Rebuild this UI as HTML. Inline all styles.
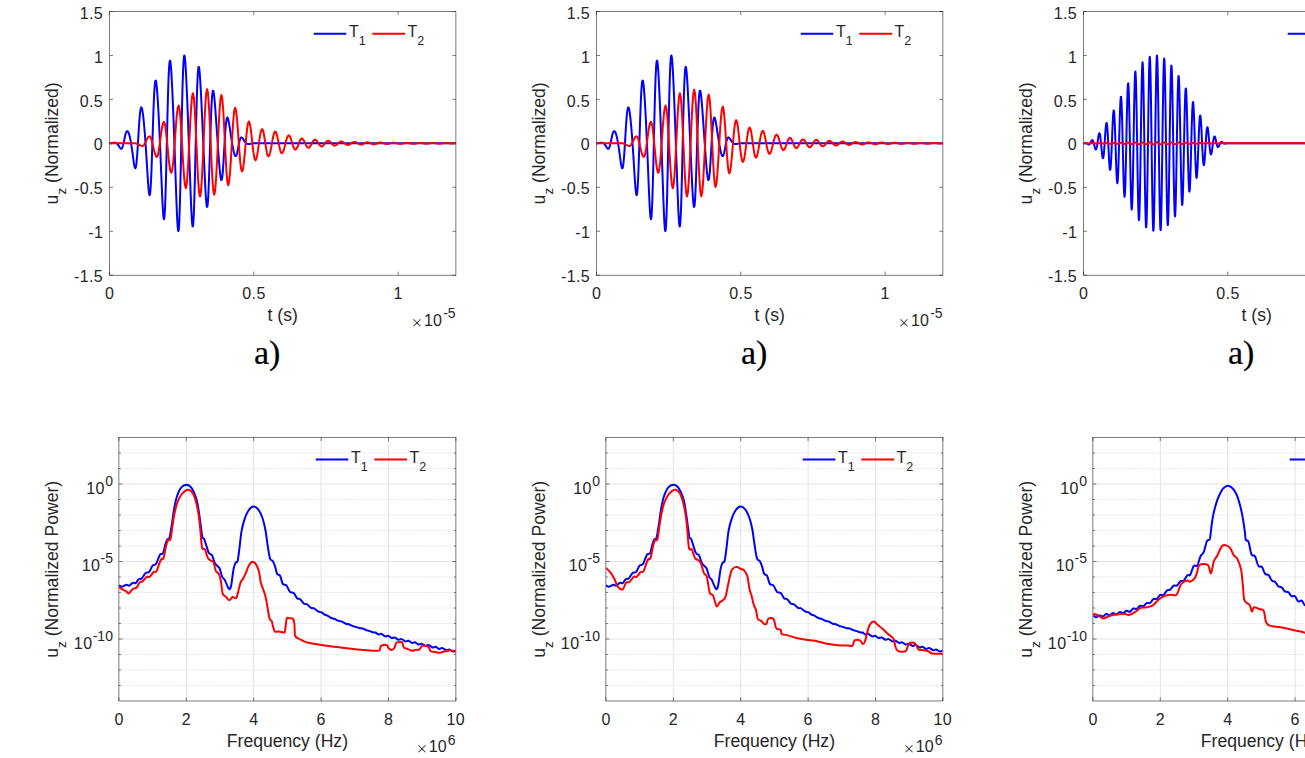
<!DOCTYPE html>
<html><head><meta charset="utf-8"><title>Figure</title>
<style>html,body{margin:0;padding:0;background:#fff;overflow:hidden}svg{display:block}</style>
</head><body>
<svg width="1305" height="758" viewBox="0 0 1305 758">
<rect width="1305" height="758" fill="#ffffff"/>
<defs><clipPath id="ct0"><rect x="109.4" y="11.5" width="346.5" height="263.7"/></clipPath></defs>
<rect x="109.4" y="11.5" width="346.5" height="263.7" fill="none" stroke="#262626" stroke-width="0.6"/>
<path d="M109.4 275.2H113M455.9 275.2H452.3" stroke="#262626" stroke-width="0.6"/>
<text x="74" y="282.3" font-size="16" text-anchor="start" font-family="'Liberation Sans', Arial, Helvetica, sans-serif" fill="#262626" letter-spacing="0.4">-1.5</text>
<path d="M109.4 231.25H113M455.9 231.25H452.3" stroke="#262626" stroke-width="0.6"/>
<text x="88.25" y="238.35" font-size="16" text-anchor="start" font-family="'Liberation Sans', Arial, Helvetica, sans-serif" fill="#262626" letter-spacing="0.4">-1</text>
<path d="M109.4 187.3H113M455.9 187.3H452.3" stroke="#262626" stroke-width="0.6"/>
<text x="74" y="194.4" font-size="16" text-anchor="start" font-family="'Liberation Sans', Arial, Helvetica, sans-serif" fill="#262626" letter-spacing="0.4">-0.5</text>
<path d="M109.4 143.35H113M455.9 143.35H452.3" stroke="#262626" stroke-width="0.6"/>
<text x="93.83" y="150.45" font-size="16" text-anchor="start" font-family="'Liberation Sans', Arial, Helvetica, sans-serif" fill="#262626" letter-spacing="0.4">0</text>
<path d="M109.4 99.4H113M455.9 99.4H452.3" stroke="#262626" stroke-width="0.6"/>
<text x="79.73" y="106.5" font-size="16" text-anchor="start" font-family="'Liberation Sans', Arial, Helvetica, sans-serif" fill="#262626" letter-spacing="0.4">0.5</text>
<path d="M109.4 55.45H113M455.9 55.45H452.3" stroke="#262626" stroke-width="0.6"/>
<text x="93.98" y="62.55" font-size="16" text-anchor="start" font-family="'Liberation Sans', Arial, Helvetica, sans-serif" fill="#262626" letter-spacing="0.4">1</text>
<path d="M109.4 11.5H113M455.9 11.5H452.3" stroke="#262626" stroke-width="0.6"/>
<text x="79.73" y="18.6" font-size="16" text-anchor="start" font-family="'Liberation Sans', Arial, Helvetica, sans-serif" fill="#262626" letter-spacing="0.4">1.5</text>
<path d="M109.4 275.2V271.6M109.4 11.5V15.1" stroke="#262626" stroke-width="0.6"/>
<text x="104.95" y="298.8" font-size="16" text-anchor="start" font-family="'Liberation Sans', Arial, Helvetica, sans-serif" fill="#262626" letter-spacing="0.4">0</text>
<path d="M253.78 275.2V271.6M253.78 11.5V15.1" stroke="#262626" stroke-width="0.6"/>
<text x="242.28" y="298.8" font-size="16" text-anchor="start" font-family="'Liberation Sans', Arial, Helvetica, sans-serif" fill="#262626" letter-spacing="0.4">0.5</text>
<path d="M398.15 275.2V271.6M398.15 11.5V15.1" stroke="#262626" stroke-width="0.6"/>
<text x="393.48" y="298.8" font-size="16" text-anchor="start" font-family="'Liberation Sans', Arial, Helvetica, sans-serif" fill="#262626" letter-spacing="0.4">1</text>
<text x="282.65" y="320.5" font-size="17.6" text-anchor="middle" font-family="'Liberation Sans', Arial, Helvetica, sans-serif" fill="#262626">t (s)</text>
<text x="443.14" y="318.2" font-size="14" text-anchor="start" font-family="'Liberation Sans', Arial, Helvetica, sans-serif" fill="#262626">-5</text>
<text x="423.99" y="325.6" font-size="16" text-anchor="start" font-family="'Liberation Sans', Arial, Helvetica, sans-serif" fill="#262626">10</text>
<text x="411.11" y="326.6" font-size="11.8" font-family="'Noto Sans CJK SC', 'Liberation Sans', sans-serif" fill="#262626">×</text>
<text transform="translate(58 143.35) rotate(-90)" font-size="17.6" text-anchor="middle" font-family="'Liberation Sans', Arial, Helvetica, sans-serif" fill="#262626">u<tspan font-size="13.5" dy="8">z</tspan><tspan dy="-8"> (Normalized)</tspan></text>
<text x="254" y="363.9" font-size="34" font-family="'Liberation Serif', 'Times New Roman', serif" fill="#000" stroke="#000" stroke-width="0.2">a)</text>
<defs><clipPath id="cb0"><rect x="118.9" y="437.5" width="337" height="263.5"/></clipPath></defs>
<path d="M186.3 437.5V701" stroke="#e3e3e3" stroke-width="1"/>
<path d="M253.7 437.5V701" stroke="#e3e3e3" stroke-width="1"/>
<path d="M321.1 437.5V701" stroke="#e3e3e3" stroke-width="1"/>
<path d="M388.5 437.5V701" stroke="#e3e3e3" stroke-width="1"/>
<path d="M118.9 685.5H455.9" stroke="#dcdcdc" stroke-width="1" stroke-dasharray="1 1.5"/>
<path d="M118.9 670H455.9" stroke="#dcdcdc" stroke-width="1" stroke-dasharray="1 1.5"/>
<path d="M118.9 654.5H455.9" stroke="#dcdcdc" stroke-width="1" stroke-dasharray="1 1.5"/>
<path d="M118.9 639H455.9" stroke="#e3e3e3" stroke-width="1"/>
<path d="M118.9 623.5H455.9" stroke="#dcdcdc" stroke-width="1" stroke-dasharray="1 1.5"/>
<path d="M118.9 608H455.9" stroke="#dcdcdc" stroke-width="1" stroke-dasharray="1 1.5"/>
<path d="M118.9 592.5H455.9" stroke="#dcdcdc" stroke-width="1" stroke-dasharray="1 1.5"/>
<path d="M118.9 577H455.9" stroke="#dcdcdc" stroke-width="1" stroke-dasharray="1 1.5"/>
<path d="M118.9 561.5H455.9" stroke="#e3e3e3" stroke-width="1"/>
<path d="M118.9 546H455.9" stroke="#dcdcdc" stroke-width="1" stroke-dasharray="1 1.5"/>
<path d="M118.9 530.5H455.9" stroke="#dcdcdc" stroke-width="1" stroke-dasharray="1 1.5"/>
<path d="M118.9 515H455.9" stroke="#dcdcdc" stroke-width="1" stroke-dasharray="1 1.5"/>
<path d="M118.9 499.5H455.9" stroke="#dcdcdc" stroke-width="1" stroke-dasharray="1 1.5"/>
<path d="M118.9 484H455.9" stroke="#e3e3e3" stroke-width="1"/>
<path d="M118.9 468.5H455.9" stroke="#dcdcdc" stroke-width="1" stroke-dasharray="1 1.5"/>
<path d="M118.9 453H455.9" stroke="#dcdcdc" stroke-width="1" stroke-dasharray="1 1.5"/>
<rect x="118.9" y="437.5" width="337" height="263.5" fill="none" stroke="#262626" stroke-width="0.6"/>
<path d="M118.9 685.5H120.9M455.9 685.5H453.9" stroke="#262626" stroke-width="0.6"/>
<path d="M118.9 670H120.9M455.9 670H453.9" stroke="#262626" stroke-width="0.6"/>
<path d="M118.9 654.5H120.9M455.9 654.5H453.9" stroke="#262626" stroke-width="0.6"/>
<path d="M118.9 639H122.5M455.9 639H452.3" stroke="#262626" stroke-width="0.6"/>
<path d="M118.9 623.5H120.9M455.9 623.5H453.9" stroke="#262626" stroke-width="0.6"/>
<path d="M118.9 608H120.9M455.9 608H453.9" stroke="#262626" stroke-width="0.6"/>
<path d="M118.9 592.5H120.9M455.9 592.5H453.9" stroke="#262626" stroke-width="0.6"/>
<path d="M118.9 577H120.9M455.9 577H453.9" stroke="#262626" stroke-width="0.6"/>
<path d="M118.9 561.5H122.5M455.9 561.5H452.3" stroke="#262626" stroke-width="0.6"/>
<path d="M118.9 546H120.9M455.9 546H453.9" stroke="#262626" stroke-width="0.6"/>
<path d="M118.9 530.5H120.9M455.9 530.5H453.9" stroke="#262626" stroke-width="0.6"/>
<path d="M118.9 515H120.9M455.9 515H453.9" stroke="#262626" stroke-width="0.6"/>
<path d="M118.9 499.5H120.9M455.9 499.5H453.9" stroke="#262626" stroke-width="0.6"/>
<path d="M118.9 484H122.5M455.9 484H452.3" stroke="#262626" stroke-width="0.6"/>
<path d="M118.9 468.5H120.9M455.9 468.5H453.9" stroke="#262626" stroke-width="0.6"/>
<path d="M118.9 453H120.9M455.9 453H453.9" stroke="#262626" stroke-width="0.6"/>
<path d="M118.9 701V697.4M118.9 437.5V441.1" stroke="#262626" stroke-width="0.6"/>
<text x="114.45" y="724.8" font-size="16" text-anchor="start" font-family="'Liberation Sans', Arial, Helvetica, sans-serif" fill="#262626" letter-spacing="0.4">0</text>
<path d="M186.3 701V697.4M186.3 437.5V441.1" stroke="#262626" stroke-width="0.6"/>
<text x="181.85" y="724.8" font-size="16" text-anchor="start" font-family="'Liberation Sans', Arial, Helvetica, sans-serif" fill="#262626" letter-spacing="0.4">2</text>
<path d="M253.7 701V697.4M253.7 437.5V441.1" stroke="#262626" stroke-width="0.6"/>
<text x="249.3" y="724.8" font-size="16" text-anchor="start" font-family="'Liberation Sans', Arial, Helvetica, sans-serif" fill="#262626" letter-spacing="0.4">4</text>
<path d="M321.1 701V697.4M321.1 437.5V441.1" stroke="#262626" stroke-width="0.6"/>
<text x="316.6" y="724.8" font-size="16" text-anchor="start" font-family="'Liberation Sans', Arial, Helvetica, sans-serif" fill="#262626" letter-spacing="0.4">6</text>
<path d="M388.5 701V697.4M388.5 437.5V441.1" stroke="#262626" stroke-width="0.6"/>
<text x="384.05" y="724.8" font-size="16" text-anchor="start" font-family="'Liberation Sans', Arial, Helvetica, sans-serif" fill="#262626" letter-spacing="0.4">8</text>
<path d="M455.9 701V697.4M455.9 437.5V441.1" stroke="#262626" stroke-width="0.6"/>
<text x="446.5" y="724.8" font-size="16" text-anchor="start" font-family="'Liberation Sans', Arial, Helvetica, sans-serif" fill="#262626" letter-spacing="0.4">10</text>
<text x="105.16" y="485.5" font-size="14" text-anchor="start" font-family="'Liberation Sans', Arial, Helvetica, sans-serif" fill="#262626">0</text>
<text x="86.24" y="493.6" font-size="16" text-anchor="start" font-family="'Liberation Sans', Arial, Helvetica, sans-serif" fill="#262626" letter-spacing="0.4">10</text>
<text x="100.54" y="563" font-size="14" text-anchor="start" font-family="'Liberation Sans', Arial, Helvetica, sans-serif" fill="#262626">-5</text>
<text x="81.69" y="571.1" font-size="16" text-anchor="start" font-family="'Liberation Sans', Arial, Helvetica, sans-serif" fill="#262626" letter-spacing="0.4">10</text>
<text x="92.71" y="640.5" font-size="14" text-anchor="start" font-family="'Liberation Sans', Arial, Helvetica, sans-serif" fill="#262626">-10</text>
<text x="73.86" y="648.6" font-size="16" text-anchor="start" font-family="'Liberation Sans', Arial, Helvetica, sans-serif" fill="#262626" letter-spacing="0.4">10</text>
<text x="287.4" y="746.7" font-size="17.6" text-anchor="middle" font-family="'Liberation Sans', Arial, Helvetica, sans-serif" fill="#262626">Frequency (Hz)</text>
<text x="447.83" y="744.8" font-size="14" text-anchor="start" font-family="'Liberation Sans', Arial, Helvetica, sans-serif" fill="#262626">6</text>
<text x="428.77" y="752.2" font-size="16" text-anchor="start" font-family="'Liberation Sans', Arial, Helvetica, sans-serif" fill="#262626">10</text>
<text x="415.89" y="753.2" font-size="11.8" font-family="'Noto Sans CJK SC', 'Liberation Sans', sans-serif" fill="#262626">×</text>
<text transform="translate(58 569.25) rotate(-90)" font-size="17.6" text-anchor="middle" font-family="'Liberation Sans', Arial, Helvetica, sans-serif" fill="#262626">u<tspan font-size="13.5" dy="8">z</tspan><tspan dy="-8"> (Normalized Power)</tspan></text>
<defs><clipPath id="ct1"><rect x="596.4" y="11.5" width="346.5" height="263.7"/></clipPath></defs>
<rect x="596.4" y="11.5" width="346.5" height="263.7" fill="none" stroke="#262626" stroke-width="0.6"/>
<path d="M596.4 275.2H600M942.9 275.2H939.3" stroke="#262626" stroke-width="0.6"/>
<text x="561" y="282.3" font-size="16" text-anchor="start" font-family="'Liberation Sans', Arial, Helvetica, sans-serif" fill="#262626" letter-spacing="0.4">-1.5</text>
<path d="M596.4 231.25H600M942.9 231.25H939.3" stroke="#262626" stroke-width="0.6"/>
<text x="575.25" y="238.35" font-size="16" text-anchor="start" font-family="'Liberation Sans', Arial, Helvetica, sans-serif" fill="#262626" letter-spacing="0.4">-1</text>
<path d="M596.4 187.3H600M942.9 187.3H939.3" stroke="#262626" stroke-width="0.6"/>
<text x="561" y="194.4" font-size="16" text-anchor="start" font-family="'Liberation Sans', Arial, Helvetica, sans-serif" fill="#262626" letter-spacing="0.4">-0.5</text>
<path d="M596.4 143.35H600M942.9 143.35H939.3" stroke="#262626" stroke-width="0.6"/>
<text x="580.83" y="150.45" font-size="16" text-anchor="start" font-family="'Liberation Sans', Arial, Helvetica, sans-serif" fill="#262626" letter-spacing="0.4">0</text>
<path d="M596.4 99.4H600M942.9 99.4H939.3" stroke="#262626" stroke-width="0.6"/>
<text x="566.73" y="106.5" font-size="16" text-anchor="start" font-family="'Liberation Sans', Arial, Helvetica, sans-serif" fill="#262626" letter-spacing="0.4">0.5</text>
<path d="M596.4 55.45H600M942.9 55.45H939.3" stroke="#262626" stroke-width="0.6"/>
<text x="580.98" y="62.55" font-size="16" text-anchor="start" font-family="'Liberation Sans', Arial, Helvetica, sans-serif" fill="#262626" letter-spacing="0.4">1</text>
<path d="M596.4 11.5H600M942.9 11.5H939.3" stroke="#262626" stroke-width="0.6"/>
<text x="566.73" y="18.6" font-size="16" text-anchor="start" font-family="'Liberation Sans', Arial, Helvetica, sans-serif" fill="#262626" letter-spacing="0.4">1.5</text>
<path d="M596.4 275.2V271.6M596.4 11.5V15.1" stroke="#262626" stroke-width="0.6"/>
<text x="591.95" y="298.8" font-size="16" text-anchor="start" font-family="'Liberation Sans', Arial, Helvetica, sans-serif" fill="#262626" letter-spacing="0.4">0</text>
<path d="M740.77 275.2V271.6M740.77 11.5V15.1" stroke="#262626" stroke-width="0.6"/>
<text x="729.28" y="298.8" font-size="16" text-anchor="start" font-family="'Liberation Sans', Arial, Helvetica, sans-serif" fill="#262626" letter-spacing="0.4">0.5</text>
<path d="M885.15 275.2V271.6M885.15 11.5V15.1" stroke="#262626" stroke-width="0.6"/>
<text x="880.48" y="298.8" font-size="16" text-anchor="start" font-family="'Liberation Sans', Arial, Helvetica, sans-serif" fill="#262626" letter-spacing="0.4">1</text>
<text x="769.65" y="320.5" font-size="17.6" text-anchor="middle" font-family="'Liberation Sans', Arial, Helvetica, sans-serif" fill="#262626">t (s)</text>
<text x="930.14" y="318.2" font-size="14" text-anchor="start" font-family="'Liberation Sans', Arial, Helvetica, sans-serif" fill="#262626">-5</text>
<text x="910.99" y="325.6" font-size="16" text-anchor="start" font-family="'Liberation Sans', Arial, Helvetica, sans-serif" fill="#262626">10</text>
<text x="898.11" y="326.6" font-size="11.8" font-family="'Noto Sans CJK SC', 'Liberation Sans', sans-serif" fill="#262626">×</text>
<text transform="translate(545 143.35) rotate(-90)" font-size="17.6" text-anchor="middle" font-family="'Liberation Sans', Arial, Helvetica, sans-serif" fill="#262626">u<tspan font-size="13.5" dy="8">z</tspan><tspan dy="-8"> (Normalized)</tspan></text>
<text x="741" y="363.9" font-size="34" font-family="'Liberation Serif', 'Times New Roman', serif" fill="#000" stroke="#000" stroke-width="0.2">a)</text>
<defs><clipPath id="cb1"><rect x="605.9" y="437.5" width="337" height="263.5"/></clipPath></defs>
<path d="M673.3 437.5V701" stroke="#e3e3e3" stroke-width="1"/>
<path d="M740.7 437.5V701" stroke="#e3e3e3" stroke-width="1"/>
<path d="M808.1 437.5V701" stroke="#e3e3e3" stroke-width="1"/>
<path d="M875.5 437.5V701" stroke="#e3e3e3" stroke-width="1"/>
<path d="M605.9 685.5H942.9" stroke="#dcdcdc" stroke-width="1" stroke-dasharray="1 1.5"/>
<path d="M605.9 670H942.9" stroke="#dcdcdc" stroke-width="1" stroke-dasharray="1 1.5"/>
<path d="M605.9 654.5H942.9" stroke="#dcdcdc" stroke-width="1" stroke-dasharray="1 1.5"/>
<path d="M605.9 639H942.9" stroke="#e3e3e3" stroke-width="1"/>
<path d="M605.9 623.5H942.9" stroke="#dcdcdc" stroke-width="1" stroke-dasharray="1 1.5"/>
<path d="M605.9 608H942.9" stroke="#dcdcdc" stroke-width="1" stroke-dasharray="1 1.5"/>
<path d="M605.9 592.5H942.9" stroke="#dcdcdc" stroke-width="1" stroke-dasharray="1 1.5"/>
<path d="M605.9 577H942.9" stroke="#dcdcdc" stroke-width="1" stroke-dasharray="1 1.5"/>
<path d="M605.9 561.5H942.9" stroke="#e3e3e3" stroke-width="1"/>
<path d="M605.9 546H942.9" stroke="#dcdcdc" stroke-width="1" stroke-dasharray="1 1.5"/>
<path d="M605.9 530.5H942.9" stroke="#dcdcdc" stroke-width="1" stroke-dasharray="1 1.5"/>
<path d="M605.9 515H942.9" stroke="#dcdcdc" stroke-width="1" stroke-dasharray="1 1.5"/>
<path d="M605.9 499.5H942.9" stroke="#dcdcdc" stroke-width="1" stroke-dasharray="1 1.5"/>
<path d="M605.9 484H942.9" stroke="#e3e3e3" stroke-width="1"/>
<path d="M605.9 468.5H942.9" stroke="#dcdcdc" stroke-width="1" stroke-dasharray="1 1.5"/>
<path d="M605.9 453H942.9" stroke="#dcdcdc" stroke-width="1" stroke-dasharray="1 1.5"/>
<rect x="605.9" y="437.5" width="337" height="263.5" fill="none" stroke="#262626" stroke-width="0.6"/>
<path d="M605.9 685.5H607.9M942.9 685.5H940.9" stroke="#262626" stroke-width="0.6"/>
<path d="M605.9 670H607.9M942.9 670H940.9" stroke="#262626" stroke-width="0.6"/>
<path d="M605.9 654.5H607.9M942.9 654.5H940.9" stroke="#262626" stroke-width="0.6"/>
<path d="M605.9 639H609.5M942.9 639H939.3" stroke="#262626" stroke-width="0.6"/>
<path d="M605.9 623.5H607.9M942.9 623.5H940.9" stroke="#262626" stroke-width="0.6"/>
<path d="M605.9 608H607.9M942.9 608H940.9" stroke="#262626" stroke-width="0.6"/>
<path d="M605.9 592.5H607.9M942.9 592.5H940.9" stroke="#262626" stroke-width="0.6"/>
<path d="M605.9 577H607.9M942.9 577H940.9" stroke="#262626" stroke-width="0.6"/>
<path d="M605.9 561.5H609.5M942.9 561.5H939.3" stroke="#262626" stroke-width="0.6"/>
<path d="M605.9 546H607.9M942.9 546H940.9" stroke="#262626" stroke-width="0.6"/>
<path d="M605.9 530.5H607.9M942.9 530.5H940.9" stroke="#262626" stroke-width="0.6"/>
<path d="M605.9 515H607.9M942.9 515H940.9" stroke="#262626" stroke-width="0.6"/>
<path d="M605.9 499.5H607.9M942.9 499.5H940.9" stroke="#262626" stroke-width="0.6"/>
<path d="M605.9 484H609.5M942.9 484H939.3" stroke="#262626" stroke-width="0.6"/>
<path d="M605.9 468.5H607.9M942.9 468.5H940.9" stroke="#262626" stroke-width="0.6"/>
<path d="M605.9 453H607.9M942.9 453H940.9" stroke="#262626" stroke-width="0.6"/>
<path d="M605.9 701V697.4M605.9 437.5V441.1" stroke="#262626" stroke-width="0.6"/>
<text x="601.45" y="724.8" font-size="16" text-anchor="start" font-family="'Liberation Sans', Arial, Helvetica, sans-serif" fill="#262626" letter-spacing="0.4">0</text>
<path d="M673.3 701V697.4M673.3 437.5V441.1" stroke="#262626" stroke-width="0.6"/>
<text x="668.85" y="724.8" font-size="16" text-anchor="start" font-family="'Liberation Sans', Arial, Helvetica, sans-serif" fill="#262626" letter-spacing="0.4">2</text>
<path d="M740.7 701V697.4M740.7 437.5V441.1" stroke="#262626" stroke-width="0.6"/>
<text x="736.3" y="724.8" font-size="16" text-anchor="start" font-family="'Liberation Sans', Arial, Helvetica, sans-serif" fill="#262626" letter-spacing="0.4">4</text>
<path d="M808.1 701V697.4M808.1 437.5V441.1" stroke="#262626" stroke-width="0.6"/>
<text x="803.6" y="724.8" font-size="16" text-anchor="start" font-family="'Liberation Sans', Arial, Helvetica, sans-serif" fill="#262626" letter-spacing="0.4">6</text>
<path d="M875.5 701V697.4M875.5 437.5V441.1" stroke="#262626" stroke-width="0.6"/>
<text x="871.05" y="724.8" font-size="16" text-anchor="start" font-family="'Liberation Sans', Arial, Helvetica, sans-serif" fill="#262626" letter-spacing="0.4">8</text>
<path d="M942.9 701V697.4M942.9 437.5V441.1" stroke="#262626" stroke-width="0.6"/>
<text x="933.5" y="724.8" font-size="16" text-anchor="start" font-family="'Liberation Sans', Arial, Helvetica, sans-serif" fill="#262626" letter-spacing="0.4">10</text>
<text x="592.16" y="485.5" font-size="14" text-anchor="start" font-family="'Liberation Sans', Arial, Helvetica, sans-serif" fill="#262626">0</text>
<text x="573.24" y="493.6" font-size="16" text-anchor="start" font-family="'Liberation Sans', Arial, Helvetica, sans-serif" fill="#262626" letter-spacing="0.4">10</text>
<text x="587.54" y="563" font-size="14" text-anchor="start" font-family="'Liberation Sans', Arial, Helvetica, sans-serif" fill="#262626">-5</text>
<text x="568.69" y="571.1" font-size="16" text-anchor="start" font-family="'Liberation Sans', Arial, Helvetica, sans-serif" fill="#262626" letter-spacing="0.4">10</text>
<text x="579.71" y="640.5" font-size="14" text-anchor="start" font-family="'Liberation Sans', Arial, Helvetica, sans-serif" fill="#262626">-10</text>
<text x="560.86" y="648.6" font-size="16" text-anchor="start" font-family="'Liberation Sans', Arial, Helvetica, sans-serif" fill="#262626" letter-spacing="0.4">10</text>
<text x="774.4" y="746.7" font-size="17.6" text-anchor="middle" font-family="'Liberation Sans', Arial, Helvetica, sans-serif" fill="#262626">Frequency (Hz)</text>
<text x="934.83" y="744.8" font-size="14" text-anchor="start" font-family="'Liberation Sans', Arial, Helvetica, sans-serif" fill="#262626">6</text>
<text x="915.77" y="752.2" font-size="16" text-anchor="start" font-family="'Liberation Sans', Arial, Helvetica, sans-serif" fill="#262626">10</text>
<text x="902.89" y="753.2" font-size="11.8" font-family="'Noto Sans CJK SC', 'Liberation Sans', sans-serif" fill="#262626">×</text>
<text transform="translate(545 569.25) rotate(-90)" font-size="17.6" text-anchor="middle" font-family="'Liberation Sans', Arial, Helvetica, sans-serif" fill="#262626">u<tspan font-size="13.5" dy="8">z</tspan><tspan dy="-8"> (Normalized Power)</tspan></text>
<defs><clipPath id="ct2"><rect x="1083.4" y="11.5" width="346.5" height="263.7"/></clipPath></defs>
<rect x="1083.4" y="11.5" width="346.5" height="263.7" fill="none" stroke="#262626" stroke-width="0.6"/>
<path d="M1083.4 275.2H1087M1429.9 275.2H1426.3" stroke="#262626" stroke-width="0.6"/>
<text x="1048" y="282.3" font-size="16" text-anchor="start" font-family="'Liberation Sans', Arial, Helvetica, sans-serif" fill="#262626" letter-spacing="0.4">-1.5</text>
<path d="M1083.4 231.25H1087M1429.9 231.25H1426.3" stroke="#262626" stroke-width="0.6"/>
<text x="1062.25" y="238.35" font-size="16" text-anchor="start" font-family="'Liberation Sans', Arial, Helvetica, sans-serif" fill="#262626" letter-spacing="0.4">-1</text>
<path d="M1083.4 187.3H1087M1429.9 187.3H1426.3" stroke="#262626" stroke-width="0.6"/>
<text x="1048" y="194.4" font-size="16" text-anchor="start" font-family="'Liberation Sans', Arial, Helvetica, sans-serif" fill="#262626" letter-spacing="0.4">-0.5</text>
<path d="M1083.4 143.35H1087M1429.9 143.35H1426.3" stroke="#262626" stroke-width="0.6"/>
<text x="1067.83" y="150.45" font-size="16" text-anchor="start" font-family="'Liberation Sans', Arial, Helvetica, sans-serif" fill="#262626" letter-spacing="0.4">0</text>
<path d="M1083.4 99.4H1087M1429.9 99.4H1426.3" stroke="#262626" stroke-width="0.6"/>
<text x="1053.73" y="106.5" font-size="16" text-anchor="start" font-family="'Liberation Sans', Arial, Helvetica, sans-serif" fill="#262626" letter-spacing="0.4">0.5</text>
<path d="M1083.4 55.45H1087M1429.9 55.45H1426.3" stroke="#262626" stroke-width="0.6"/>
<text x="1067.98" y="62.55" font-size="16" text-anchor="start" font-family="'Liberation Sans', Arial, Helvetica, sans-serif" fill="#262626" letter-spacing="0.4">1</text>
<path d="M1083.4 11.5H1087M1429.9 11.5H1426.3" stroke="#262626" stroke-width="0.6"/>
<text x="1053.73" y="18.6" font-size="16" text-anchor="start" font-family="'Liberation Sans', Arial, Helvetica, sans-serif" fill="#262626" letter-spacing="0.4">1.5</text>
<path d="M1083.4 275.2V271.6M1083.4 11.5V15.1" stroke="#262626" stroke-width="0.6"/>
<text x="1078.95" y="298.8" font-size="16" text-anchor="start" font-family="'Liberation Sans', Arial, Helvetica, sans-serif" fill="#262626" letter-spacing="0.4">0</text>
<path d="M1227.78 275.2V271.6M1227.78 11.5V15.1" stroke="#262626" stroke-width="0.6"/>
<text x="1216.28" y="298.8" font-size="16" text-anchor="start" font-family="'Liberation Sans', Arial, Helvetica, sans-serif" fill="#262626" letter-spacing="0.4">0.5</text>
<path d="M1372.15 275.2V271.6M1372.15 11.5V15.1" stroke="#262626" stroke-width="0.6"/>
<text x="1367.48" y="298.8" font-size="16" text-anchor="start" font-family="'Liberation Sans', Arial, Helvetica, sans-serif" fill="#262626" letter-spacing="0.4">1</text>
<text x="1256.65" y="320.5" font-size="17.6" text-anchor="middle" font-family="'Liberation Sans', Arial, Helvetica, sans-serif" fill="#262626">t (s)</text>
<text x="1417.14" y="318.2" font-size="14" text-anchor="start" font-family="'Liberation Sans', Arial, Helvetica, sans-serif" fill="#262626">-5</text>
<text x="1397.99" y="325.6" font-size="16" text-anchor="start" font-family="'Liberation Sans', Arial, Helvetica, sans-serif" fill="#262626">10</text>
<text x="1385.11" y="326.6" font-size="11.8" font-family="'Noto Sans CJK SC', 'Liberation Sans', sans-serif" fill="#262626">×</text>
<text transform="translate(1032 143.35) rotate(-90)" font-size="17.6" text-anchor="middle" font-family="'Liberation Sans', Arial, Helvetica, sans-serif" fill="#262626">u<tspan font-size="13.5" dy="8">z</tspan><tspan dy="-8"> (Normalized)</tspan></text>
<text x="1228" y="363.9" font-size="34" font-family="'Liberation Serif', 'Times New Roman', serif" fill="#000" stroke="#000" stroke-width="0.2">a)</text>
<defs><clipPath id="cb2"><rect x="1092.9" y="437.5" width="337" height="263.5"/></clipPath></defs>
<path d="M1160.3 437.5V701" stroke="#e3e3e3" stroke-width="1"/>
<path d="M1227.7 437.5V701" stroke="#e3e3e3" stroke-width="1"/>
<path d="M1295.1 437.5V701" stroke="#e3e3e3" stroke-width="1"/>
<path d="M1362.5 437.5V701" stroke="#e3e3e3" stroke-width="1"/>
<path d="M1092.9 685.5H1429.9" stroke="#dcdcdc" stroke-width="1" stroke-dasharray="1 1.5"/>
<path d="M1092.9 670H1429.9" stroke="#dcdcdc" stroke-width="1" stroke-dasharray="1 1.5"/>
<path d="M1092.9 654.5H1429.9" stroke="#dcdcdc" stroke-width="1" stroke-dasharray="1 1.5"/>
<path d="M1092.9 639H1429.9" stroke="#e3e3e3" stroke-width="1"/>
<path d="M1092.9 623.5H1429.9" stroke="#dcdcdc" stroke-width="1" stroke-dasharray="1 1.5"/>
<path d="M1092.9 608H1429.9" stroke="#dcdcdc" stroke-width="1" stroke-dasharray="1 1.5"/>
<path d="M1092.9 592.5H1429.9" stroke="#dcdcdc" stroke-width="1" stroke-dasharray="1 1.5"/>
<path d="M1092.9 577H1429.9" stroke="#dcdcdc" stroke-width="1" stroke-dasharray="1 1.5"/>
<path d="M1092.9 561.5H1429.9" stroke="#e3e3e3" stroke-width="1"/>
<path d="M1092.9 546H1429.9" stroke="#dcdcdc" stroke-width="1" stroke-dasharray="1 1.5"/>
<path d="M1092.9 530.5H1429.9" stroke="#dcdcdc" stroke-width="1" stroke-dasharray="1 1.5"/>
<path d="M1092.9 515H1429.9" stroke="#dcdcdc" stroke-width="1" stroke-dasharray="1 1.5"/>
<path d="M1092.9 499.5H1429.9" stroke="#dcdcdc" stroke-width="1" stroke-dasharray="1 1.5"/>
<path d="M1092.9 484H1429.9" stroke="#e3e3e3" stroke-width="1"/>
<path d="M1092.9 468.5H1429.9" stroke="#dcdcdc" stroke-width="1" stroke-dasharray="1 1.5"/>
<path d="M1092.9 453H1429.9" stroke="#dcdcdc" stroke-width="1" stroke-dasharray="1 1.5"/>
<rect x="1092.9" y="437.5" width="337" height="263.5" fill="none" stroke="#262626" stroke-width="0.6"/>
<path d="M1092.9 685.5H1094.9M1429.9 685.5H1427.9" stroke="#262626" stroke-width="0.6"/>
<path d="M1092.9 670H1094.9M1429.9 670H1427.9" stroke="#262626" stroke-width="0.6"/>
<path d="M1092.9 654.5H1094.9M1429.9 654.5H1427.9" stroke="#262626" stroke-width="0.6"/>
<path d="M1092.9 639H1096.5M1429.9 639H1426.3" stroke="#262626" stroke-width="0.6"/>
<path d="M1092.9 623.5H1094.9M1429.9 623.5H1427.9" stroke="#262626" stroke-width="0.6"/>
<path d="M1092.9 608H1094.9M1429.9 608H1427.9" stroke="#262626" stroke-width="0.6"/>
<path d="M1092.9 592.5H1094.9M1429.9 592.5H1427.9" stroke="#262626" stroke-width="0.6"/>
<path d="M1092.9 577H1094.9M1429.9 577H1427.9" stroke="#262626" stroke-width="0.6"/>
<path d="M1092.9 561.5H1096.5M1429.9 561.5H1426.3" stroke="#262626" stroke-width="0.6"/>
<path d="M1092.9 546H1094.9M1429.9 546H1427.9" stroke="#262626" stroke-width="0.6"/>
<path d="M1092.9 530.5H1094.9M1429.9 530.5H1427.9" stroke="#262626" stroke-width="0.6"/>
<path d="M1092.9 515H1094.9M1429.9 515H1427.9" stroke="#262626" stroke-width="0.6"/>
<path d="M1092.9 499.5H1094.9M1429.9 499.5H1427.9" stroke="#262626" stroke-width="0.6"/>
<path d="M1092.9 484H1096.5M1429.9 484H1426.3" stroke="#262626" stroke-width="0.6"/>
<path d="M1092.9 468.5H1094.9M1429.9 468.5H1427.9" stroke="#262626" stroke-width="0.6"/>
<path d="M1092.9 453H1094.9M1429.9 453H1427.9" stroke="#262626" stroke-width="0.6"/>
<path d="M1092.9 701V697.4M1092.9 437.5V441.1" stroke="#262626" stroke-width="0.6"/>
<text x="1088.45" y="724.8" font-size="16" text-anchor="start" font-family="'Liberation Sans', Arial, Helvetica, sans-serif" fill="#262626" letter-spacing="0.4">0</text>
<path d="M1160.3 701V697.4M1160.3 437.5V441.1" stroke="#262626" stroke-width="0.6"/>
<text x="1155.85" y="724.8" font-size="16" text-anchor="start" font-family="'Liberation Sans', Arial, Helvetica, sans-serif" fill="#262626" letter-spacing="0.4">2</text>
<path d="M1227.7 701V697.4M1227.7 437.5V441.1" stroke="#262626" stroke-width="0.6"/>
<text x="1223.3" y="724.8" font-size="16" text-anchor="start" font-family="'Liberation Sans', Arial, Helvetica, sans-serif" fill="#262626" letter-spacing="0.4">4</text>
<path d="M1295.1 701V697.4M1295.1 437.5V441.1" stroke="#262626" stroke-width="0.6"/>
<text x="1290.6" y="724.8" font-size="16" text-anchor="start" font-family="'Liberation Sans', Arial, Helvetica, sans-serif" fill="#262626" letter-spacing="0.4">6</text>
<path d="M1362.5 701V697.4M1362.5 437.5V441.1" stroke="#262626" stroke-width="0.6"/>
<text x="1358.05" y="724.8" font-size="16" text-anchor="start" font-family="'Liberation Sans', Arial, Helvetica, sans-serif" fill="#262626" letter-spacing="0.4">8</text>
<path d="M1429.9 701V697.4M1429.9 437.5V441.1" stroke="#262626" stroke-width="0.6"/>
<text x="1420.5" y="724.8" font-size="16" text-anchor="start" font-family="'Liberation Sans', Arial, Helvetica, sans-serif" fill="#262626" letter-spacing="0.4">10</text>
<text x="1079.16" y="485.5" font-size="14" text-anchor="start" font-family="'Liberation Sans', Arial, Helvetica, sans-serif" fill="#262626">0</text>
<text x="1060.24" y="493.6" font-size="16" text-anchor="start" font-family="'Liberation Sans', Arial, Helvetica, sans-serif" fill="#262626" letter-spacing="0.4">10</text>
<text x="1074.54" y="563" font-size="14" text-anchor="start" font-family="'Liberation Sans', Arial, Helvetica, sans-serif" fill="#262626">-5</text>
<text x="1055.69" y="571.1" font-size="16" text-anchor="start" font-family="'Liberation Sans', Arial, Helvetica, sans-serif" fill="#262626" letter-spacing="0.4">10</text>
<text x="1066.71" y="640.5" font-size="14" text-anchor="start" font-family="'Liberation Sans', Arial, Helvetica, sans-serif" fill="#262626">-10</text>
<text x="1047.86" y="648.6" font-size="16" text-anchor="start" font-family="'Liberation Sans', Arial, Helvetica, sans-serif" fill="#262626" letter-spacing="0.4">10</text>
<text x="1261.4" y="746.7" font-size="17.6" text-anchor="middle" font-family="'Liberation Sans', Arial, Helvetica, sans-serif" fill="#262626">Frequency (Hz)</text>
<text x="1421.83" y="744.8" font-size="14" text-anchor="start" font-family="'Liberation Sans', Arial, Helvetica, sans-serif" fill="#262626">6</text>
<text x="1402.77" y="752.2" font-size="16" text-anchor="start" font-family="'Liberation Sans', Arial, Helvetica, sans-serif" fill="#262626">10</text>
<text x="1389.89" y="753.2" font-size="11.8" font-family="'Noto Sans CJK SC', 'Liberation Sans', sans-serif" fill="#262626">×</text>
<text transform="translate(1032 569.25) rotate(-90)" font-size="17.6" text-anchor="middle" font-family="'Liberation Sans', Arial, Helvetica, sans-serif" fill="#262626">u<tspan font-size="13.5" dy="8">z</tspan><tspan dy="-8"> (Normalized Power)</tspan></text>
<path d="M109.4 143.35 L109.65 143.35 L109.9 143.35 L110.14 143.34 L110.39 143.32 L110.64 143.3 L110.89 143.27 L111.13 143.24 L111.38 143.2 L111.63 143.15 L111.88 143.1 L112.12 143.04 L112.37 142.98 L112.62 142.92 L112.87 142.87 L113.12 142.82 L113.36 142.77 L113.61 142.73 L113.86 142.7 L114.11 142.67 L114.35 142.66 L114.6 142.66 L114.85 142.68 L115.1 142.71 L115.34 142.76 L115.59 142.82 L115.84 142.91 L116.09 143.01 L116.33 143.14 L116.58 143.3 L116.83 143.48 L117.08 143.69 L117.33 143.92 L117.57 144.19 L117.82 144.48 L118.07 144.8 L118.32 145.15 L118.56 145.51 L118.81 145.9 L119.06 146.3 L119.31 146.71 L119.55 147.11 L119.8 147.49 L120.05 147.85 L120.3 148.18 L120.55 148.44 L120.79 148.64 L121.04 148.75 L121.29 148.76 L121.54 148.66 L121.78 148.44 L122.03 148.08 L122.28 147.59 L122.53 146.97 L122.77 146.22 L123.02 145.35 L123.27 144.37 L123.52 143.3 L123.77 142.17 L124.01 140.99 L124.26 139.78 L124.51 138.59 L124.76 137.42 L125 136.31 L125.25 135.27 L125.5 134.32 L125.75 133.49 L125.99 132.77 L126.24 132.17 L126.49 131.71 L126.74 131.38 L126.99 131.19 L127.23 131.13 L127.48 131.19 L127.73 131.37 L127.98 131.66 L128.22 132.07 L128.47 132.57 L128.72 133.17 L128.97 133.87 L129.21 134.65 L129.46 135.52 L129.71 136.48 L129.96 137.52 L130.2 138.64 L130.45 139.84 L130.7 141.13 L130.95 142.51 L131.2 143.96 L131.44 145.5 L131.69 147.12 L131.94 148.81 L132.19 150.57 L132.43 152.39 L132.68 154.24 L132.93 156.11 L133.18 157.98 L133.42 159.81 L133.67 161.58 L133.92 163.23 L134.17 164.73 L134.42 166.04 L134.66 167.09 L134.91 167.84 L135.16 168.24 L135.41 168.26 L135.65 167.84 L135.9 166.97 L136.15 165.62 L136.4 163.79 L136.64 161.5 L136.89 158.76 L137.14 155.62 L137.39 152.12 L137.64 148.34 L137.88 144.36 L138.13 140.25 L138.38 136.11 L138.63 132.01 L138.87 128.05 L139.12 124.3 L139.37 120.83 L139.62 117.69 L139.86 114.94 L140.11 112.6 L140.36 110.69 L140.61 109.22 L140.85 108.2 L141.1 107.6 L141.35 107.41 L141.6 107.6 L141.85 108.16 L142.09 109.04 L142.34 110.22 L142.59 111.68 L142.84 113.38 L143.08 115.3 L143.33 117.43 L143.58 119.74 L143.83 122.23 L144.07 124.87 L144.32 127.67 L144.57 130.61 L144.82 133.7 L145.07 136.92 L145.31 140.29 L145.56 143.79 L145.81 147.41 L146.06 151.15 L146.3 155 L146.55 158.93 L146.8 162.92 L147.05 166.94 L147.29 170.95 L147.54 174.88 L147.79 178.69 L148.04 182.31 L148.29 185.65 L148.53 188.63 L148.78 191.17 L149.03 193.16 L149.28 194.52 L149.52 195.17 L149.77 195.02 L150.02 194.02 L150.27 192.12 L150.51 189.29 L150.76 185.55 L151.01 180.93 L151.26 175.48 L151.51 169.29 L151.75 162.48 L152 155.19 L152.25 147.55 L152.5 139.74 L152.74 131.93 L152.99 124.26 L153.24 116.91 L153.49 110.01 L153.73 103.68 L153.98 98.02 L154.23 93.1 L154.48 88.97 L154.72 85.67 L154.97 83.2 L155.22 81.53 L155.47 80.64 L155.72 80.49 L155.96 81.03 L156.21 82.18 L156.46 83.91 L156.71 86.14 L156.95 88.81 L157.2 91.89 L157.45 95.31 L157.7 99.04 L157.94 103.04 L158.19 107.28 L158.44 111.74 L158.69 116.41 L158.94 121.26 L159.18 126.3 L159.43 131.5 L159.68 136.87 L159.93 142.4 L160.17 148.07 L160.42 153.88 L160.67 159.79 L160.92 165.79 L161.16 171.83 L161.41 177.87 L161.66 183.84 L161.91 189.68 L162.16 195.29 L162.4 200.59 L162.65 205.47 L162.9 209.79 L163.15 213.45 L163.39 216.32 L163.64 218.27 L163.89 219.18 L164.14 218.96 L164.38 217.52 L164.63 214.81 L164.88 210.8 L165.13 205.52 L165.37 199 L165.62 191.34 L165.87 182.67 L166.12 173.15 L166.37 162.97 L166.61 152.35 L166.86 141.51 L167.11 130.69 L167.36 120.11 L167.6 109.98 L167.85 100.51 L168.1 91.84 L168.35 84.11 L168.59 77.43 L168.84 71.86 L169.09 67.42 L169.34 64.12 L169.59 61.92 L169.83 60.79 L170.08 60.65 L170.33 61.43 L170.58 63.04 L170.82 65.4 L171.07 68.41 L171.32 72 L171.57 76.09 L171.81 80.6 L172.06 85.49 L172.31 90.69 L172.56 96.17 L172.81 101.89 L173.05 107.83 L173.3 113.96 L173.55 120.28 L173.8 126.76 L174.04 133.4 L174.29 140.18 L174.54 147.09 L174.79 154.12 L175.03 161.24 L175.28 168.42 L175.53 175.61 L175.78 182.76 L176.03 189.8 L176.27 196.66 L176.52 203.23 L176.77 209.41 L177.02 215.09 L177.26 220.12 L177.51 224.37 L177.76 227.71 L178.01 230 L178.25 231.11 L178.5 230.93 L178.75 229.38 L179 226.39 L179.24 221.95 L179.49 216.07 L179.74 208.81 L179.99 200.28 L180.24 190.63 L180.48 180.02 L180.73 168.7 L180.98 156.88 L181.23 144.83 L181.47 132.81 L181.72 121.07 L181.97 109.84 L182.22 99.35 L182.46 89.76 L182.71 81.23 L182.96 73.86 L183.21 67.72 L183.46 62.84 L183.7 59.22 L183.95 56.83 L184.2 55.59 L184.45 55.45 L184.69 56.3 L184.94 58.05 L185.19 60.61 L185.44 63.85 L185.68 67.71 L185.93 72.07 L186.18 76.88 L186.43 82.05 L186.68 87.53 L186.92 93.26 L187.17 99.22 L187.42 105.36 L187.67 111.66 L187.91 118.11 L188.16 124.69 L188.41 131.38 L188.66 138.18 L188.9 145.06 L189.15 152.02 L189.4 159.03 L189.65 166.06 L189.89 173.06 L190.14 180 L190.39 186.8 L190.64 193.4 L190.89 199.71 L191.13 205.62 L191.38 211.04 L191.63 215.84 L191.88 219.91 L192.12 223.1 L192.37 225.31 L192.62 226.42 L192.87 226.33 L193.11 224.97 L193.36 222.28 L193.61 218.25 L193.86 212.89 L194.11 206.28 L194.35 198.49 L194.6 189.67 L194.85 180 L195.1 169.66 L195.34 158.89 L195.59 147.91 L195.84 136.96 L196.09 126.27 L196.33 116.06 L196.58 106.53 L196.83 97.84 L197.08 90.11 L197.33 83.44 L197.57 77.9 L197.82 73.51 L198.07 70.26 L198.32 68.11 L198.56 67.01 L198.81 66.89 L199.06 67.66 L199.31 69.23 L199.55 71.5 L199.8 74.37 L200.05 77.77 L200.3 81.6 L200.55 85.8 L200.79 90.29 L201.04 95.02 L201.29 99.95 L201.54 105.03 L201.78 110.24 L202.03 115.55 L202.28 120.94 L202.53 126.41 L202.77 131.93 L203.02 137.5 L203.27 143.1 L203.52 148.73 L203.76 154.36 L204.01 159.96 L204.26 165.52 L204.51 170.99 L204.76 176.33 L205 181.48 L205.25 186.38 L205.5 190.96 L205.75 195.14 L205.99 198.83 L206.24 201.94 L206.49 204.39 L206.74 206.08 L206.98 206.93 L207.23 206.88 L207.48 205.87 L207.73 203.87 L207.98 200.88 L208.22 196.91 L208.47 192 L208.72 186.24 L208.97 179.72 L209.21 172.59 L209.46 164.98 L209.71 157.07 L209.96 149.02 L210.2 141.01 L210.45 133.22 L210.7 125.79 L210.95 118.87 L211.2 112.58 L211.44 107.01 L211.69 102.23 L211.94 98.27 L212.19 95.16 L212.43 92.87 L212.68 91.39 L212.93 90.66 L213.18 90.63 L213.42 91.23 L213.67 92.39 L213.92 94.04 L214.17 96.1 L214.42 98.52 L214.66 101.22 L214.91 104.15 L215.16 107.27 L215.41 110.53 L215.65 113.89 L215.9 117.33 L216.15 120.82 L216.4 124.35 L216.64 127.91 L216.89 131.47 L217.14 135.04 L217.39 138.61 L217.63 142.16 L217.88 145.69 L218.13 149.19 L218.38 152.64 L218.63 156.03 L218.87 159.34 L219.12 162.54 L219.37 165.59 L219.62 168.48 L219.86 171.14 L220.11 173.55 L220.36 175.66 L220.61 177.41 L220.85 178.76 L221.1 179.67 L221.35 180.09 L221.6 180 L221.85 179.36 L222.09 178.17 L222.34 176.42 L222.59 174.14 L222.84 171.35 L223.08 168.11 L223.33 164.48 L223.58 160.52 L223.83 156.34 L224.07 152.02 L224.32 147.65 L224.57 143.34 L224.82 139.17 L225.07 135.24 L225.31 131.6 L225.56 128.33 L225.81 125.46 L226.06 123.03 L226.3 121.05 L226.55 119.53 L226.8 118.45 L227.05 117.79 L227.29 117.53 L227.54 117.62 L227.79 118.03 L228.04 118.72 L228.28 119.64 L228.53 120.76 L228.78 122.03 L229.03 123.43 L229.28 124.92 L229.52 126.48 L229.77 128.09 L230.02 129.72 L230.27 131.36 L230.51 133 L230.76 134.63 L231.01 136.24 L231.26 137.84 L231.5 139.4 L231.75 140.93 L232 142.43 L232.25 143.89 L232.5 145.31 L232.74 146.68 L232.99 148 L233.24 149.25 L233.49 150.44 L233.73 151.55 L233.98 152.57 L234.23 153.49 L234.48 154.29 L234.72 154.96 L234.97 155.48 L235.22 155.86 L235.47 156.06 L235.72 156.09 L235.96 155.94 L236.21 155.61 L236.46 155.09 L236.71 154.4 L236.95 153.55 L237.2 152.56 L237.45 151.44 L237.7 150.22 L237.94 148.94 L238.19 147.61 L238.44 146.28 L238.69 144.96 L238.94 143.7 L239.18 142.52 L239.43 141.43 L239.68 140.46 L239.93 139.62 L240.17 138.92 L240.42 138.36 L240.67 137.94 L240.92 137.65 L241.16 137.48 L241.41 137.43 L241.66 137.48 L241.91 137.62 L242.15 137.83 L242.4 138.09 L242.65 138.4 L242.9 138.75 L243.15 139.11 L243.39 139.49 L243.64 139.87 L243.89 140.25 L244.14 140.62 L244.38 140.98 L244.63 141.33 L244.88 141.66 L245.13 141.96 L245.37 142.25 L245.62 142.51 L245.87 142.76 L246.12 142.98 L246.37 143.18 L246.61 143.36 L246.86 143.52 L247.11 143.66 L247.36 143.78 L247.6 143.88 L247.85 143.96 L248.1 144.02 L248.35 144.06 L248.59 144.08 L248.84 144.08 L249.09 144.07 L249.34 144.05 L249.59 144.01 L249.83 143.96 L250.08 143.91 L250.33 143.84 L250.58 143.78 L250.82 143.71 L251.07 143.64 L251.32 143.58 L251.57 143.52 L251.81 143.48 L252.06 143.43 L252.31 143.4 L252.56 143.38 L252.8 143.36 L253.05 143.35 L253.3 143.35 L253.55 143.35 L253.8 143.35 L254.04 143.35 L254.29 143.35 L254.54 143.35 L254.79 143.35 L255.03 143.35 L255.28 143.35 L255.53 143.35 L255.78 143.35 L256.02 143.35 L256.27 143.35 L256.52 143.35 L256.77 143.35 L257.02 143.35 L257.26 143.35 L257.51 143.35 L257.76 143.35 L258.01 143.35 L258.25 143.35 L258.5 143.35 L258.75 143.35 L259 143.35 L259.24 143.35 L259.49 143.35 L259.74 143.35 L259.99 143.35 L260.24 143.35 L260.48 143.35 L260.73 143.35 L260.98 143.35 L261.23 143.35 L261.47 143.35 L261.72 143.35 L261.97 143.35 L262.22 143.35 L262.46 143.35 L262.71 143.35 L262.96 143.35 L263.21 143.35 L263.46 143.35 L263.7 143.35 L263.95 143.35 L264.2 143.35 L264.45 143.35 L264.69 143.35 L264.94 143.35 L265.19 143.35 L265.44 143.35 L265.68 143.35 L265.93 143.35 L266.18 143.35 L266.43 143.35 L266.67 143.35 L266.92 143.35 L267.17 143.35 L267.42 143.35 L267.67 143.35 L267.91 143.35 L268.16 143.35 L268.41 143.35 L268.66 143.35 L268.9 143.35 L269.15 143.35 L269.4 143.35 L269.65 143.35 L269.89 143.35 L270.14 143.35 L270.39 143.35 L270.64 143.35 L270.89 143.35 L271.13 143.35 L271.38 143.35 L271.63 143.35 L271.88 143.35 L272.12 143.35 L272.37 143.35 L272.62 143.35 L272.87 143.35 L273.11 143.35 L273.36 143.35 L273.61 143.35 L273.86 143.35 L274.11 143.35 L274.35 143.35 L274.6 143.35 L274.85 143.35 L275.1 143.35 L275.34 143.35 L275.59 143.35 L275.84 143.35 L276.09 143.35 L276.33 143.35 L276.58 143.35 L276.83 143.35 L277.08 143.35 L277.32 143.35 L277.57 143.35 L277.82 143.35 L278.07 143.35 L278.32 143.35 L278.56 143.35 L278.81 143.35 L279.06 143.35 L279.31 143.35 L279.55 143.35 L279.8 143.35 L280.05 143.35 L280.3 143.35 L280.54 143.35 L280.79 143.35 L281.04 143.35 L281.29 143.35 L281.54 143.35 L281.78 143.35 L282.03 143.35 L282.28 143.35 L282.53 143.35 L282.77 143.35 L283.02 143.35 L283.27 143.35 L283.52 143.35 L283.76 143.35 L284.01 143.35 L284.26 143.35 L284.51 143.35 L284.76 143.35 L285 143.35 L285.25 143.35 L285.5 143.35 L285.75 143.35 L285.99 143.35 L286.24 143.35 L286.49 143.35 L286.74 143.35 L286.98 143.35 L287.23 143.35 L287.48 143.35 L287.73 143.35 L287.98 143.35 L288.22 143.35 L288.47 143.35 L288.72 143.35 L288.97 143.35 L289.21 143.35 L289.46 143.35 L289.71 143.35 L289.96 143.35 L290.2 143.35 L290.45 143.35 L290.7 143.35 L290.95 143.35 L291.19 143.35 L291.44 143.35 L291.69 143.35 L291.94 143.35 L292.19 143.35 L292.43 143.35 L292.68 143.35 L292.93 143.35 L293.18 143.35 L293.42 143.35 L293.67 143.35 L293.92 143.35 L294.17 143.35 L294.41 143.35 L294.66 143.35 L294.91 143.35 L295.16 143.35 L295.41 143.35 L295.65 143.35 L295.9 143.35 L296.15 143.35 L296.4 143.35 L296.64 143.35 L296.89 143.35 L297.14 143.35 L297.39 143.35 L297.63 143.35 L297.88 143.35 L298.13 143.35 L298.38 143.35 L298.63 143.35 L298.87 143.35 L299.12 143.35 L299.37 143.35 L299.62 143.35 L299.86 143.35 L300.11 143.35 L300.36 143.35 L300.61 143.35 L300.85 143.35 L301.1 143.35 L301.35 143.35 L301.6 143.35 L301.84 143.35 L302.09 143.35 L302.34 143.35 L302.59 143.35 L302.84 143.35 L303.08 143.35 L303.33 143.35 L303.58 143.35 L303.83 143.35 L304.07 143.35 L304.32 143.35 L304.57 143.35 L304.82 143.35 L305.06 143.35 L305.31 143.35 L305.56 143.35 L305.81 143.35 L306.06 143.35 L306.3 143.35 L306.55 143.35 L306.8 143.35 L307.05 143.35 L307.29 143.35 L307.54 143.35 L307.79 143.35 L308.04 143.35 L308.28 143.35 L308.53 143.35 L308.78 143.35 L309.03 143.35 L309.28 143.35 L309.52 143.35 L309.77 143.35 L310.02 143.35 L310.27 143.35 L310.51 143.35 L310.76 143.35 L311.01 143.35 L311.26 143.35 L311.5 143.35 L311.75 143.35 L312 143.35 L312.25 143.35 L312.5 143.35 L312.74 143.35 L312.99 143.35 L313.24 143.35 L313.49 143.35 L313.73 143.35 L313.98 143.35 L314.23 143.35 L314.48 143.35 L314.72 143.35 L314.97 143.35 L315.22 143.35 L315.47 143.35 L315.71 143.35 L315.96 143.35 L316.21 143.35 L316.46 143.35 L316.71 143.35 L316.95 143.35 L317.2 143.35 L317.45 143.35 L317.7 143.35 L317.94 143.35 L318.19 143.35 L318.44 143.35 L318.69 143.35 L318.93 143.35 L319.18 143.35 L319.43 143.35 L319.68 143.35 L319.93 143.35 L320.17 143.35 L320.42 143.35 L320.67 143.35 L320.92 143.35 L321.16 143.35 L321.41 143.35 L321.66 143.35 L321.91 143.35 L322.15 143.35 L322.4 143.35 L322.65 143.35 L322.9 143.35 L323.15 143.35 L323.39 143.35 L323.64 143.35 L323.89 143.35 L324.14 143.35 L324.38 143.35 L324.63 143.35 L324.88 143.35 L325.13 143.35 L325.37 143.35 L325.62 143.35 L325.87 143.35 L326.12 143.35 L326.36 143.35 L326.61 143.35 L326.86 143.35 L327.11 143.35 L327.36 143.35 L327.6 143.35 L327.85 143.35 L328.1 143.35 L328.35 143.35 L328.59 143.35 L328.84 143.35 L329.09 143.35 L329.34 143.35 L329.58 143.35 L329.83 143.35 L330.08 143.35 L330.33 143.35 L330.58 143.35 L330.82 143.35 L331.07 143.35 L331.32 143.35 L331.57 143.35 L331.81 143.35 L332.06 143.35 L332.31 143.35 L332.56 143.35 L332.8 143.35 L333.05 143.35 L333.3 143.35 L333.55 143.35 L333.8 143.35 L334.04 143.35 L334.29 143.35 L334.54 143.35 L334.79 143.35 L335.03 143.35 L335.28 143.35 L335.53 143.35 L335.78 143.35 L336.02 143.35 L336.27 143.35 L336.52 143.35 L336.77 143.35 L337.02 143.35 L337.26 143.35 L337.51 143.35 L337.76 143.35 L338.01 143.35 L338.25 143.35 L338.5 143.35 L338.75 143.35 L339 143.35 L339.24 143.35 L339.49 143.35 L339.74 143.35 L339.99 143.35 L340.23 143.35 L340.48 143.35 L340.73 143.35 L340.98 143.35 L341.23 143.35 L341.47 143.35 L341.72 143.35 L341.97 143.35 L342.22 143.35 L342.46 143.35 L342.71 143.35 L342.96 143.35 L343.21 143.35 L343.45 143.35 L343.7 143.35 L343.95 143.35 L344.2 143.35 L344.45 143.35 L344.69 143.35 L344.94 143.35 L345.19 143.35 L345.44 143.35 L345.68 143.35 L345.93 143.35 L346.18 143.35 L346.43 143.35 L346.67 143.35 L346.92 143.35 L347.17 143.35 L347.42 143.35 L347.67 143.35 L347.91 143.35 L348.16 143.35 L348.41 143.35 L348.66 143.35 L348.9 143.35 L349.15 143.35 L349.4 143.35 L349.65 143.35 L349.89 143.35 L350.14 143.35 L350.39 143.35 L350.64 143.35 L350.88 143.35 L351.13 143.35 L351.38 143.35 L351.63 143.35 L351.88 143.35 L352.12 143.35 L352.37 143.35 L352.62 143.35 L352.87 143.35 L353.11 143.35 L353.36 143.35 L353.61 143.35 L353.86 143.35 L354.1 143.35 L354.35 143.35 L354.6 143.35 L354.85 143.35 L355.1 143.35 L355.34 143.35 L355.59 143.35 L355.84 143.35 L356.09 143.35 L356.33 143.35 L356.58 143.35 L356.83 143.35 L357.08 143.35 L357.32 143.35 L357.57 143.35 L357.82 143.35 L358.07 143.35 L358.32 143.35 L358.56 143.35 L358.81 143.35 L359.06 143.35 L359.31 143.35 L359.55 143.35 L359.8 143.35 L360.05 143.35 L360.3 143.35 L360.54 143.35 L360.79 143.35 L361.04 143.35 L361.29 143.35 L361.54 143.35 L361.78 143.35 L362.03 143.35 L362.28 143.35 L362.53 143.35 L362.77 143.35 L363.02 143.35 L363.27 143.35 L363.52 143.35 L363.76 143.35 L364.01 143.35 L364.26 143.35 L364.51 143.35 L364.75 143.35 L365 143.35 L365.25 143.35 L365.5 143.35 L365.75 143.35 L365.99 143.35 L366.24 143.35 L366.49 143.35 L366.74 143.35 L366.98 143.35 L367.23 143.35 L367.48 143.35 L367.73 143.35 L367.97 143.35 L368.22 143.35 L368.47 143.35 L368.72 143.35 L368.97 143.35 L369.21 143.35 L369.46 143.35 L369.71 143.35 L369.96 143.35 L370.2 143.35 L370.45 143.35 L370.7 143.35 L370.95 143.35 L371.19 143.35 L371.44 143.35 L371.69 143.35 L371.94 143.35 L372.19 143.35 L372.43 143.35 L372.68 143.35 L372.93 143.35 L373.18 143.35 L373.42 143.35 L373.67 143.35 L373.92 143.35 L374.17 143.35 L374.41 143.35 L374.66 143.35 L374.91 143.35 L375.16 143.35 L375.41 143.35 L375.65 143.35 L375.9 143.35 L376.15 143.35 L376.4 143.35 L376.64 143.35 L376.89 143.35 L377.14 143.35 L377.39 143.35 L377.63 143.35 L377.88 143.35 L378.13 143.35 L378.38 143.35 L378.62 143.35 L378.87 143.35 L379.12 143.35 L379.37 143.35 L379.62 143.35 L379.86 143.35 L380.11 143.35 L380.36 143.35 L380.61 143.35 L380.85 143.35 L381.1 143.35 L381.35 143.35 L381.6 143.35 L381.84 143.35 L382.09 143.35 L382.34 143.35 L382.59 143.35 L382.84 143.35 L383.08 143.35 L383.33 143.35 L383.58 143.35 L383.83 143.35 L384.07 143.35 L384.32 143.35 L384.57 143.35 L384.82 143.35 L385.06 143.35 L385.31 143.35 L385.56 143.35 L385.81 143.35 L386.06 143.35 L386.3 143.35 L386.55 143.35 L386.8 143.35 L387.05 143.35 L387.29 143.35 L387.54 143.35 L387.79 143.35 L388.04 143.35 L388.28 143.35 L388.53 143.35 L388.78 143.35 L389.03 143.35 L389.27 143.35 L389.52 143.35 L389.77 143.35 L390.02 143.35 L390.27 143.35 L390.51 143.35 L390.76 143.35 L391.01 143.35 L391.26 143.35 L391.5 143.35 L391.75 143.35 L392 143.35 L392.25 143.35 L392.49 143.35 L392.74 143.35 L392.99 143.35 L393.24 143.35 L393.49 143.35 L393.73 143.35 L393.98 143.35 L394.23 143.35 L394.48 143.35 L394.72 143.35 L394.97 143.35 L395.22 143.35 L395.47 143.35 L395.71 143.35 L395.96 143.35 L396.21 143.35 L396.46 143.35 L396.71 143.35 L396.95 143.35 L397.2 143.35 L397.45 143.35 L397.7 143.35 L397.94 143.35 L398.19 143.35 L398.44 143.35 L398.69 143.35 L398.93 143.35 L399.18 143.35 L399.43 143.35 L399.68 143.35 L399.93 143.35 L400.17 143.35 L400.42 143.35 L400.67 143.35 L400.92 143.35 L401.16 143.35 L401.41 143.35 L401.66 143.35 L401.91 143.35 L402.15 143.35 L402.4 143.35 L402.65 143.35 L402.9 143.35 L403.14 143.35 L403.39 143.35 L403.64 143.35 L403.89 143.35 L404.14 143.35 L404.38 143.35 L404.63 143.35 L404.88 143.35 L405.13 143.35 L405.37 143.35 L405.62 143.35 L405.87 143.35 L406.12 143.35 L406.36 143.35 L406.61 143.35 L406.86 143.35 L407.11 143.35 L407.36 143.35 L407.6 143.35 L407.85 143.35 L408.1 143.35 L408.35 143.35 L408.59 143.35 L408.84 143.35 L409.09 143.35 L409.34 143.35 L409.58 143.35 L409.83 143.35 L410.08 143.35 L410.33 143.35 L410.58 143.35 L410.82 143.35 L411.07 143.35 L411.32 143.35 L411.57 143.35 L411.81 143.35 L412.06 143.35 L412.31 143.35 L412.56 143.35 L412.8 143.35 L413.05 143.35 L413.3 143.35 L413.55 143.35 L413.79 143.35 L414.04 143.35 L414.29 143.35 L414.54 143.35 L414.79 143.35 L415.03 143.35 L415.28 143.35 L415.53 143.35 L415.78 143.35 L416.02 143.35 L416.27 143.35 L416.52 143.35 L416.77 143.35 L417.01 143.35 L417.26 143.35 L417.51 143.35 L417.76 143.35 L418.01 143.35 L418.25 143.35 L418.5 143.35 L418.75 143.35 L419 143.35 L419.24 143.35 L419.49 143.35 L419.74 143.35 L419.99 143.35 L420.23 143.35 L420.48 143.35 L420.73 143.35 L420.98 143.35 L421.23 143.35 L421.47 143.35 L421.72 143.35 L421.97 143.35 L422.22 143.35 L422.46 143.35 L422.71 143.35 L422.96 143.35 L423.21 143.35 L423.45 143.35 L423.7 143.35 L423.95 143.35 L424.2 143.35 L424.45 143.35 L424.69 143.35 L424.94 143.35 L425.19 143.35 L425.44 143.35 L425.68 143.35 L425.93 143.35 L426.18 143.35 L426.43 143.35 L426.67 143.35 L426.92 143.35 L427.17 143.35 L427.42 143.35 L427.66 143.35 L427.91 143.35 L428.16 143.35 L428.41 143.35 L428.66 143.35 L428.9 143.35 L429.15 143.35 L429.4 143.35 L429.65 143.35 L429.89 143.35 L430.14 143.35 L430.39 143.35 L430.64 143.35 L430.88 143.35 L431.13 143.35 L431.38 143.35 L431.63 143.35 L431.88 143.35 L432.12 143.35 L432.37 143.35 L432.62 143.35 L432.87 143.35 L433.11 143.35 L433.36 143.35 L433.61 143.35 L433.86 143.35 L434.1 143.35 L434.35 143.35 L434.6 143.35 L434.85 143.35 L435.1 143.35 L435.34 143.35 L435.59 143.35 L435.84 143.35 L436.09 143.35 L436.33 143.35 L436.58 143.35 L436.83 143.35 L437.08 143.35 L437.32 143.35 L437.57 143.35 L437.82 143.35 L438.07 143.35 L438.31 143.35 L438.56 143.35 L438.81 143.35 L439.06 143.35 L439.31 143.35 L439.55 143.35 L439.8 143.35 L440.05 143.35 L440.3 143.35 L440.54 143.35 L440.79 143.35 L441.04 143.35 L441.29 143.35 L441.53 143.35 L441.78 143.35 L442.03 143.35 L442.28 143.35 L442.53 143.35 L442.77 143.35 L443.02 143.35 L443.27 143.35 L443.52 143.35 L443.76 143.35 L444.01 143.35 L444.26 143.35 L444.51 143.35 L444.75 143.35 L445 143.35 L445.25 143.35 L445.5 143.35 L445.75 143.35 L445.99 143.35 L446.24 143.35 L446.49 143.35 L446.74 143.35 L446.98 143.35 L447.23 143.35 L447.48 143.35 L447.73 143.35 L447.97 143.35 L448.22 143.35 L448.47 143.35 L448.72 143.35 L448.97 143.35 L449.21 143.35 L449.46 143.35 L449.71 143.35 L449.96 143.35 L450.2 143.35 L450.45 143.35 L450.7 143.35 L450.95 143.35 L451.19 143.35 L451.44 143.35 L451.69 143.35 L451.94 143.35 L452.18 143.35 L452.43 143.35 L452.68 143.35 L452.93 143.35 L453.18 143.35 L453.42 143.35 L453.67 143.35 L453.92 143.35 L454.17 143.35 L454.41 143.35 L454.66 143.35 L454.91 143.35 L455.16 143.35 L455.4 143.35 L455.65 143.35 L455.9 143.35" fill="none" stroke="#0000ff" stroke-width="2.0" stroke-linejoin="round" clip-path="url(#ct0)"/>
<path d="M109.4 143.35 L135.4 143.35 L136.29 143.45 L137.18 143.74 L138.06 144.16 L138.95 144.67 L139.84 145.17 L140.72 145.6 L141.61 145.89 L142.5 145.99 L143.39 145.62 L144.28 144.57 L145.16 143 L146.05 141.15 L146.94 139.3 L147.82 137.73 L148.71 136.69 L149.6 136.32 L150.5 137.1 L151.4 139.34 L152.3 142.69 L153.2 146.65 L154.1 150.6 L155 153.95 L155.9 156.19 L156.8 156.97 L157.69 155.64 L158.58 151.83 L159.46 146.12 L160.35 139.39 L161.24 132.67 L162.12 126.96 L163.01 123.15 L163.9 121.81 L164.83 123.75 L165.75 129.28 L166.68 137.55 L167.6 147.31 L168.53 157.06 L169.45 165.33 L170.38 170.86 L171.3 172.8 L172.21 170.24 L173.12 162.95 L174.04 152.04 L174.95 139.17 L175.86 126.31 L176.78 115.4 L177.69 108.11 L178.6 105.55 L179.5 108.7 L180.4 117.65 L181.3 131.06 L182.2 146.87 L183.1 162.68 L184 176.08 L184.9 185.03 L185.8 188.18 L186.69 184.57 L187.58 174.28 L188.46 158.88 L189.35 140.71 L190.24 122.55 L191.12 107.15 L192.01 96.86 L192.9 93.25 L193.79 97.18 L194.68 108.37 L195.56 125.13 L196.45 144.89 L197.34 164.65 L198.22 181.4 L199.11 192.6 L200 196.53 L200.89 192.44 L201.78 180.8 L202.66 163.38 L203.55 142.82 L204.44 122.27 L205.33 104.85 L206.21 93.2 L207.1 89.12 L207.99 93.14 L208.88 104.59 L209.76 121.73 L210.65 141.94 L211.54 162.16 L212.43 179.3 L213.31 190.75 L214.2 194.77 L215.1 190.97 L216 180.16 L216.9 163.98 L217.8 144.89 L218.7 125.8 L219.6 109.62 L220.5 98.8 L221.4 95 L222.25 98.44 L223.1 108.23 L223.95 122.87 L224.8 140.14 L225.65 157.41 L226.5 172.06 L227.35 181.84 L228.2 185.28 L229.06 182.32 L229.92 173.91 L230.79 161.32 L231.65 146.47 L232.51 131.62 L233.38 119.03 L234.24 110.62 L235.1 107.66 L235.96 110.09 L236.83 117.01 L237.69 127.36 L238.55 139.57 L239.41 151.78 L240.28 162.13 L241.14 169.05 L242 171.48 L242.85 169.57 L243.7 164.15 L244.55 156.04 L245.4 146.47 L246.25 136.9 L247.1 128.79 L247.95 123.37 L248.8 121.46 L249.62 122.94 L250.45 127.15 L251.28 133.45 L252.1 140.89 L252.93 148.32 L253.75 154.62 L254.58 158.84 L255.4 160.31 L256.24 159.12 L257.07 155.73 L257.91 150.66 L258.75 144.67 L259.59 138.68 L260.43 133.6 L261.26 130.21 L262.1 129.02 L262.89 130.07 L263.68 133.04 L264.46 137.49 L265.25 142.73 L266.04 147.98 L266.83 152.43 L267.61 155.4 L268.4 156.45 L269.25 155.5 L270.1 152.79 L270.95 148.74 L271.8 143.97 L272.65 139.19 L273.5 135.14 L274.35 132.43 L275.2 131.48 L276.03 132.31 L276.85 134.68 L277.68 138.21 L278.5 142.38 L279.33 146.55 L280.15 150.09 L280.98 152.45 L281.8 153.28 L282.66 152.6 L283.53 150.66 L284.39 147.75 L285.25 144.32 L286.11 140.89 L286.98 137.98 L287.84 136.03 L288.7 135.35 L289.53 135.9 L290.35 137.45 L291.18 139.77 L292 142.51 L292.83 145.26 L293.65 147.58 L294.48 149.13 L295.3 149.68 L296.11 149.25 L296.93 148.04 L297.74 146.23 L298.55 144.1 L299.36 141.96 L300.18 140.15 L300.99 138.94 L301.8 138.52 L302.62 138.87 L303.45 139.87 L304.28 141.36 L305.1 143.13 L305.93 144.9 L306.75 146.39 L307.57 147.39 L308.4 147.75 L309.22 147.44 L310.05 146.56 L310.88 145.25 L311.7 143.7 L312.52 142.15 L313.35 140.84 L314.17 139.97 L315 139.66 L315.82 139.92 L316.64 140.65 L317.46 141.75 L318.27 143.04 L319.09 144.34 L319.91 145.44 L320.73 146.17 L321.55 146.43 L322.37 146.21 L323.19 145.59 L324.01 144.66 L324.83 143.57 L325.64 142.48 L326.46 141.55 L327.28 140.93 L328.1 140.71 L328.92 140.9 L329.74 141.43 L330.56 142.23 L331.38 143.17 L332.19 144.12 L333.01 144.91 L333.83 145.45 L334.65 145.64 L335.47 145.47 L336.29 145.02 L337.11 144.33 L337.93 143.53 L338.74 142.72 L339.56 142.03 L340.38 141.58 L341.2 141.42 L342.02 141.55 L342.84 141.94 L343.66 142.53 L344.48 143.22 L345.29 143.91 L346.11 144.49 L346.93 144.88 L347.75 145.02 L348.57 144.9 L349.39 144.57 L350.21 144.07 L351.03 143.48 L351.84 142.89 L352.66 142.39 L353.48 142.06 L354.3 141.94 L355.12 142.04 L355.94 142.33 L356.76 142.76 L357.58 143.26 L358.39 143.77 L359.21 144.19 L360.03 144.48 L360.85 144.58 L361.67 144.49 L362.49 144.25 L363.31 143.88 L364.13 143.44 L364.94 143 L365.76 142.63 L366.58 142.38 L367.4 142.3 L368.22 142.37 L369.04 142.58 L369.86 142.89 L370.68 143.26 L371.49 143.63 L372.31 143.95 L373.13 144.16 L373.95 144.23 L374.77 144.17 L375.59 143.98 L376.41 143.71 L377.23 143.39 L378.04 143.07 L378.86 142.8 L379.68 142.62 L380.5 142.56 L381.32 142.62 L382.14 142.78 L382.96 143.02 L383.78 143.31 L384.59 143.59 L385.41 143.83 L386.23 144 L387.05 144.05 L387.87 144 L388.69 143.86 L389.51 143.65 L390.33 143.39 L391.14 143.14 L391.96 142.93 L392.78 142.78 L393.6 142.73 L394.42 142.78 L395.24 142.9 L396.06 143.09 L396.88 143.31 L397.69 143.52 L398.51 143.71 L399.33 143.83 L400.15 143.88 L400.97 143.84 L401.79 143.73 L402.61 143.57 L403.43 143.37 L404.24 143.18 L405.06 143.01 L405.88 142.91 L406.7 142.87 L407.52 142.9 L408.34 143 L409.16 143.15 L409.98 143.33 L410.79 143.5 L411.61 143.65 L412.43 143.75 L413.25 143.79 L414.07 143.76 L414.89 143.67 L415.71 143.53 L416.53 143.37 L417.34 143.21 L418.16 143.08 L418.98 142.99 L419.8 142.95 L420.62 142.98 L421.44 143.06 L422.26 143.19 L423.08 143.33 L423.89 143.47 L424.71 143.59 L425.53 143.67 L426.35 143.7 L427.17 143.67 L427.99 143.6 L428.81 143.48 L429.63 143.35 L430.44 143.22 L431.26 143.1 L432.08 143.03 L432.9 143 L433.72 143.02 L434.54 143.09 L435.36 143.2 L436.18 143.33 L436.99 143.45 L437.81 143.56 L438.63 143.63 L439.45 143.66 L440.27 143.64 L441.09 143.57 L441.91 143.48 L442.73 143.37 L443.54 143.26 L444.36 143.17 L445.18 143.11 L446 143.09 L446.82 143.11 L447.64 143.16 L448.46 143.25 L449.28 143.35 L450.09 143.45 L450.91 143.54 L451.73 143.59 L452.55 143.61 L453.37 143.59 L454.19 143.54 L455.01 143.45 L455.83 143.35 L456.64 143.25 L457.46 143.16 L458.28 143.11 L459.1 143.09 L455.9 143.35" fill="none" stroke="#ff0000" stroke-width="2.0" stroke-linejoin="round" clip-path="url(#ct0)"/>
<path d="M596.4 143.35 L596.65 143.35 L596.9 143.35 L597.14 143.34 L597.39 143.32 L597.64 143.3 L597.89 143.27 L598.13 143.24 L598.38 143.2 L598.63 143.15 L598.88 143.1 L599.12 143.04 L599.37 142.98 L599.62 142.92 L599.87 142.87 L600.12 142.82 L600.36 142.77 L600.61 142.73 L600.86 142.7 L601.11 142.67 L601.35 142.66 L601.6 142.66 L601.85 142.68 L602.1 142.71 L602.34 142.76 L602.59 142.82 L602.84 142.91 L603.09 143.01 L603.33 143.14 L603.58 143.3 L603.83 143.48 L604.08 143.69 L604.33 143.92 L604.57 144.19 L604.82 144.48 L605.07 144.8 L605.32 145.15 L605.56 145.51 L605.81 145.9 L606.06 146.3 L606.31 146.71 L606.55 147.11 L606.8 147.49 L607.05 147.85 L607.3 148.18 L607.55 148.44 L607.79 148.64 L608.04 148.75 L608.29 148.76 L608.54 148.66 L608.78 148.44 L609.03 148.08 L609.28 147.59 L609.53 146.97 L609.77 146.22 L610.02 145.35 L610.27 144.37 L610.52 143.3 L610.77 142.17 L611.01 140.99 L611.26 139.78 L611.51 138.59 L611.76 137.42 L612 136.31 L612.25 135.27 L612.5 134.32 L612.75 133.49 L612.99 132.77 L613.24 132.17 L613.49 131.71 L613.74 131.38 L613.99 131.19 L614.23 131.13 L614.48 131.19 L614.73 131.37 L614.98 131.66 L615.22 132.07 L615.47 132.57 L615.72 133.17 L615.97 133.87 L616.21 134.65 L616.46 135.52 L616.71 136.48 L616.96 137.52 L617.2 138.64 L617.45 139.84 L617.7 141.13 L617.95 142.51 L618.2 143.96 L618.44 145.5 L618.69 147.12 L618.94 148.81 L619.19 150.57 L619.43 152.39 L619.68 154.24 L619.93 156.11 L620.18 157.98 L620.42 159.81 L620.67 161.58 L620.92 163.23 L621.17 164.73 L621.42 166.04 L621.66 167.09 L621.91 167.84 L622.16 168.24 L622.41 168.26 L622.65 167.84 L622.9 166.97 L623.15 165.62 L623.4 163.79 L623.64 161.5 L623.89 158.76 L624.14 155.62 L624.39 152.12 L624.64 148.34 L624.88 144.36 L625.13 140.25 L625.38 136.11 L625.63 132.01 L625.87 128.05 L626.12 124.3 L626.37 120.83 L626.62 117.69 L626.86 114.94 L627.11 112.6 L627.36 110.69 L627.61 109.22 L627.85 108.2 L628.1 107.6 L628.35 107.41 L628.6 107.6 L628.85 108.16 L629.09 109.04 L629.34 110.22 L629.59 111.68 L629.84 113.38 L630.08 115.3 L630.33 117.43 L630.58 119.74 L630.83 122.23 L631.07 124.87 L631.32 127.67 L631.57 130.61 L631.82 133.7 L632.07 136.92 L632.31 140.29 L632.56 143.79 L632.81 147.41 L633.06 151.15 L633.3 155 L633.55 158.93 L633.8 162.92 L634.05 166.94 L634.29 170.95 L634.54 174.88 L634.79 178.69 L635.04 182.31 L635.29 185.65 L635.53 188.63 L635.78 191.17 L636.03 193.16 L636.28 194.52 L636.52 195.17 L636.77 195.02 L637.02 194.02 L637.27 192.12 L637.51 189.29 L637.76 185.55 L638.01 180.93 L638.26 175.48 L638.51 169.29 L638.75 162.48 L639 155.19 L639.25 147.55 L639.5 139.74 L639.74 131.93 L639.99 124.26 L640.24 116.91 L640.49 110.01 L640.73 103.68 L640.98 98.02 L641.23 93.1 L641.48 88.97 L641.72 85.67 L641.97 83.2 L642.22 81.53 L642.47 80.64 L642.72 80.49 L642.96 81.03 L643.21 82.18 L643.46 83.91 L643.71 86.14 L643.95 88.81 L644.2 91.89 L644.45 95.31 L644.7 99.04 L644.94 103.04 L645.19 107.28 L645.44 111.74 L645.69 116.41 L645.94 121.26 L646.18 126.3 L646.43 131.5 L646.68 136.87 L646.93 142.4 L647.17 148.07 L647.42 153.88 L647.67 159.79 L647.92 165.79 L648.16 171.83 L648.41 177.87 L648.66 183.84 L648.91 189.68 L649.16 195.29 L649.4 200.59 L649.65 205.47 L649.9 209.79 L650.15 213.45 L650.39 216.32 L650.64 218.27 L650.89 219.18 L651.14 218.96 L651.38 217.52 L651.63 214.81 L651.88 210.8 L652.13 205.52 L652.37 199 L652.62 191.34 L652.87 182.67 L653.12 173.15 L653.37 162.97 L653.61 152.35 L653.86 141.51 L654.11 130.69 L654.36 120.11 L654.6 109.98 L654.85 100.51 L655.1 91.84 L655.35 84.11 L655.59 77.43 L655.84 71.86 L656.09 67.42 L656.34 64.12 L656.59 61.92 L656.83 60.79 L657.08 60.65 L657.33 61.43 L657.58 63.04 L657.82 65.4 L658.07 68.41 L658.32 72 L658.57 76.09 L658.81 80.6 L659.06 85.49 L659.31 90.69 L659.56 96.17 L659.81 101.89 L660.05 107.83 L660.3 113.96 L660.55 120.28 L660.8 126.76 L661.04 133.4 L661.29 140.18 L661.54 147.09 L661.79 154.12 L662.03 161.24 L662.28 168.42 L662.53 175.61 L662.78 182.76 L663.03 189.8 L663.27 196.66 L663.52 203.23 L663.77 209.41 L664.02 215.09 L664.26 220.12 L664.51 224.37 L664.76 227.71 L665.01 230 L665.25 231.11 L665.5 230.93 L665.75 229.38 L666 226.39 L666.24 221.95 L666.49 216.07 L666.74 208.81 L666.99 200.28 L667.24 190.63 L667.48 180.02 L667.73 168.7 L667.98 156.88 L668.23 144.83 L668.47 132.81 L668.72 121.07 L668.97 109.84 L669.22 99.35 L669.46 89.76 L669.71 81.23 L669.96 73.86 L670.21 67.72 L670.46 62.84 L670.7 59.22 L670.95 56.83 L671.2 55.59 L671.45 55.45 L671.69 56.3 L671.94 58.05 L672.19 60.61 L672.44 63.85 L672.68 67.71 L672.93 72.07 L673.18 76.88 L673.43 82.05 L673.68 87.53 L673.92 93.26 L674.17 99.22 L674.42 105.36 L674.67 111.66 L674.91 118.11 L675.16 124.69 L675.41 131.38 L675.66 138.18 L675.9 145.06 L676.15 152.02 L676.4 159.03 L676.65 166.06 L676.89 173.06 L677.14 180 L677.39 186.8 L677.64 193.4 L677.89 199.71 L678.13 205.62 L678.38 211.04 L678.63 215.84 L678.88 219.91 L679.12 223.1 L679.37 225.31 L679.62 226.42 L679.87 226.33 L680.11 224.97 L680.36 222.28 L680.61 218.25 L680.86 212.89 L681.11 206.28 L681.35 198.49 L681.6 189.67 L681.85 180 L682.1 169.66 L682.34 158.89 L682.59 147.91 L682.84 136.96 L683.09 126.27 L683.33 116.06 L683.58 106.53 L683.83 97.84 L684.08 90.11 L684.33 83.44 L684.57 77.9 L684.82 73.51 L685.07 70.26 L685.32 68.11 L685.56 67.01 L685.81 66.89 L686.06 67.66 L686.31 69.23 L686.55 71.5 L686.8 74.37 L687.05 77.77 L687.3 81.6 L687.55 85.8 L687.79 90.29 L688.04 95.02 L688.29 99.95 L688.54 105.03 L688.78 110.24 L689.03 115.55 L689.28 120.94 L689.53 126.41 L689.77 131.93 L690.02 137.5 L690.27 143.1 L690.52 148.73 L690.76 154.36 L691.01 159.96 L691.26 165.52 L691.51 170.99 L691.76 176.33 L692 181.48 L692.25 186.38 L692.5 190.96 L692.75 195.14 L692.99 198.83 L693.24 201.94 L693.49 204.39 L693.74 206.08 L693.98 206.93 L694.23 206.88 L694.48 205.87 L694.73 203.87 L694.98 200.88 L695.22 196.91 L695.47 192 L695.72 186.24 L695.97 179.72 L696.21 172.59 L696.46 164.98 L696.71 157.07 L696.96 149.02 L697.2 141.01 L697.45 133.22 L697.7 125.79 L697.95 118.87 L698.2 112.58 L698.44 107.01 L698.69 102.23 L698.94 98.27 L699.19 95.16 L699.43 92.87 L699.68 91.39 L699.93 90.66 L700.18 90.63 L700.42 91.23 L700.67 92.39 L700.92 94.04 L701.17 96.1 L701.42 98.52 L701.66 101.22 L701.91 104.15 L702.16 107.27 L702.41 110.53 L702.65 113.89 L702.9 117.33 L703.15 120.82 L703.4 124.35 L703.64 127.91 L703.89 131.47 L704.14 135.04 L704.39 138.61 L704.63 142.16 L704.88 145.69 L705.13 149.19 L705.38 152.64 L705.63 156.03 L705.87 159.34 L706.12 162.54 L706.37 165.59 L706.62 168.48 L706.86 171.14 L707.11 173.55 L707.36 175.66 L707.61 177.41 L707.85 178.76 L708.1 179.67 L708.35 180.09 L708.6 180 L708.85 179.36 L709.09 178.17 L709.34 176.42 L709.59 174.14 L709.84 171.35 L710.08 168.11 L710.33 164.48 L710.58 160.52 L710.83 156.34 L711.07 152.02 L711.32 147.65 L711.57 143.34 L711.82 139.17 L712.07 135.24 L712.31 131.6 L712.56 128.33 L712.81 125.46 L713.06 123.03 L713.3 121.05 L713.55 119.53 L713.8 118.45 L714.05 117.79 L714.29 117.53 L714.54 117.62 L714.79 118.03 L715.04 118.72 L715.28 119.64 L715.53 120.76 L715.78 122.03 L716.03 123.43 L716.28 124.92 L716.52 126.48 L716.77 128.09 L717.02 129.72 L717.27 131.36 L717.51 133 L717.76 134.63 L718.01 136.24 L718.26 137.84 L718.5 139.4 L718.75 140.93 L719 142.43 L719.25 143.89 L719.5 145.31 L719.74 146.68 L719.99 148 L720.24 149.25 L720.49 150.44 L720.73 151.55 L720.98 152.57 L721.23 153.49 L721.48 154.29 L721.72 154.96 L721.97 155.48 L722.22 155.86 L722.47 156.06 L722.72 156.09 L722.96 155.94 L723.21 155.61 L723.46 155.09 L723.71 154.4 L723.95 153.55 L724.2 152.56 L724.45 151.44 L724.7 150.22 L724.94 148.94 L725.19 147.61 L725.44 146.28 L725.69 144.96 L725.94 143.7 L726.18 142.52 L726.43 141.43 L726.68 140.46 L726.93 139.62 L727.17 138.92 L727.42 138.36 L727.67 137.94 L727.92 137.65 L728.16 137.48 L728.41 137.43 L728.66 137.48 L728.91 137.62 L729.15 137.83 L729.4 138.09 L729.65 138.4 L729.9 138.75 L730.15 139.11 L730.39 139.49 L730.64 139.87 L730.89 140.25 L731.14 140.62 L731.38 140.98 L731.63 141.33 L731.88 141.66 L732.13 141.96 L732.37 142.25 L732.62 142.51 L732.87 142.76 L733.12 142.98 L733.37 143.18 L733.61 143.36 L733.86 143.52 L734.11 143.66 L734.36 143.78 L734.6 143.88 L734.85 143.96 L735.1 144.02 L735.35 144.06 L735.59 144.08 L735.84 144.08 L736.09 144.07 L736.34 144.05 L736.59 144.01 L736.83 143.96 L737.08 143.91 L737.33 143.84 L737.58 143.78 L737.82 143.71 L738.07 143.64 L738.32 143.58 L738.57 143.52 L738.81 143.48 L739.06 143.43 L739.31 143.4 L739.56 143.38 L739.8 143.36 L740.05 143.35 L740.3 143.35 L740.55 143.35 L740.8 143.35 L741.04 143.35 L741.29 143.35 L741.54 143.35 L741.79 143.35 L742.03 143.35 L742.28 143.35 L742.53 143.35 L742.78 143.35 L743.02 143.35 L743.27 143.35 L743.52 143.35 L743.77 143.35 L744.02 143.35 L744.26 143.35 L744.51 143.35 L744.76 143.35 L745.01 143.35 L745.25 143.35 L745.5 143.35 L745.75 143.35 L746 143.35 L746.24 143.35 L746.49 143.35 L746.74 143.35 L746.99 143.35 L747.24 143.35 L747.48 143.35 L747.73 143.35 L747.98 143.35 L748.23 143.35 L748.47 143.35 L748.72 143.35 L748.97 143.35 L749.22 143.35 L749.46 143.35 L749.71 143.35 L749.96 143.35 L750.21 143.35 L750.46 143.35 L750.7 143.35 L750.95 143.35 L751.2 143.35 L751.45 143.35 L751.69 143.35 L751.94 143.35 L752.19 143.35 L752.44 143.35 L752.68 143.35 L752.93 143.35 L753.18 143.35 L753.43 143.35 L753.67 143.35 L753.92 143.35 L754.17 143.35 L754.42 143.35 L754.67 143.35 L754.91 143.35 L755.16 143.35 L755.41 143.35 L755.66 143.35 L755.9 143.35 L756.15 143.35 L756.4 143.35 L756.65 143.35 L756.89 143.35 L757.14 143.35 L757.39 143.35 L757.64 143.35 L757.89 143.35 L758.13 143.35 L758.38 143.35 L758.63 143.35 L758.88 143.35 L759.12 143.35 L759.37 143.35 L759.62 143.35 L759.87 143.35 L760.11 143.35 L760.36 143.35 L760.61 143.35 L760.86 143.35 L761.11 143.35 L761.35 143.35 L761.6 143.35 L761.85 143.35 L762.1 143.35 L762.34 143.35 L762.59 143.35 L762.84 143.35 L763.09 143.35 L763.33 143.35 L763.58 143.35 L763.83 143.35 L764.08 143.35 L764.32 143.35 L764.57 143.35 L764.82 143.35 L765.07 143.35 L765.32 143.35 L765.56 143.35 L765.81 143.35 L766.06 143.35 L766.31 143.35 L766.55 143.35 L766.8 143.35 L767.05 143.35 L767.3 143.35 L767.54 143.35 L767.79 143.35 L768.04 143.35 L768.29 143.35 L768.54 143.35 L768.78 143.35 L769.03 143.35 L769.28 143.35 L769.53 143.35 L769.77 143.35 L770.02 143.35 L770.27 143.35 L770.52 143.35 L770.76 143.35 L771.01 143.35 L771.26 143.35 L771.51 143.35 L771.76 143.35 L772 143.35 L772.25 143.35 L772.5 143.35 L772.75 143.35 L772.99 143.35 L773.24 143.35 L773.49 143.35 L773.74 143.35 L773.98 143.35 L774.23 143.35 L774.48 143.35 L774.73 143.35 L774.98 143.35 L775.22 143.35 L775.47 143.35 L775.72 143.35 L775.97 143.35 L776.21 143.35 L776.46 143.35 L776.71 143.35 L776.96 143.35 L777.2 143.35 L777.45 143.35 L777.7 143.35 L777.95 143.35 L778.19 143.35 L778.44 143.35 L778.69 143.35 L778.94 143.35 L779.19 143.35 L779.43 143.35 L779.68 143.35 L779.93 143.35 L780.18 143.35 L780.42 143.35 L780.67 143.35 L780.92 143.35 L781.17 143.35 L781.41 143.35 L781.66 143.35 L781.91 143.35 L782.16 143.35 L782.41 143.35 L782.65 143.35 L782.9 143.35 L783.15 143.35 L783.4 143.35 L783.64 143.35 L783.89 143.35 L784.14 143.35 L784.39 143.35 L784.63 143.35 L784.88 143.35 L785.13 143.35 L785.38 143.35 L785.63 143.35 L785.87 143.35 L786.12 143.35 L786.37 143.35 L786.62 143.35 L786.86 143.35 L787.11 143.35 L787.36 143.35 L787.61 143.35 L787.85 143.35 L788.1 143.35 L788.35 143.35 L788.6 143.35 L788.84 143.35 L789.09 143.35 L789.34 143.35 L789.59 143.35 L789.84 143.35 L790.08 143.35 L790.33 143.35 L790.58 143.35 L790.83 143.35 L791.07 143.35 L791.32 143.35 L791.57 143.35 L791.82 143.35 L792.06 143.35 L792.31 143.35 L792.56 143.35 L792.81 143.35 L793.06 143.35 L793.3 143.35 L793.55 143.35 L793.8 143.35 L794.05 143.35 L794.29 143.35 L794.54 143.35 L794.79 143.35 L795.04 143.35 L795.28 143.35 L795.53 143.35 L795.78 143.35 L796.03 143.35 L796.28 143.35 L796.52 143.35 L796.77 143.35 L797.02 143.35 L797.27 143.35 L797.51 143.35 L797.76 143.35 L798.01 143.35 L798.26 143.35 L798.5 143.35 L798.75 143.35 L799 143.35 L799.25 143.35 L799.5 143.35 L799.74 143.35 L799.99 143.35 L800.24 143.35 L800.49 143.35 L800.73 143.35 L800.98 143.35 L801.23 143.35 L801.48 143.35 L801.72 143.35 L801.97 143.35 L802.22 143.35 L802.47 143.35 L802.71 143.35 L802.96 143.35 L803.21 143.35 L803.46 143.35 L803.71 143.35 L803.95 143.35 L804.2 143.35 L804.45 143.35 L804.7 143.35 L804.94 143.35 L805.19 143.35 L805.44 143.35 L805.69 143.35 L805.93 143.35 L806.18 143.35 L806.43 143.35 L806.68 143.35 L806.93 143.35 L807.17 143.35 L807.42 143.35 L807.67 143.35 L807.92 143.35 L808.16 143.35 L808.41 143.35 L808.66 143.35 L808.91 143.35 L809.15 143.35 L809.4 143.35 L809.65 143.35 L809.9 143.35 L810.15 143.35 L810.39 143.35 L810.64 143.35 L810.89 143.35 L811.14 143.35 L811.38 143.35 L811.63 143.35 L811.88 143.35 L812.13 143.35 L812.37 143.35 L812.62 143.35 L812.87 143.35 L813.12 143.35 L813.36 143.35 L813.61 143.35 L813.86 143.35 L814.11 143.35 L814.36 143.35 L814.6 143.35 L814.85 143.35 L815.1 143.35 L815.35 143.35 L815.59 143.35 L815.84 143.35 L816.09 143.35 L816.34 143.35 L816.58 143.35 L816.83 143.35 L817.08 143.35 L817.33 143.35 L817.58 143.35 L817.82 143.35 L818.07 143.35 L818.32 143.35 L818.57 143.35 L818.81 143.35 L819.06 143.35 L819.31 143.35 L819.56 143.35 L819.8 143.35 L820.05 143.35 L820.3 143.35 L820.55 143.35 L820.8 143.35 L821.04 143.35 L821.29 143.35 L821.54 143.35 L821.79 143.35 L822.03 143.35 L822.28 143.35 L822.53 143.35 L822.78 143.35 L823.02 143.35 L823.27 143.35 L823.52 143.35 L823.77 143.35 L824.02 143.35 L824.26 143.35 L824.51 143.35 L824.76 143.35 L825.01 143.35 L825.25 143.35 L825.5 143.35 L825.75 143.35 L826 143.35 L826.24 143.35 L826.49 143.35 L826.74 143.35 L826.99 143.35 L827.23 143.35 L827.48 143.35 L827.73 143.35 L827.98 143.35 L828.23 143.35 L828.47 143.35 L828.72 143.35 L828.97 143.35 L829.22 143.35 L829.46 143.35 L829.71 143.35 L829.96 143.35 L830.21 143.35 L830.45 143.35 L830.7 143.35 L830.95 143.35 L831.2 143.35 L831.45 143.35 L831.69 143.35 L831.94 143.35 L832.19 143.35 L832.44 143.35 L832.68 143.35 L832.93 143.35 L833.18 143.35 L833.43 143.35 L833.67 143.35 L833.92 143.35 L834.17 143.35 L834.42 143.35 L834.67 143.35 L834.91 143.35 L835.16 143.35 L835.41 143.35 L835.66 143.35 L835.9 143.35 L836.15 143.35 L836.4 143.35 L836.65 143.35 L836.89 143.35 L837.14 143.35 L837.39 143.35 L837.64 143.35 L837.88 143.35 L838.13 143.35 L838.38 143.35 L838.63 143.35 L838.88 143.35 L839.12 143.35 L839.37 143.35 L839.62 143.35 L839.87 143.35 L840.11 143.35 L840.36 143.35 L840.61 143.35 L840.86 143.35 L841.1 143.35 L841.35 143.35 L841.6 143.35 L841.85 143.35 L842.1 143.35 L842.34 143.35 L842.59 143.35 L842.84 143.35 L843.09 143.35 L843.33 143.35 L843.58 143.35 L843.83 143.35 L844.08 143.35 L844.32 143.35 L844.57 143.35 L844.82 143.35 L845.07 143.35 L845.32 143.35 L845.56 143.35 L845.81 143.35 L846.06 143.35 L846.31 143.35 L846.55 143.35 L846.8 143.35 L847.05 143.35 L847.3 143.35 L847.54 143.35 L847.79 143.35 L848.04 143.35 L848.29 143.35 L848.54 143.35 L848.78 143.35 L849.03 143.35 L849.28 143.35 L849.53 143.35 L849.77 143.35 L850.02 143.35 L850.27 143.35 L850.52 143.35 L850.76 143.35 L851.01 143.35 L851.26 143.35 L851.51 143.35 L851.75 143.35 L852 143.35 L852.25 143.35 L852.5 143.35 L852.75 143.35 L852.99 143.35 L853.24 143.35 L853.49 143.35 L853.74 143.35 L853.98 143.35 L854.23 143.35 L854.48 143.35 L854.73 143.35 L854.97 143.35 L855.22 143.35 L855.47 143.35 L855.72 143.35 L855.97 143.35 L856.21 143.35 L856.46 143.35 L856.71 143.35 L856.96 143.35 L857.2 143.35 L857.45 143.35 L857.7 143.35 L857.95 143.35 L858.19 143.35 L858.44 143.35 L858.69 143.35 L858.94 143.35 L859.19 143.35 L859.43 143.35 L859.68 143.35 L859.93 143.35 L860.18 143.35 L860.42 143.35 L860.67 143.35 L860.92 143.35 L861.17 143.35 L861.41 143.35 L861.66 143.35 L861.91 143.35 L862.16 143.35 L862.41 143.35 L862.65 143.35 L862.9 143.35 L863.15 143.35 L863.4 143.35 L863.64 143.35 L863.89 143.35 L864.14 143.35 L864.39 143.35 L864.63 143.35 L864.88 143.35 L865.13 143.35 L865.38 143.35 L865.62 143.35 L865.87 143.35 L866.12 143.35 L866.37 143.35 L866.62 143.35 L866.86 143.35 L867.11 143.35 L867.36 143.35 L867.61 143.35 L867.85 143.35 L868.1 143.35 L868.35 143.35 L868.6 143.35 L868.84 143.35 L869.09 143.35 L869.34 143.35 L869.59 143.35 L869.84 143.35 L870.08 143.35 L870.33 143.35 L870.58 143.35 L870.83 143.35 L871.07 143.35 L871.32 143.35 L871.57 143.35 L871.82 143.35 L872.06 143.35 L872.31 143.35 L872.56 143.35 L872.81 143.35 L873.06 143.35 L873.3 143.35 L873.55 143.35 L873.8 143.35 L874.05 143.35 L874.29 143.35 L874.54 143.35 L874.79 143.35 L875.04 143.35 L875.28 143.35 L875.53 143.35 L875.78 143.35 L876.03 143.35 L876.27 143.35 L876.52 143.35 L876.77 143.35 L877.02 143.35 L877.27 143.35 L877.51 143.35 L877.76 143.35 L878.01 143.35 L878.26 143.35 L878.5 143.35 L878.75 143.35 L879 143.35 L879.25 143.35 L879.49 143.35 L879.74 143.35 L879.99 143.35 L880.24 143.35 L880.49 143.35 L880.73 143.35 L880.98 143.35 L881.23 143.35 L881.48 143.35 L881.72 143.35 L881.97 143.35 L882.22 143.35 L882.47 143.35 L882.71 143.35 L882.96 143.35 L883.21 143.35 L883.46 143.35 L883.71 143.35 L883.95 143.35 L884.2 143.35 L884.45 143.35 L884.7 143.35 L884.94 143.35 L885.19 143.35 L885.44 143.35 L885.69 143.35 L885.93 143.35 L886.18 143.35 L886.43 143.35 L886.68 143.35 L886.93 143.35 L887.17 143.35 L887.42 143.35 L887.67 143.35 L887.92 143.35 L888.16 143.35 L888.41 143.35 L888.66 143.35 L888.91 143.35 L889.15 143.35 L889.4 143.35 L889.65 143.35 L889.9 143.35 L890.14 143.35 L890.39 143.35 L890.64 143.35 L890.89 143.35 L891.14 143.35 L891.38 143.35 L891.63 143.35 L891.88 143.35 L892.13 143.35 L892.37 143.35 L892.62 143.35 L892.87 143.35 L893.12 143.35 L893.36 143.35 L893.61 143.35 L893.86 143.35 L894.11 143.35 L894.36 143.35 L894.6 143.35 L894.85 143.35 L895.1 143.35 L895.35 143.35 L895.59 143.35 L895.84 143.35 L896.09 143.35 L896.34 143.35 L896.58 143.35 L896.83 143.35 L897.08 143.35 L897.33 143.35 L897.58 143.35 L897.82 143.35 L898.07 143.35 L898.32 143.35 L898.57 143.35 L898.81 143.35 L899.06 143.35 L899.31 143.35 L899.56 143.35 L899.8 143.35 L900.05 143.35 L900.3 143.35 L900.55 143.35 L900.79 143.35 L901.04 143.35 L901.29 143.35 L901.54 143.35 L901.79 143.35 L902.03 143.35 L902.28 143.35 L902.53 143.35 L902.78 143.35 L903.02 143.35 L903.27 143.35 L903.52 143.35 L903.77 143.35 L904.01 143.35 L904.26 143.35 L904.51 143.35 L904.76 143.35 L905.01 143.35 L905.25 143.35 L905.5 143.35 L905.75 143.35 L906 143.35 L906.24 143.35 L906.49 143.35 L906.74 143.35 L906.99 143.35 L907.23 143.35 L907.48 143.35 L907.73 143.35 L907.98 143.35 L908.23 143.35 L908.47 143.35 L908.72 143.35 L908.97 143.35 L909.22 143.35 L909.46 143.35 L909.71 143.35 L909.96 143.35 L910.21 143.35 L910.45 143.35 L910.7 143.35 L910.95 143.35 L911.2 143.35 L911.45 143.35 L911.69 143.35 L911.94 143.35 L912.19 143.35 L912.44 143.35 L912.68 143.35 L912.93 143.35 L913.18 143.35 L913.43 143.35 L913.67 143.35 L913.92 143.35 L914.17 143.35 L914.42 143.35 L914.66 143.35 L914.91 143.35 L915.16 143.35 L915.41 143.35 L915.66 143.35 L915.9 143.35 L916.15 143.35 L916.4 143.35 L916.65 143.35 L916.89 143.35 L917.14 143.35 L917.39 143.35 L917.64 143.35 L917.88 143.35 L918.13 143.35 L918.38 143.35 L918.63 143.35 L918.88 143.35 L919.12 143.35 L919.37 143.35 L919.62 143.35 L919.87 143.35 L920.11 143.35 L920.36 143.35 L920.61 143.35 L920.86 143.35 L921.1 143.35 L921.35 143.35 L921.6 143.35 L921.85 143.35 L922.1 143.35 L922.34 143.35 L922.59 143.35 L922.84 143.35 L923.09 143.35 L923.33 143.35 L923.58 143.35 L923.83 143.35 L924.08 143.35 L924.32 143.35 L924.57 143.35 L924.82 143.35 L925.07 143.35 L925.31 143.35 L925.56 143.35 L925.81 143.35 L926.06 143.35 L926.31 143.35 L926.55 143.35 L926.8 143.35 L927.05 143.35 L927.3 143.35 L927.54 143.35 L927.79 143.35 L928.04 143.35 L928.29 143.35 L928.53 143.35 L928.78 143.35 L929.03 143.35 L929.28 143.35 L929.53 143.35 L929.77 143.35 L930.02 143.35 L930.27 143.35 L930.52 143.35 L930.76 143.35 L931.01 143.35 L931.26 143.35 L931.51 143.35 L931.75 143.35 L932 143.35 L932.25 143.35 L932.5 143.35 L932.75 143.35 L932.99 143.35 L933.24 143.35 L933.49 143.35 L933.74 143.35 L933.98 143.35 L934.23 143.35 L934.48 143.35 L934.73 143.35 L934.97 143.35 L935.22 143.35 L935.47 143.35 L935.72 143.35 L935.97 143.35 L936.21 143.35 L936.46 143.35 L936.71 143.35 L936.96 143.35 L937.2 143.35 L937.45 143.35 L937.7 143.35 L937.95 143.35 L938.19 143.35 L938.44 143.35 L938.69 143.35 L938.94 143.35 L939.18 143.35 L939.43 143.35 L939.68 143.35 L939.93 143.35 L940.18 143.35 L940.42 143.35 L940.67 143.35 L940.92 143.35 L941.17 143.35 L941.41 143.35 L941.66 143.35 L941.91 143.35 L942.16 143.35 L942.4 143.35 L942.65 143.35 L942.9 143.35" fill="none" stroke="#0000ff" stroke-width="2.0" stroke-linejoin="round" clip-path="url(#ct1)"/>
<path d="M596.4 143.35 L622.4 143.35 L623.29 143.45 L624.17 143.74 L625.06 144.16 L625.95 144.67 L626.84 145.17 L627.73 145.6 L628.61 145.89 L629.5 145.99 L630.39 145.62 L631.27 144.57 L632.16 143 L633.05 141.15 L633.94 139.3 L634.83 137.73 L635.71 136.69 L636.6 136.32 L637.5 137.1 L638.4 139.34 L639.3 142.69 L640.2 146.65 L641.1 150.6 L642 153.95 L642.9 156.19 L643.8 156.97 L644.69 155.64 L645.57 151.83 L646.46 146.12 L647.35 139.39 L648.24 132.67 L649.12 126.96 L650.01 123.15 L650.9 121.81 L651.82 123.75 L652.75 129.28 L653.67 137.55 L654.6 147.31 L655.52 157.06 L656.45 165.33 L657.38 170.86 L658.3 172.8 L659.21 170.24 L660.12 162.95 L661.04 152.04 L661.95 139.17 L662.86 126.31 L663.77 115.4 L664.69 108.11 L665.6 105.55 L666.5 108.7 L667.4 117.65 L668.3 131.06 L669.2 146.87 L670.1 162.68 L671 176.08 L671.9 185.03 L672.8 188.18 L673.69 184.57 L674.57 174.28 L675.46 158.88 L676.35 140.71 L677.24 122.55 L678.12 107.15 L679.01 96.86 L679.9 93.25 L680.79 97.18 L681.67 108.37 L682.56 125.13 L683.45 144.89 L684.34 164.65 L685.23 181.4 L686.11 192.6 L687 196.53 L687.9 192.46 L688.8 180.88 L689.7 163.54 L690.6 143.09 L691.5 122.63 L692.4 105.3 L693.3 93.71 L694.2 89.64 L695.09 93.7 L695.97 105.27 L696.86 122.58 L697.75 143 L698.64 163.42 L699.52 180.73 L700.41 192.29 L701.3 196.35 L702.22 192.48 L703.15 181.45 L704.07 164.94 L705 145.46 L705.92 125.98 L706.85 109.47 L707.77 98.44 L708.7 94.57 L709.55 98.08 L710.4 108.09 L711.25 123.08 L712.1 140.76 L712.95 158.43 L713.8 173.42 L714.65 183.43 L715.5 186.95 L716.4 183.89 L717.3 175.18 L718.2 162.15 L719.1 146.78 L720 131.41 L720.9 118.37 L721.8 109.67 L722.7 106.61 L723.52 109.15 L724.35 116.39 L725.17 127.23 L726 140.01 L726.82 152.79 L727.65 163.63 L728.47 170.87 L729.3 173.41 L730.15 171.38 L731 165.6 L731.85 156.94 L732.7 146.73 L733.55 136.53 L734.4 127.87 L735.25 122.09 L736.1 120.06 L736.94 121.65 L737.77 126.2 L738.61 133 L739.45 141.02 L740.29 149.04 L741.12 155.84 L741.96 160.39 L742.8 161.98 L743.65 160.67 L744.5 156.94 L745.35 151.35 L746.2 144.76 L747.05 138.16 L747.9 132.57 L748.75 128.84 L749.6 127.53 L750.39 128.68 L751.17 131.94 L751.96 136.83 L752.75 142.6 L753.54 148.37 L754.32 153.26 L755.11 156.53 L755.9 157.68 L756.75 156.65 L757.6 153.74 L758.45 149.38 L759.3 144.23 L760.15 139.08 L761 134.72 L761.85 131.8 L762.7 130.78 L763.54 131.66 L764.38 134.17 L765.21 137.92 L766.05 142.34 L766.89 146.76 L767.73 150.51 L768.56 153.02 L769.4 153.9 L770.29 153.17 L771.17 151.08 L772.06 147.96 L772.95 144.27 L773.84 140.59 L774.73 137.47 L775.61 135.38 L776.5 134.65 L777.35 135.24 L778.2 136.91 L779.05 139.42 L779.9 142.38 L780.75 145.34 L781.6 147.85 L782.45 149.53 L783.3 150.12 L784.12 149.65 L784.95 148.32 L785.77 146.32 L786.6 143.97 L787.42 141.61 L788.25 139.61 L789.07 138.28 L789.9 137.81 L790.7 138.2 L791.5 139.32 L792.3 140.99 L793.1 142.95 L793.9 144.92 L794.7 146.59 L795.5 147.71 L796.3 148.1 L797.12 147.77 L797.95 146.82 L798.77 145.41 L799.6 143.75 L800.42 142.08 L801.25 140.67 L802.07 139.73 L802.9 139.39 L803.75 139.7 L804.6 140.55 L805.45 141.84 L806.3 143.35 L807.15 144.86 L808 146.15 L808.85 147 L809.7 147.31 L810.52 147.02 L811.34 146.21 L812.16 145 L812.98 143.57 L813.79 142.14 L814.61 140.93 L815.43 140.12 L816.25 139.83 L817.07 140.08 L817.89 140.79 L818.71 141.84 L819.52 143.09 L820.34 144.33 L821.16 145.39 L821.98 146.09 L822.8 146.34 L823.62 146.13 L824.44 145.53 L825.26 144.63 L826.07 143.57 L826.89 142.51 L827.71 141.61 L828.53 141.01 L829.35 140.8 L830.17 140.98 L830.99 141.5 L831.81 142.27 L832.62 143.17 L833.44 144.08 L834.26 144.85 L835.08 145.37 L835.9 145.55 L836.72 145.39 L837.54 144.96 L838.36 144.3 L839.18 143.53 L839.99 142.75 L840.81 142.1 L841.63 141.66 L842.45 141.5 L843.27 141.63 L844.09 142.01 L844.91 142.56 L845.73 143.22 L846.54 143.87 L847.36 144.43 L848.18 144.8 L849 144.93 L849.82 144.82 L850.64 144.51 L851.46 144.04 L852.27 143.48 L853.09 142.93 L853.91 142.46 L854.73 142.14 L855.55 142.03 L856.37 142.13 L857.19 142.39 L858.01 142.79 L858.83 143.26 L859.64 143.73 L860.46 144.13 L861.28 144.4 L862.1 144.49 L862.92 144.41 L863.74 144.18 L864.56 143.84 L865.38 143.44 L866.19 143.03 L867.01 142.69 L867.83 142.46 L868.65 142.38 L869.47 142.45 L870.29 142.65 L871.11 142.95 L871.93 143.31 L872.74 143.66 L873.56 143.96 L874.38 144.16 L875.2 144.23 L876.02 144.17 L876.84 143.98 L877.66 143.71 L878.48 143.39 L879.29 143.07 L880.11 142.8 L880.93 142.62 L881.75 142.56 L882.57 142.62 L883.39 142.78 L884.21 143.02 L885.03 143.31 L885.84 143.59 L886.66 143.83 L887.48 144 L888.3 144.05 L889.12 144 L889.94 143.86 L890.76 143.65 L891.58 143.39 L892.39 143.14 L893.21 142.93 L894.03 142.78 L894.85 142.73 L895.67 142.78 L896.49 142.9 L897.31 143.09 L898.13 143.31 L898.94 143.52 L899.76 143.71 L900.58 143.83 L901.4 143.88 L902.22 143.84 L903.04 143.74 L903.86 143.58 L904.68 143.39 L905.49 143.21 L906.31 143.05 L907.13 142.95 L907.95 142.91 L908.77 142.94 L909.59 143.04 L910.41 143.18 L911.23 143.35 L912.04 143.52 L912.86 143.66 L913.68 143.76 L914.5 143.79 L915.32 143.76 L916.14 143.67 L916.96 143.55 L917.78 143.39 L918.59 143.24 L919.41 143.11 L920.23 143.03 L921.05 143 L921.87 143.03 L922.69 143.1 L923.51 143.22 L924.33 143.35 L925.14 143.48 L925.96 143.6 L926.78 143.67 L927.6 143.7 L928.42 143.67 L929.24 143.6 L930.06 143.48 L930.88 143.35 L931.69 143.22 L932.51 143.1 L933.33 143.03 L934.15 143 L934.97 143.02 L935.79 143.09 L936.61 143.19 L937.43 143.31 L938.24 143.42 L939.06 143.52 L939.88 143.59 L940.7 143.61 L941.52 143.59 L942.34 143.54 L943.16 143.45 L943.98 143.35 L944.79 143.25 L945.61 143.16 L946.43 143.11 L947.25 143.09 L942.9 143.35" fill="none" stroke="#ff0000" stroke-width="2.0" stroke-linejoin="round" clip-path="url(#ct1)"/>
<path d="M1083.4 143.35 L1083.65 143.35 L1083.9 143.34 L1084.14 143.33 L1084.39 143.31 L1084.64 143.29 L1084.89 143.26 L1085.13 143.23 L1085.38 143.21 L1085.63 143.2 L1085.88 143.2 L1086.12 143.23 L1086.37 143.28 L1086.62 143.36 L1086.87 143.47 L1087.12 143.6 L1087.36 143.75 L1087.61 143.92 L1087.86 144.09 L1088.11 144.24 L1088.35 144.37 L1088.6 144.46 L1088.85 144.49 L1089.1 144.46 L1089.34 144.35 L1089.59 144.16 L1089.84 143.89 L1090.09 143.54 L1090.33 143.13 L1090.58 142.66 L1090.83 142.17 L1091.08 141.67 L1091.33 141.2 L1091.57 140.79 L1091.82 140.47 L1092.07 140.26 L1092.32 140.19 L1092.56 140.29 L1092.81 140.56 L1093.06 141.01 L1093.31 141.63 L1093.55 142.4 L1093.8 143.3 L1094.05 144.3 L1094.3 145.33 L1094.55 146.37 L1094.79 147.34 L1095.04 148.19 L1095.29 148.87 L1095.54 149.33 L1095.78 149.52 L1096.03 149.42 L1096.28 149 L1096.53 148.27 L1096.77 147.23 L1097.02 145.92 L1097.27 144.39 L1097.52 142.69 L1097.77 140.91 L1098.01 139.13 L1098.26 137.44 L1098.51 135.92 L1098.76 134.68 L1099 133.78 L1099.25 133.29 L1099.5 133.27 L1099.75 133.75 L1099.99 134.72 L1100.24 136.17 L1100.49 138.06 L1100.74 140.31 L1100.99 142.84 L1101.23 145.53 L1101.48 148.26 L1101.73 150.89 L1101.98 153.3 L1102.22 155.36 L1102.47 156.93 L1102.72 157.93 L1102.97 158.27 L1103.21 157.9 L1103.46 156.82 L1103.71 155.03 L1103.96 152.6 L1104.2 149.61 L1104.45 146.18 L1104.7 142.47 L1104.95 138.63 L1105.2 134.86 L1105.44 131.32 L1105.69 128.22 L1105.94 125.71 L1106.19 123.95 L1106.43 123.04 L1106.68 123.06 L1106.93 124.06 L1107.18 126.02 L1107.42 128.88 L1107.67 132.55 L1107.92 136.86 L1108.17 141.65 L1108.42 146.69 L1108.66 151.76 L1108.91 156.61 L1109.16 161 L1109.41 164.7 L1109.65 167.51 L1109.9 169.27 L1110.15 169.86 L1110.4 169.2 L1110.64 167.3 L1110.89 164.2 L1111.14 160.01 L1111.39 154.89 L1111.64 149.07 L1111.88 142.8 L1112.13 136.35 L1112.38 130.05 L1112.63 124.19 L1112.87 119.06 L1113.12 114.93 L1113.37 112.02 L1113.62 110.52 L1113.86 110.52 L1114.11 112.08 L1114.36 115.16 L1114.61 119.65 L1114.85 125.39 L1115.1 132.13 L1115.35 139.57 L1115.6 147.39 L1115.85 155.22 L1116.09 162.7 L1116.34 169.44 L1116.59 175.13 L1116.84 179.46 L1117.08 182.19 L1117.33 183.16 L1117.58 182.28 L1117.83 179.54 L1118.07 175.04 L1118.32 168.93 L1118.57 161.49 L1118.82 153.02 L1119.07 143.9 L1119.31 134.56 L1119.56 125.42 L1119.81 116.93 L1120.06 109.5 L1120.3 103.5 L1120.55 99.25 L1120.8 96.99 L1121.05 96.85 L1121.29 98.9 L1121.54 103.07 L1121.79 109.22 L1122.04 117.09 L1122.29 126.35 L1122.53 136.58 L1122.78 147.33 L1123.03 158.09 L1123.28 168.37 L1123.52 177.66 L1123.77 185.5 L1124.02 191.52 L1124.27 195.38 L1124.51 196.87 L1124.76 195.88 L1125.01 192.41 L1125.26 186.59 L1125.51 178.64 L1125.75 168.9 L1126 157.81 L1126.25 145.86 L1126.5 133.6 L1126.74 121.6 L1126.99 110.43 L1127.24 100.62 L1127.49 92.67 L1127.73 86.96 L1127.98 83.81 L1128.23 83.39 L1128.48 85.77 L1128.72 90.88 L1128.97 98.52 L1129.22 108.36 L1129.47 119.98 L1129.72 132.85 L1129.96 146.38 L1130.21 159.96 L1130.46 172.94 L1130.71 184.71 L1130.95 194.71 L1131.2 202.43 L1131.45 207.49 L1131.7 209.62 L1131.94 208.68 L1132.19 204.68 L1132.44 197.77 L1132.69 188.24 L1132.94 176.5 L1133.18 163.07 L1133.43 148.57 L1133.68 133.66 L1133.93 119.04 L1134.17 105.39 L1134.42 93.36 L1134.67 83.53 L1134.92 76.39 L1135.16 72.3 L1135.41 71.48 L1135.66 74 L1135.91 79.78 L1136.16 88.58 L1136.4 100.01 L1136.65 113.58 L1136.9 128.67 L1137.15 144.57 L1137.39 160.57 L1137.64 175.91 L1137.89 189.87 L1138.14 201.79 L1138.38 211.08 L1138.63 217.31 L1138.88 220.13 L1139.13 219.41 L1139.37 215.14 L1139.62 207.49 L1139.87 196.8 L1140.12 183.54 L1140.37 168.3 L1140.61 151.79 L1140.86 134.77 L1141.11 118.02 L1141.36 102.34 L1141.6 88.45 L1141.85 77.03 L1142.1 68.61 L1142.35 63.61 L1142.59 62.3 L1142.84 64.74 L1143.09 70.86 L1143.34 80.38 L1143.59 92.89 L1143.83 107.81 L1144.08 124.47 L1144.33 142.11 L1144.58 159.89 L1144.82 177 L1145.07 192.64 L1145.32 206.06 L1145.57 216.63 L1145.81 223.85 L1146.06 227.37 L1146.31 226.99 L1146.56 222.73 L1146.81 214.76 L1147.05 203.44 L1147.3 189.28 L1147.55 172.94 L1147.8 155.15 L1148.04 136.76 L1148.29 118.6 L1148.54 101.53 L1148.79 86.35 L1149.03 73.76 L1149.28 64.37 L1149.53 58.61 L1149.78 56.77 L1150.03 58.94 L1150.27 65.04 L1150.52 74.79 L1150.77 87.74 L1151.02 103.3 L1151.26 120.76 L1151.51 139.3 L1151.76 158.06 L1152.01 176.17 L1152.25 192.79 L1152.5 207.15 L1152.75 218.56 L1153 226.5 L1153.24 230.6 L1153.49 230.65 L1153.74 226.66 L1153.99 218.79 L1154.24 207.43 L1154.48 193.09 L1154.73 176.43 L1154.98 158.23 L1155.23 139.34 L1155.47 120.63 L1155.72 102.97 L1155.97 87.19 L1156.22 74.01 L1156.46 64.05 L1156.71 57.76 L1156.96 55.45 L1157.21 57.21 L1157.46 62.96 L1157.7 72.43 L1157.95 85.18 L1158.2 100.61 L1158.45 118 L1158.69 136.53 L1158.94 155.36 L1159.19 173.6 L1159.44 190.41 L1159.68 205.01 L1159.93 216.73 L1160.18 225.03 L1160.43 229.52 L1160.68 230.02 L1160.92 226.5 L1161.17 219.14 L1161.42 208.29 L1161.67 194.47 L1161.91 178.31 L1162.16 160.59 L1162.41 142.13 L1162.66 123.78 L1162.9 106.4 L1163.15 90.79 L1163.4 77.67 L1163.65 67.63 L1163.89 61.14 L1164.14 58.47 L1164.39 59.74 L1164.64 64.88 L1164.89 73.62 L1165.13 85.55 L1165.38 100.1 L1165.63 116.58 L1165.88 134.22 L1166.12 152.2 L1166.37 169.68 L1166.62 185.85 L1166.87 199.97 L1167.11 211.39 L1167.36 219.61 L1167.61 224.26 L1167.86 225.13 L1168.11 222.23 L1168.35 215.69 L1168.6 205.85 L1168.85 193.18 L1169.1 178.29 L1169.34 161.89 L1169.59 144.73 L1169.84 127.63 L1170.09 111.37 L1170.33 96.7 L1170.58 84.3 L1170.83 74.71 L1171.08 68.36 L1171.33 65.53 L1171.57 66.31 L1171.82 70.64 L1172.07 78.3 L1172.32 88.9 L1172.56 101.93 L1172.81 116.77 L1173.06 132.7 L1173.31 149 L1173.55 164.88 L1173.8 179.64 L1174.05 192.58 L1174.3 203.14 L1174.55 210.84 L1174.79 215.34 L1175.04 216.49 L1175.29 214.24 L1175.54 208.75 L1175.78 200.29 L1176.03 189.29 L1176.28 176.28 L1176.53 161.88 L1176.77 146.79 L1177.02 131.69 L1177.27 117.3 L1177.52 104.26 L1177.76 93.17 L1178.01 84.53 L1178.26 78.69 L1178.51 75.91 L1178.76 76.26 L1179 79.71 L1179.25 86.06 L1179.5 94.96 L1179.75 106 L1179.99 118.61 L1180.24 132.21 L1180.49 146.15 L1180.74 159.78 L1180.98 172.48 L1181.23 183.66 L1181.48 192.84 L1181.73 199.61 L1181.98 203.69 L1182.22 204.94 L1182.47 203.33 L1182.72 198.97 L1182.97 192.12 L1183.21 183.12 L1183.46 172.41 L1183.71 160.53 L1183.96 148.03 L1184.2 135.51 L1184.45 123.54 L1184.7 112.67 L1184.95 103.38 L1185.2 96.09 L1185.44 91.08 L1185.69 88.57 L1185.94 88.62 L1186.19 91.19 L1186.43 96.13 L1186.68 103.15 L1186.93 111.9 L1187.18 121.95 L1187.42 132.81 L1187.67 143.97 L1187.92 154.89 L1188.17 165.09 L1188.42 174.09 L1188.66 181.52 L1188.91 187.05 L1189.16 190.46 L1189.41 191.63 L1189.65 190.57 L1189.9 187.35 L1190.15 182.16 L1190.4 175.3 L1190.64 167.1 L1190.89 157.97 L1191.14 148.36 L1191.39 138.72 L1191.63 129.5 L1191.88 121.11 L1192.13 113.92 L1192.38 108.25 L1192.63 104.31 L1192.87 102.26 L1193.12 102.15 L1193.37 103.93 L1193.62 107.49 L1193.86 112.61 L1194.11 119.03 L1194.36 126.42 L1194.61 134.4 L1194.85 142.61 L1195.1 150.65 L1195.35 158.15 L1195.6 164.79 L1195.85 170.27 L1196.09 174.38 L1196.34 176.95 L1196.59 177.91 L1196.84 177.25 L1197.08 175.05 L1197.33 171.45 L1197.58 166.66 L1197.83 160.93 L1198.07 154.55 L1198.32 147.83 L1198.57 141.1 L1198.82 134.67 L1199.07 128.82 L1199.31 123.81 L1199.56 119.86 L1199.81 117.1 L1200.06 115.63 L1200.3 115.48 L1200.55 116.62 L1200.8 118.95 L1201.05 122.33 L1201.29 126.57 L1201.54 131.44 L1201.79 136.7 L1202.04 142.09 L1202.28 147.35 L1202.53 152.25 L1202.78 156.57 L1203.03 160.13 L1203.28 162.8 L1203.52 164.47 L1203.77 165.11 L1204.02 164.73 L1204.27 163.38 L1204.51 161.15 L1204.76 158.19 L1205.01 154.67 L1205.26 150.76 L1205.5 146.66 L1205.75 142.58 L1206 138.7 L1206.25 135.19 L1206.5 132.2 L1206.74 129.86 L1206.99 128.23 L1207.24 127.37 L1207.49 127.29 L1207.73 127.95 L1207.98 129.29 L1208.23 131.21 L1208.48 133.61 L1208.72 136.34 L1208.97 139.26 L1209.22 142.23 L1209.47 145.11 L1209.72 147.76 L1209.96 150.07 L1210.21 151.96 L1210.46 153.35 L1210.71 154.2 L1210.95 154.5 L1211.2 154.28 L1211.45 153.56 L1211.7 152.41 L1211.94 150.91 L1212.19 149.14 L1212.44 147.21 L1212.69 145.22 L1212.94 143.26 L1213.18 141.43 L1213.43 139.81 L1213.68 138.45 L1213.93 137.41 L1214.17 136.72 L1214.42 136.38 L1214.67 136.39 L1214.92 136.73 L1215.16 137.35 L1215.41 138.2 L1215.66 139.23 L1215.91 140.38 L1216.15 141.57 L1216.4 142.75 L1216.65 143.86 L1216.9 144.86 L1217.15 145.7 L1217.39 146.35 L1217.64 146.81 L1217.89 147.06 L1218.14 147.11 L1218.38 146.97 L1218.63 146.68 L1218.88 146.25 L1219.13 145.73 L1219.37 145.15 L1219.62 144.55 L1219.87 143.96 L1220.12 143.4 L1220.37 142.91 L1220.61 142.51 L1220.86 142.19 L1221.11 141.98 L1221.36 141.87 L1221.6 141.84 L1221.85 141.9 L1222.1 142.03 L1222.35 142.2 L1222.59 142.41 L1222.84 142.63 L1223.09 142.85 L1223.34 143.06 L1223.59 143.24 L1223.83 143.4 L1224.08 143.51 L1224.33 143.59 L1224.58 143.63 L1224.82 143.64 L1225.07 143.63 L1225.32 143.6 L1225.57 143.55 L1225.81 143.51 L1226.06 143.46 L1226.31 143.42 L1226.56 143.39 L1226.8 143.37 L1227.05 143.36 L1227.3 143.35 L1227.55 143.35 L1227.8 143.35 L1228.04 143.35 L1228.29 143.35 L1228.54 143.35 L1228.79 143.35 L1229.03 143.35 L1229.28 143.35 L1229.53 143.35 L1229.78 143.35 L1230.02 143.35 L1230.27 143.35 L1230.52 143.35 L1230.77 143.35 L1231.02 143.35 L1231.26 143.35 L1231.51 143.35 L1231.76 143.35 L1232.01 143.35 L1232.25 143.35 L1232.5 143.35 L1232.75 143.35 L1233 143.35 L1233.24 143.35 L1233.49 143.35 L1233.74 143.35 L1233.99 143.35 L1234.24 143.35 L1234.48 143.35 L1234.73 143.35 L1234.98 143.35 L1235.23 143.35 L1235.47 143.35 L1235.72 143.35 L1235.97 143.35 L1236.22 143.35 L1236.46 143.35 L1236.71 143.35 L1236.96 143.35 L1237.21 143.35 L1237.46 143.35 L1237.7 143.35 L1237.95 143.35 L1238.2 143.35 L1238.45 143.35 L1238.69 143.35 L1238.94 143.35 L1239.19 143.35 L1239.44 143.35 L1239.68 143.35 L1239.93 143.35 L1240.18 143.35 L1240.43 143.35 L1240.67 143.35 L1240.92 143.35 L1241.17 143.35 L1241.42 143.35 L1241.67 143.35 L1241.91 143.35 L1242.16 143.35 L1242.41 143.35 L1242.66 143.35 L1242.9 143.35 L1243.15 143.35 L1243.4 143.35 L1243.65 143.35 L1243.89 143.35 L1244.14 143.35 L1244.39 143.35 L1244.64 143.35 L1244.89 143.35 L1245.13 143.35 L1245.38 143.35 L1245.63 143.35 L1245.88 143.35 L1246.12 143.35 L1246.37 143.35 L1246.62 143.35 L1246.87 143.35 L1247.11 143.35 L1247.36 143.35 L1247.61 143.35 L1247.86 143.35 L1248.11 143.35 L1248.35 143.35 L1248.6 143.35 L1248.85 143.35 L1249.1 143.35 L1249.34 143.35 L1249.59 143.35 L1249.84 143.35 L1250.09 143.35 L1250.33 143.35 L1250.58 143.35 L1250.83 143.35 L1251.08 143.35 L1251.32 143.35 L1251.57 143.35 L1251.82 143.35 L1252.07 143.35 L1252.32 143.35 L1252.56 143.35 L1252.81 143.35 L1253.06 143.35 L1253.31 143.35 L1253.55 143.35 L1253.8 143.35 L1254.05 143.35 L1254.3 143.35 L1254.54 143.35 L1254.79 143.35 L1255.04 143.35 L1255.29 143.35 L1255.54 143.35 L1255.78 143.35 L1256.03 143.35 L1256.28 143.35 L1256.53 143.35 L1256.77 143.35 L1257.02 143.35 L1257.27 143.35 L1257.52 143.35 L1257.76 143.35 L1258.01 143.35 L1258.26 143.35 L1258.51 143.35 L1258.76 143.35 L1259 143.35 L1259.25 143.35 L1259.5 143.35 L1259.75 143.35 L1259.99 143.35 L1260.24 143.35 L1260.49 143.35 L1260.74 143.35 L1260.98 143.35 L1261.23 143.35 L1261.48 143.35 L1261.73 143.35 L1261.98 143.35 L1262.22 143.35 L1262.47 143.35 L1262.72 143.35 L1262.97 143.35 L1263.21 143.35 L1263.46 143.35 L1263.71 143.35 L1263.96 143.35 L1264.2 143.35 L1264.45 143.35 L1264.7 143.35 L1264.95 143.35 L1265.19 143.35 L1265.44 143.35 L1265.69 143.35 L1265.94 143.35 L1266.19 143.35 L1266.43 143.35 L1266.68 143.35 L1266.93 143.35 L1267.18 143.35 L1267.42 143.35 L1267.67 143.35 L1267.92 143.35 L1268.17 143.35 L1268.41 143.35 L1268.66 143.35 L1268.91 143.35 L1269.16 143.35 L1269.41 143.35 L1269.65 143.35 L1269.9 143.35 L1270.15 143.35 L1270.4 143.35 L1270.64 143.35 L1270.89 143.35 L1271.14 143.35 L1271.39 143.35 L1271.63 143.35 L1271.88 143.35 L1272.13 143.35 L1272.38 143.35 L1272.63 143.35 L1272.87 143.35 L1273.12 143.35 L1273.37 143.35 L1273.62 143.35 L1273.86 143.35 L1274.11 143.35 L1274.36 143.35 L1274.61 143.35 L1274.85 143.35 L1275.1 143.35 L1275.35 143.35 L1275.6 143.35 L1275.84 143.35 L1276.09 143.35 L1276.34 143.35 L1276.59 143.35 L1276.84 143.35 L1277.08 143.35 L1277.33 143.35 L1277.58 143.35 L1277.83 143.35 L1278.07 143.35 L1278.32 143.35 L1278.57 143.35 L1278.82 143.35 L1279.06 143.35 L1279.31 143.35 L1279.56 143.35 L1279.81 143.35 L1280.06 143.35 L1280.3 143.35 L1280.55 143.35 L1280.8 143.35 L1281.05 143.35 L1281.29 143.35 L1281.54 143.35 L1281.79 143.35 L1282.04 143.35 L1282.28 143.35 L1282.53 143.35 L1282.78 143.35 L1283.03 143.35 L1283.28 143.35 L1283.52 143.35 L1283.77 143.35 L1284.02 143.35 L1284.27 143.35 L1284.51 143.35 L1284.76 143.35 L1285.01 143.35 L1285.26 143.35 L1285.5 143.35 L1285.75 143.35 L1286 143.35 L1286.25 143.35 L1286.5 143.35 L1286.74 143.35 L1286.99 143.35 L1287.24 143.35 L1287.49 143.35 L1287.73 143.35 L1287.98 143.35 L1288.23 143.35 L1288.48 143.35 L1288.72 143.35 L1288.97 143.35 L1289.22 143.35 L1289.47 143.35 L1289.71 143.35 L1289.96 143.35 L1290.21 143.35 L1290.46 143.35 L1290.71 143.35 L1290.95 143.35 L1291.2 143.35 L1291.45 143.35 L1291.7 143.35 L1291.94 143.35 L1292.19 143.35 L1292.44 143.35 L1292.69 143.35 L1292.93 143.35 L1293.18 143.35 L1293.43 143.35 L1293.68 143.35 L1293.93 143.35 L1294.17 143.35 L1294.42 143.35 L1294.67 143.35 L1294.92 143.35 L1295.16 143.35 L1295.41 143.35 L1295.66 143.35 L1295.91 143.35 L1296.15 143.35 L1296.4 143.35 L1296.65 143.35 L1296.9 143.35 L1297.15 143.35 L1297.39 143.35 L1297.64 143.35 L1297.89 143.35 L1298.14 143.35 L1298.38 143.35 L1298.63 143.35 L1298.88 143.35 L1299.13 143.35 L1299.37 143.35 L1299.62 143.35 L1299.87 143.35 L1300.12 143.35 L1300.36 143.35 L1300.61 143.35 L1300.86 143.35 L1301.11 143.35 L1301.36 143.35 L1301.6 143.35 L1301.85 143.35 L1302.1 143.35 L1302.35 143.35 L1302.59 143.35 L1302.84 143.35 L1303.09 143.35 L1303.34 143.35 L1303.58 143.35 L1303.83 143.35 L1304.08 143.35 L1304.33 143.35 L1304.58 143.35 L1304.82 143.35 L1305.07 143.35 L1305.32 143.35 L1305.57 143.35 L1305.81 143.35 L1306.06 143.35 L1306.31 143.35 L1306.56 143.35 L1306.8 143.35 L1307.05 143.35 L1307.3 143.35 L1307.55 143.35 L1307.8 143.35 L1308.04 143.35 L1308.29 143.35 L1308.54 143.35 L1308.79 143.35 L1309.03 143.35 L1309.28 143.35 L1309.53 143.35 L1309.78 143.35 L1310.02 143.35 L1310.27 143.35 L1310.52 143.35 L1310.77 143.35 L1311.02 143.35 L1311.26 143.35 L1311.51 143.35 L1311.76 143.35 L1312.01 143.35 L1312.25 143.35 L1312.5 143.35 L1312.75 143.35 L1313 143.35 L1313.24 143.35 L1313.49 143.35 L1313.74 143.35 L1313.99 143.35 L1314.23 143.35 L1314.48 143.35 L1314.73 143.35 L1314.98 143.35 L1315.23 143.35 L1315.47 143.35 L1315.72 143.35 L1315.97 143.35 L1316.22 143.35 L1316.46 143.35 L1316.71 143.35 L1316.96 143.35 L1317.21 143.35 L1317.45 143.35 L1317.7 143.35 L1317.95 143.35 L1318.2 143.35 L1318.45 143.35 L1318.69 143.35 L1318.94 143.35 L1319.19 143.35 L1319.44 143.35 L1319.68 143.35 L1319.93 143.35 L1320.18 143.35 L1320.43 143.35 L1320.67 143.35 L1320.92 143.35 L1321.17 143.35 L1321.42 143.35 L1321.67 143.35 L1321.91 143.35 L1322.16 143.35 L1322.41 143.35 L1322.66 143.35 L1322.9 143.35 L1323.15 143.35 L1323.4 143.35 L1323.65 143.35 L1323.89 143.35 L1324.14 143.35 L1324.39 143.35 L1324.64 143.35 L1324.88 143.35 L1325.13 143.35 L1325.38 143.35 L1325.63 143.35 L1325.88 143.35 L1326.12 143.35 L1326.37 143.35 L1326.62 143.35 L1326.87 143.35 L1327.11 143.35 L1327.36 143.35 L1327.61 143.35 L1327.86 143.35 L1328.1 143.35 L1328.35 143.35 L1328.6 143.35 L1328.85 143.35 L1329.1 143.35 L1329.34 143.35 L1329.59 143.35 L1329.84 143.35 L1330.09 143.35 L1330.33 143.35 L1330.58 143.35 L1330.83 143.35 L1331.08 143.35 L1331.32 143.35 L1331.57 143.35 L1331.82 143.35 L1332.07 143.35 L1332.32 143.35 L1332.56 143.35 L1332.81 143.35 L1333.06 143.35 L1333.31 143.35 L1333.55 143.35 L1333.8 143.35 L1334.05 143.35 L1334.3 143.35 L1334.54 143.35 L1334.79 143.35 L1335.04 143.35 L1335.29 143.35 L1335.54 143.35 L1335.78 143.35 L1336.03 143.35 L1336.28 143.35 L1336.53 143.35 L1336.77 143.35 L1337.02 143.35 L1337.27 143.35 L1337.52 143.35 L1337.76 143.35 L1338.01 143.35 L1338.26 143.35 L1338.51 143.35 L1338.75 143.35 L1339 143.35 L1339.25 143.35 L1339.5 143.35 L1339.75 143.35 L1339.99 143.35 L1340.24 143.35 L1340.49 143.35 L1340.74 143.35 L1340.98 143.35 L1341.23 143.35 L1341.48 143.35 L1341.73 143.35 L1341.97 143.35 L1342.22 143.35 L1342.47 143.35 L1342.72 143.35 L1342.97 143.35 L1343.21 143.35 L1343.46 143.35 L1343.71 143.35 L1343.96 143.35 L1344.2 143.35 L1344.45 143.35 L1344.7 143.35 L1344.95 143.35 L1345.19 143.35 L1345.44 143.35 L1345.69 143.35 L1345.94 143.35 L1346.19 143.35 L1346.43 143.35 L1346.68 143.35 L1346.93 143.35 L1347.18 143.35 L1347.42 143.35 L1347.67 143.35 L1347.92 143.35 L1348.17 143.35 L1348.41 143.35 L1348.66 143.35 L1348.91 143.35 L1349.16 143.35 L1349.41 143.35 L1349.65 143.35 L1349.9 143.35 L1350.15 143.35 L1350.4 143.35 L1350.64 143.35 L1350.89 143.35 L1351.14 143.35 L1351.39 143.35 L1351.63 143.35 L1351.88 143.35 L1352.13 143.35 L1352.38 143.35 L1352.62 143.35 L1352.87 143.35 L1353.12 143.35 L1353.37 143.35 L1353.62 143.35 L1353.86 143.35 L1354.11 143.35 L1354.36 143.35 L1354.61 143.35 L1354.85 143.35 L1355.1 143.35 L1355.35 143.35 L1355.6 143.35 L1355.84 143.35 L1356.09 143.35 L1356.34 143.35 L1356.59 143.35 L1356.84 143.35 L1357.08 143.35 L1357.33 143.35 L1357.58 143.35 L1357.83 143.35 L1358.07 143.35 L1358.32 143.35 L1358.57 143.35 L1358.82 143.35 L1359.06 143.35 L1359.31 143.35 L1359.56 143.35 L1359.81 143.35 L1360.06 143.35 L1360.3 143.35 L1360.55 143.35 L1360.8 143.35 L1361.05 143.35 L1361.29 143.35 L1361.54 143.35 L1361.79 143.35 L1362.04 143.35 L1362.28 143.35 L1362.53 143.35 L1362.78 143.35 L1363.03 143.35 L1363.27 143.35 L1363.52 143.35 L1363.77 143.35 L1364.02 143.35 L1364.27 143.35 L1364.51 143.35 L1364.76 143.35 L1365.01 143.35 L1365.26 143.35 L1365.5 143.35 L1365.75 143.35 L1366 143.35 L1366.25 143.35 L1366.49 143.35 L1366.74 143.35 L1366.99 143.35 L1367.24 143.35 L1367.49 143.35 L1367.73 143.35 L1367.98 143.35 L1368.23 143.35 L1368.48 143.35 L1368.72 143.35 L1368.97 143.35 L1369.22 143.35 L1369.47 143.35 L1369.71 143.35 L1369.96 143.35 L1370.21 143.35 L1370.46 143.35 L1370.71 143.35 L1370.95 143.35 L1371.2 143.35 L1371.45 143.35 L1371.7 143.35 L1371.94 143.35 L1372.19 143.35 L1372.44 143.35 L1372.69 143.35 L1372.93 143.35 L1373.18 143.35 L1373.43 143.35 L1373.68 143.35 L1373.93 143.35 L1374.17 143.35 L1374.42 143.35 L1374.67 143.35 L1374.92 143.35 L1375.16 143.35 L1375.41 143.35 L1375.66 143.35 L1375.91 143.35 L1376.15 143.35 L1376.4 143.35 L1376.65 143.35 L1376.9 143.35 L1377.14 143.35 L1377.39 143.35 L1377.64 143.35 L1377.89 143.35 L1378.14 143.35 L1378.38 143.35 L1378.63 143.35 L1378.88 143.35 L1379.13 143.35 L1379.37 143.35 L1379.62 143.35 L1379.87 143.35 L1380.12 143.35 L1380.36 143.35 L1380.61 143.35 L1380.86 143.35 L1381.11 143.35 L1381.36 143.35 L1381.6 143.35 L1381.85 143.35 L1382.1 143.35 L1382.35 143.35 L1382.59 143.35 L1382.84 143.35 L1383.09 143.35 L1383.34 143.35 L1383.58 143.35 L1383.83 143.35 L1384.08 143.35 L1384.33 143.35 L1384.58 143.35 L1384.82 143.35 L1385.07 143.35 L1385.32 143.35 L1385.57 143.35 L1385.81 143.35 L1386.06 143.35 L1386.31 143.35 L1386.56 143.35 L1386.8 143.35 L1387.05 143.35 L1387.3 143.35 L1387.55 143.35 L1387.79 143.35 L1388.04 143.35 L1388.29 143.35 L1388.54 143.35 L1388.79 143.35 L1389.03 143.35 L1389.28 143.35 L1389.53 143.35 L1389.78 143.35 L1390.02 143.35 L1390.27 143.35 L1390.52 143.35 L1390.77 143.35 L1391.01 143.35 L1391.26 143.35 L1391.51 143.35 L1391.76 143.35 L1392.01 143.35 L1392.25 143.35 L1392.5 143.35 L1392.75 143.35 L1393 143.35 L1393.24 143.35 L1393.49 143.35 L1393.74 143.35 L1393.99 143.35 L1394.23 143.35 L1394.48 143.35 L1394.73 143.35 L1394.98 143.35 L1395.23 143.35 L1395.47 143.35 L1395.72 143.35 L1395.97 143.35 L1396.22 143.35 L1396.46 143.35 L1396.71 143.35 L1396.96 143.35 L1397.21 143.35 L1397.45 143.35 L1397.7 143.35 L1397.95 143.35 L1398.2 143.35 L1398.45 143.35 L1398.69 143.35 L1398.94 143.35 L1399.19 143.35 L1399.44 143.35 L1399.68 143.35 L1399.93 143.35 L1400.18 143.35 L1400.43 143.35 L1400.67 143.35 L1400.92 143.35 L1401.17 143.35 L1401.42 143.35 L1401.66 143.35 L1401.91 143.35 L1402.16 143.35 L1402.41 143.35 L1402.66 143.35 L1402.9 143.35 L1403.15 143.35 L1403.4 143.35 L1403.65 143.35 L1403.89 143.35 L1404.14 143.35 L1404.39 143.35 L1404.64 143.35 L1404.88 143.35 L1405.13 143.35 L1405.38 143.35 L1405.63 143.35 L1405.88 143.35 L1406.12 143.35 L1406.37 143.35 L1406.62 143.35 L1406.87 143.35 L1407.11 143.35 L1407.36 143.35 L1407.61 143.35 L1407.86 143.35 L1408.1 143.35 L1408.35 143.35 L1408.6 143.35 L1408.85 143.35 L1409.1 143.35 L1409.34 143.35 L1409.59 143.35 L1409.84 143.35 L1410.09 143.35 L1410.33 143.35 L1410.58 143.35 L1410.83 143.35 L1411.08 143.35 L1411.32 143.35 L1411.57 143.35 L1411.82 143.35 L1412.07 143.35 L1412.31 143.35 L1412.56 143.35 L1412.81 143.35 L1413.06 143.35 L1413.31 143.35 L1413.55 143.35 L1413.8 143.35 L1414.05 143.35 L1414.3 143.35 L1414.54 143.35 L1414.79 143.35 L1415.04 143.35 L1415.29 143.35 L1415.53 143.35 L1415.78 143.35 L1416.03 143.35 L1416.28 143.35 L1416.53 143.35 L1416.77 143.35 L1417.02 143.35 L1417.27 143.35 L1417.52 143.35 L1417.76 143.35 L1418.01 143.35 L1418.26 143.35 L1418.51 143.35 L1418.75 143.35 L1419 143.35 L1419.25 143.35 L1419.5 143.35 L1419.75 143.35 L1419.99 143.35 L1420.24 143.35 L1420.49 143.35 L1420.74 143.35 L1420.98 143.35 L1421.23 143.35 L1421.48 143.35 L1421.73 143.35 L1421.97 143.35 L1422.22 143.35 L1422.47 143.35 L1422.72 143.35 L1422.97 143.35 L1423.21 143.35 L1423.46 143.35 L1423.71 143.35 L1423.96 143.35 L1424.2 143.35 L1424.45 143.35 L1424.7 143.35 L1424.95 143.35 L1425.19 143.35 L1425.44 143.35 L1425.69 143.35 L1425.94 143.35 L1426.18 143.35 L1426.43 143.35 L1426.68 143.35 L1426.93 143.35 L1427.18 143.35 L1427.42 143.35 L1427.67 143.35 L1427.92 143.35 L1428.17 143.35 L1428.41 143.35 L1428.66 143.35 L1428.91 143.35 L1429.16 143.35 L1429.4 143.35 L1429.65 143.35 L1429.9 143.35" fill="none" stroke="#0000ff" stroke-width="2.0" stroke-linejoin="round" clip-path="url(#ct2)"/>
<path d="M1083.4 143.35 L1083.65 143.35 L1083.9 143.35 L1084.14 143.35 L1084.39 143.35 L1084.64 143.35 L1084.89 143.35 L1085.13 143.35 L1085.38 143.35 L1085.63 143.35 L1085.88 143.35 L1086.12 143.35 L1086.37 143.35 L1086.62 143.35 L1086.87 143.35 L1087.12 143.35 L1087.36 143.35 L1087.61 143.36 L1087.86 143.36 L1088.11 143.36 L1088.35 143.36 L1088.6 143.36 L1088.85 143.36 L1089.1 143.36 L1089.34 143.36 L1089.59 143.36 L1089.84 143.36 L1090.09 143.35 L1090.33 143.35 L1090.58 143.34 L1090.83 143.34 L1091.08 143.33 L1091.33 143.32 L1091.57 143.32 L1091.82 143.32 L1092.07 143.31 L1092.32 143.31 L1092.56 143.31 L1092.81 143.32 L1093.06 143.32 L1093.31 143.33 L1093.55 143.34 L1093.8 143.35 L1094.05 143.36 L1094.3 143.37 L1094.55 143.39 L1094.79 143.4 L1095.04 143.41 L1095.29 143.42 L1095.54 143.42 L1095.78 143.42 L1096.03 143.42 L1096.28 143.42 L1096.53 143.41 L1096.77 143.4 L1097.02 143.38 L1097.27 143.36 L1097.52 143.34 L1097.77 143.32 L1098.01 143.3 L1098.26 143.28 L1098.51 143.26 L1098.76 143.25 L1099 143.24 L1099.25 143.23 L1099.5 143.23 L1099.75 143.23 L1099.99 143.25 L1100.24 143.26 L1100.49 143.29 L1100.74 143.31 L1100.99 143.34 L1101.23 143.38 L1101.48 143.41 L1101.73 143.44 L1101.98 143.47 L1102.22 143.49 L1102.47 143.51 L1102.72 143.52 L1102.97 143.53 L1103.21 143.52 L1103.46 143.51 L1103.71 143.49 L1103.96 143.46 L1104.2 143.43 L1104.45 143.38 L1104.7 143.34 L1104.95 143.29 L1105.2 143.25 L1105.44 143.21 L1105.69 143.17 L1105.94 143.14 L1106.19 143.12 L1106.43 143.11 L1106.68 143.11 L1106.93 143.12 L1107.18 143.14 L1107.42 143.18 L1107.67 143.22 L1107.92 143.27 L1108.17 143.33 L1108.42 143.39 L1108.66 143.45 L1108.91 143.51 L1109.16 143.56 L1109.41 143.61 L1109.65 143.64 L1109.9 143.66 L1110.15 143.67 L1110.4 143.66 L1110.64 143.64 L1110.89 143.6 L1111.14 143.55 L1111.39 143.49 L1111.64 143.42 L1111.88 143.34 L1112.13 143.27 L1112.38 143.19 L1112.63 143.12 L1112.87 143.06 L1113.12 143.01 L1113.37 142.97 L1113.62 142.96 L1113.86 142.96 L1114.11 142.98 L1114.36 143.01 L1114.61 143.07 L1114.85 143.13 L1115.1 143.22 L1115.35 143.3 L1115.6 143.4 L1115.85 143.49 L1116.09 143.58 L1116.34 143.66 L1116.59 143.73 L1116.84 143.78 L1117.08 143.82 L1117.33 143.83 L1117.58 143.82 L1117.83 143.78 L1118.07 143.73 L1118.32 143.66 L1118.57 143.57 L1118.82 143.47 L1119.07 143.36 L1119.31 143.24 L1119.56 143.14 L1119.81 143.03 L1120.06 142.94 L1120.3 142.87 L1120.55 142.82 L1120.8 142.79 L1121.05 142.79 L1121.29 142.82 L1121.54 142.87 L1121.79 142.94 L1122.04 143.04 L1122.29 143.15 L1122.53 143.27 L1122.78 143.4 L1123.03 143.53 L1123.28 143.65 L1123.52 143.76 L1123.77 143.86 L1124.02 143.93 L1124.27 143.97 L1124.51 143.99 L1124.76 143.98 L1125.01 143.94 L1125.26 143.87 L1125.51 143.77 L1125.75 143.66 L1126 143.52 L1126.25 143.38 L1126.5 143.23 L1126.74 143.09 L1126.99 142.96 L1127.24 142.84 L1127.49 142.74 L1127.73 142.67 L1127.98 142.64 L1128.23 142.63 L1128.48 142.66 L1128.72 142.72 L1128.97 142.81 L1129.22 142.93 L1129.47 143.07 L1129.72 143.22 L1129.96 143.39 L1130.21 143.55 L1130.46 143.7 L1130.71 143.85 L1130.95 143.97 L1131.2 144.06 L1131.45 144.12 L1131.7 144.14 L1131.94 144.13 L1132.19 144.09 L1132.44 144 L1132.69 143.89 L1132.94 143.75 L1133.18 143.59 L1133.43 143.41 L1133.68 143.23 L1133.93 143.06 L1134.17 142.89 L1134.42 142.75 L1134.67 142.63 L1134.92 142.55 L1135.16 142.5 L1135.41 142.49 L1135.66 142.52 L1135.91 142.59 L1136.16 142.69 L1136.4 142.83 L1136.65 142.99 L1136.9 143.17 L1137.15 143.36 L1137.39 143.56 L1137.64 143.74 L1137.89 143.91 L1138.14 144.05 L1138.38 144.16 L1138.63 144.24 L1138.88 144.27 L1139.13 144.26 L1139.37 144.21 L1139.62 144.12 L1139.87 143.99 L1140.12 143.83 L1140.37 143.65 L1140.61 143.45 L1140.86 143.25 L1141.11 143.05 L1141.36 142.86 L1141.6 142.69 L1141.85 142.55 L1142.1 142.45 L1142.35 142.39 L1142.59 142.38 L1142.84 142.41 L1143.09 142.48 L1143.34 142.6 L1143.59 142.75 L1143.83 142.92 L1144.08 143.12 L1144.33 143.34 L1144.58 143.55 L1144.82 143.75 L1145.07 143.94 L1145.32 144.1 L1145.57 144.23 L1145.81 144.32 L1146.06 144.36 L1146.31 144.35 L1146.56 144.3 L1146.81 144.21 L1147.05 144.07 L1147.3 143.9 L1147.55 143.7 L1147.8 143.49 L1148.04 143.27 L1148.29 143.05 L1148.54 142.85 L1148.79 142.67 L1149.03 142.52 L1149.28 142.4 L1149.53 142.33 L1149.78 142.31 L1150.03 142.34 L1150.27 142.41 L1150.52 142.53 L1150.77 142.68 L1151.02 142.87 L1151.26 143.08 L1151.51 143.3 L1151.76 143.53 L1152.01 143.74 L1152.25 143.94 L1152.5 144.11 L1152.75 144.25 L1153 144.35 L1153.24 144.4 L1153.49 144.4 L1153.74 144.35 L1153.99 144.25 L1154.24 144.12 L1154.48 143.95 L1154.73 143.75 L1154.98 143.53 L1155.23 143.3 L1155.47 143.08 L1155.72 142.87 L1155.97 142.68 L1156.22 142.52 L1156.46 142.4 L1156.71 142.32 L1156.96 142.3 L1157.21 142.32 L1157.46 142.39 L1157.7 142.5 L1157.95 142.65 L1158.2 142.84 L1158.45 143.05 L1158.69 143.27 L1158.94 143.49 L1159.19 143.71 L1159.44 143.91 L1159.68 144.09 L1159.93 144.23 L1160.18 144.33 L1160.43 144.38 L1160.68 144.39 L1160.92 144.35 L1161.17 144.26 L1161.42 144.13 L1161.67 143.96 L1161.91 143.77 L1162.16 143.56 L1162.41 143.34 L1162.66 143.12 L1162.9 142.91 L1163.15 142.72 L1163.4 142.56 L1163.65 142.44 L1163.89 142.36 L1164.14 142.33 L1164.39 142.35 L1164.64 142.41 L1164.89 142.51 L1165.13 142.66 L1165.38 142.83 L1165.63 143.03 L1165.88 143.24 L1166.12 143.46 L1166.37 143.67 L1166.62 143.86 L1166.87 144.03 L1167.11 144.17 L1167.36 144.26 L1167.61 144.32 L1167.86 144.33 L1168.11 144.3 L1168.35 144.22 L1168.6 144.1 L1168.85 143.95 L1169.1 143.77 L1169.34 143.57 L1169.59 143.37 L1169.84 143.16 L1170.09 142.97 L1170.33 142.79 L1170.58 142.64 L1170.83 142.53 L1171.08 142.45 L1171.33 142.42 L1171.57 142.43 L1171.82 142.48 L1172.07 142.57 L1172.32 142.7 L1172.56 142.85 L1172.81 143.03 L1173.06 143.22 L1173.31 143.42 L1173.55 143.61 L1173.8 143.79 L1174.05 143.94 L1174.3 144.07 L1174.55 144.16 L1174.79 144.21 L1175.04 144.23 L1175.29 144.2 L1175.54 144.13 L1175.78 144.03 L1176.03 143.9 L1176.28 143.74 L1176.53 143.57 L1176.77 143.39 L1177.02 143.21 L1177.27 143.04 L1177.52 142.88 L1177.76 142.75 L1178.01 142.64 L1178.26 142.57 L1178.51 142.54 L1178.76 142.55 L1179 142.59 L1179.25 142.66 L1179.5 142.77 L1179.75 142.9 L1179.99 143.05 L1180.24 143.22 L1180.49 143.38 L1180.74 143.55 L1180.98 143.7 L1181.23 143.83 L1181.48 143.94 L1181.73 144.02 L1181.98 144.07 L1182.22 144.09 L1182.47 144.07 L1182.72 144.02 L1182.97 143.93 L1183.21 143.83 L1183.46 143.7 L1183.71 143.56 L1183.96 143.41 L1184.2 143.26 L1184.45 143.11 L1184.7 142.98 L1184.95 142.87 L1185.2 142.78 L1185.44 142.72 L1185.69 142.69 L1185.94 142.69 L1186.19 142.72 L1186.43 142.78 L1186.68 142.87 L1186.93 142.97 L1187.18 143.09 L1187.42 143.22 L1187.67 143.36 L1187.92 143.49 L1188.17 143.61 L1188.42 143.72 L1188.66 143.81 L1188.91 143.87 L1189.16 143.91 L1189.41 143.93 L1189.65 143.92 L1189.9 143.88 L1190.15 143.82 L1190.4 143.73 L1190.64 143.63 L1190.89 143.53 L1191.14 143.41 L1191.39 143.29 L1191.63 143.18 L1191.88 143.08 L1192.13 143 L1192.38 142.93 L1192.63 142.88 L1192.87 142.86 L1193.12 142.86 L1193.37 142.88 L1193.62 142.92 L1193.86 142.98 L1194.11 143.06 L1194.36 143.15 L1194.61 143.24 L1194.85 143.34 L1195.1 143.44 L1195.35 143.53 L1195.6 143.61 L1195.85 143.67 L1196.09 143.72 L1196.34 143.75 L1196.59 143.76 L1196.84 143.76 L1197.08 143.73 L1197.33 143.69 L1197.58 143.63 L1197.83 143.56 L1198.07 143.48 L1198.32 143.4 L1198.57 143.32 L1198.82 143.25 L1199.07 143.18 L1199.31 143.12 L1199.56 143.07 L1199.81 143.04 L1200.06 143.02 L1200.3 143.02 L1200.55 143.03 L1200.8 143.06 L1201.05 143.1 L1201.29 143.15 L1201.54 143.21 L1201.79 143.27 L1202.04 143.33 L1202.28 143.4 L1202.53 143.46 L1202.78 143.51 L1203.03 143.55 L1203.28 143.58 L1203.52 143.6 L1203.77 143.61 L1204.02 143.61 L1204.27 143.59 L1204.51 143.56 L1204.76 143.53 L1205.01 143.49 L1205.26 143.44 L1205.5 143.39 L1205.75 143.34 L1206 143.29 L1206.25 143.25 L1206.5 143.22 L1206.74 143.19 L1206.99 143.17 L1207.24 143.16 L1207.49 143.16 L1207.73 143.17 L1207.98 143.18 L1208.23 143.2 L1208.48 143.23 L1208.72 143.27 L1208.97 143.3 L1209.22 143.34 L1209.47 143.37 L1209.72 143.4 L1209.96 143.43 L1210.21 143.45 L1210.46 143.47 L1210.71 143.48 L1210.95 143.48 L1211.2 143.48 L1211.45 143.47 L1211.7 143.46 L1211.94 143.44 L1212.19 143.42 L1212.44 143.4 L1212.69 143.37 L1212.94 143.35 L1213.18 143.33 L1213.43 143.31 L1213.68 143.29 L1213.93 143.28 L1214.17 143.27 L1214.42 143.27 L1214.67 143.27 L1214.92 143.27 L1215.16 143.28 L1215.41 143.29 L1215.66 143.3 L1215.91 143.31 L1216.15 143.33 L1216.4 143.34 L1216.65 143.36 L1216.9 143.37 L1217.15 143.38 L1217.39 143.39 L1217.64 143.39 L1217.89 143.39 L1218.14 143.4 L1218.38 143.39 L1218.63 143.39 L1218.88 143.38 L1219.13 143.38 L1219.37 143.37 L1219.62 143.36 L1219.87 143.36 L1220.12 143.35 L1220.37 143.34 L1220.61 143.34 L1220.86 143.34 L1221.11 143.33 L1221.36 143.33 L1221.6 143.33 L1221.85 143.33 L1222.1 143.33 L1222.35 143.34 L1222.59 143.34 L1222.84 143.34 L1223.09 143.34 L1223.34 143.35 L1223.59 143.35 L1223.83 143.35 L1224.08 143.35 L1224.33 143.35 L1224.58 143.35 L1224.82 143.35 L1225.07 143.35 L1225.32 143.35 L1225.57 143.35 L1225.81 143.35 L1226.06 143.35 L1226.31 143.35 L1226.56 143.35 L1226.8 143.35 L1227.05 143.35 L1227.3 143.35 L1227.55 143.35 L1227.8 143.35 L1228.04 143.35 L1228.29 143.35 L1228.54 143.35 L1228.79 143.35 L1229.03 143.35 L1229.28 143.35 L1229.53 143.35 L1229.78 143.35 L1230.02 143.35 L1230.27 143.35 L1230.52 143.35 L1230.77 143.35 L1231.02 143.35 L1231.26 143.35 L1231.51 143.35 L1231.76 143.35 L1232.01 143.35 L1232.25 143.35 L1232.5 143.35 L1232.75 143.35 L1233 143.35 L1233.24 143.35 L1233.49 143.35 L1233.74 143.35 L1233.99 143.35 L1234.24 143.35 L1234.48 143.35 L1234.73 143.35 L1234.98 143.35 L1235.23 143.35 L1235.47 143.35 L1235.72 143.35 L1235.97 143.35 L1236.22 143.35 L1236.46 143.35 L1236.71 143.35 L1236.96 143.35 L1237.21 143.35 L1237.46 143.35 L1237.7 143.35 L1237.95 143.35 L1238.2 143.35 L1238.45 143.35 L1238.69 143.35 L1238.94 143.35 L1239.19 143.35 L1239.44 143.35 L1239.68 143.35 L1239.93 143.35 L1240.18 143.35 L1240.43 143.35 L1240.67 143.35 L1240.92 143.35 L1241.17 143.35 L1241.42 143.35 L1241.67 143.35 L1241.91 143.35 L1242.16 143.35 L1242.41 143.35 L1242.66 143.35 L1242.9 143.35 L1243.15 143.35 L1243.4 143.35 L1243.65 143.35 L1243.89 143.35 L1244.14 143.35 L1244.39 143.35 L1244.64 143.35 L1244.89 143.35 L1245.13 143.35 L1245.38 143.35 L1245.63 143.35 L1245.88 143.35 L1246.12 143.35 L1246.37 143.35 L1246.62 143.35 L1246.87 143.35 L1247.11 143.35 L1247.36 143.35 L1247.61 143.35 L1247.86 143.35 L1248.11 143.35 L1248.35 143.35 L1248.6 143.35 L1248.85 143.35 L1249.1 143.35 L1249.34 143.35 L1249.59 143.35 L1249.84 143.35 L1250.09 143.35 L1250.33 143.35 L1250.58 143.35 L1250.83 143.35 L1251.08 143.35 L1251.32 143.35 L1251.57 143.35 L1251.82 143.35 L1252.07 143.35 L1252.32 143.35 L1252.56 143.35 L1252.81 143.35 L1253.06 143.35 L1253.31 143.35 L1253.55 143.35 L1253.8 143.35 L1254.05 143.35 L1254.3 143.35 L1254.54 143.35 L1254.79 143.35 L1255.04 143.35 L1255.29 143.35 L1255.54 143.35 L1255.78 143.35 L1256.03 143.35 L1256.28 143.35 L1256.53 143.35 L1256.77 143.35 L1257.02 143.35 L1257.27 143.35 L1257.52 143.35 L1257.76 143.35 L1258.01 143.35 L1258.26 143.35 L1258.51 143.35 L1258.76 143.35 L1259 143.35 L1259.25 143.35 L1259.5 143.35 L1259.75 143.35 L1259.99 143.35 L1260.24 143.35 L1260.49 143.35 L1260.74 143.35 L1260.98 143.35 L1261.23 143.35 L1261.48 143.35 L1261.73 143.35 L1261.98 143.35 L1262.22 143.35 L1262.47 143.35 L1262.72 143.35 L1262.97 143.35 L1263.21 143.35 L1263.46 143.35 L1263.71 143.35 L1263.96 143.35 L1264.2 143.35 L1264.45 143.35 L1264.7 143.35 L1264.95 143.35 L1265.19 143.35 L1265.44 143.35 L1265.69 143.35 L1265.94 143.35 L1266.19 143.35 L1266.43 143.35 L1266.68 143.35 L1266.93 143.35 L1267.18 143.35 L1267.42 143.35 L1267.67 143.35 L1267.92 143.35 L1268.17 143.35 L1268.41 143.35 L1268.66 143.35 L1268.91 143.35 L1269.16 143.35 L1269.41 143.35 L1269.65 143.35 L1269.9 143.35 L1270.15 143.35 L1270.4 143.35 L1270.64 143.35 L1270.89 143.35 L1271.14 143.35 L1271.39 143.35 L1271.63 143.35 L1271.88 143.35 L1272.13 143.35 L1272.38 143.35 L1272.63 143.35 L1272.87 143.35 L1273.12 143.35 L1273.37 143.35 L1273.62 143.35 L1273.86 143.35 L1274.11 143.35 L1274.36 143.35 L1274.61 143.35 L1274.85 143.35 L1275.1 143.35 L1275.35 143.35 L1275.6 143.35 L1275.84 143.35 L1276.09 143.35 L1276.34 143.35 L1276.59 143.35 L1276.84 143.35 L1277.08 143.35 L1277.33 143.35 L1277.58 143.35 L1277.83 143.35 L1278.07 143.35 L1278.32 143.35 L1278.57 143.35 L1278.82 143.35 L1279.06 143.35 L1279.31 143.35 L1279.56 143.35 L1279.81 143.35 L1280.06 143.35 L1280.3 143.35 L1280.55 143.35 L1280.8 143.35 L1281.05 143.35 L1281.29 143.35 L1281.54 143.35 L1281.79 143.35 L1282.04 143.35 L1282.28 143.35 L1282.53 143.35 L1282.78 143.35 L1283.03 143.35 L1283.28 143.35 L1283.52 143.35 L1283.77 143.35 L1284.02 143.35 L1284.27 143.35 L1284.51 143.35 L1284.76 143.35 L1285.01 143.35 L1285.26 143.35 L1285.5 143.35 L1285.75 143.35 L1286 143.35 L1286.25 143.35 L1286.5 143.35 L1286.74 143.35 L1286.99 143.35 L1287.24 143.35 L1287.49 143.35 L1287.73 143.35 L1287.98 143.35 L1288.23 143.35 L1288.48 143.35 L1288.72 143.35 L1288.97 143.35 L1289.22 143.35 L1289.47 143.35 L1289.71 143.35 L1289.96 143.35 L1290.21 143.35 L1290.46 143.35 L1290.71 143.35 L1290.95 143.35 L1291.2 143.35 L1291.45 143.35 L1291.7 143.35 L1291.94 143.35 L1292.19 143.35 L1292.44 143.35 L1292.69 143.35 L1292.93 143.35 L1293.18 143.35 L1293.43 143.35 L1293.68 143.35 L1293.93 143.35 L1294.17 143.35 L1294.42 143.35 L1294.67 143.35 L1294.92 143.35 L1295.16 143.35 L1295.41 143.35 L1295.66 143.35 L1295.91 143.35 L1296.15 143.35 L1296.4 143.35 L1296.65 143.35 L1296.9 143.35 L1297.15 143.35 L1297.39 143.35 L1297.64 143.35 L1297.89 143.35 L1298.14 143.35 L1298.38 143.35 L1298.63 143.35 L1298.88 143.35 L1299.13 143.35 L1299.37 143.35 L1299.62 143.35 L1299.87 143.35 L1300.12 143.35 L1300.36 143.35 L1300.61 143.35 L1300.86 143.35 L1301.11 143.35 L1301.36 143.35 L1301.6 143.35 L1301.85 143.35 L1302.1 143.35 L1302.35 143.35 L1302.59 143.35 L1302.84 143.35 L1303.09 143.35 L1303.34 143.35 L1303.58 143.35 L1303.83 143.35 L1304.08 143.35 L1304.33 143.35 L1304.58 143.35 L1304.82 143.35 L1305.07 143.35 L1305.32 143.35 L1305.57 143.35 L1305.81 143.35 L1306.06 143.35 L1306.31 143.35 L1306.56 143.35 L1306.8 143.35 L1307.05 143.35 L1307.3 143.35 L1307.55 143.35 L1307.8 143.35 L1308.04 143.35 L1308.29 143.35 L1308.54 143.35 L1308.79 143.35 L1309.03 143.35 L1309.28 143.35 L1309.53 143.35 L1309.78 143.35 L1310.02 143.35 L1310.27 143.35 L1310.52 143.35 L1310.77 143.35 L1311.02 143.35 L1311.26 143.35 L1311.51 143.35 L1311.76 143.35 L1312.01 143.35 L1312.25 143.35 L1312.5 143.35 L1312.75 143.35 L1313 143.35 L1313.24 143.35 L1313.49 143.35 L1313.74 143.35 L1313.99 143.35 L1314.23 143.35 L1314.48 143.35 L1314.73 143.35 L1314.98 143.35 L1315.23 143.35 L1315.47 143.35 L1315.72 143.35 L1315.97 143.35 L1316.22 143.35 L1316.46 143.35 L1316.71 143.35 L1316.96 143.35 L1317.21 143.35 L1317.45 143.35 L1317.7 143.35 L1317.95 143.35 L1318.2 143.35 L1318.45 143.35 L1318.69 143.35 L1318.94 143.35 L1319.19 143.35 L1319.44 143.35 L1319.68 143.35 L1319.93 143.35 L1320.18 143.35 L1320.43 143.35 L1320.67 143.35 L1320.92 143.35 L1321.17 143.35 L1321.42 143.35 L1321.67 143.35 L1321.91 143.35 L1322.16 143.35 L1322.41 143.35 L1322.66 143.35 L1322.9 143.35 L1323.15 143.35 L1323.4 143.35 L1323.65 143.35 L1323.89 143.35 L1324.14 143.35 L1324.39 143.35 L1324.64 143.35 L1324.88 143.35 L1325.13 143.35 L1325.38 143.35 L1325.63 143.35 L1325.88 143.35 L1326.12 143.35 L1326.37 143.35 L1326.62 143.35 L1326.87 143.35 L1327.11 143.35 L1327.36 143.35 L1327.61 143.35 L1327.86 143.35 L1328.1 143.35 L1328.35 143.35 L1328.6 143.35 L1328.85 143.35 L1329.1 143.35 L1329.34 143.35 L1329.59 143.35 L1329.84 143.35 L1330.09 143.35 L1330.33 143.35 L1330.58 143.35 L1330.83 143.35 L1331.08 143.35 L1331.32 143.35 L1331.57 143.35 L1331.82 143.35 L1332.07 143.35 L1332.32 143.35 L1332.56 143.35 L1332.81 143.35 L1333.06 143.35 L1333.31 143.35 L1333.55 143.35 L1333.8 143.35 L1334.05 143.35 L1334.3 143.35 L1334.54 143.35 L1334.79 143.35 L1335.04 143.35 L1335.29 143.35 L1335.54 143.35 L1335.78 143.35 L1336.03 143.35 L1336.28 143.35 L1336.53 143.35 L1336.77 143.35 L1337.02 143.35 L1337.27 143.35 L1337.52 143.35 L1337.76 143.35 L1338.01 143.35 L1338.26 143.35 L1338.51 143.35 L1338.75 143.35 L1339 143.35 L1339.25 143.35 L1339.5 143.35 L1339.75 143.35 L1339.99 143.35 L1340.24 143.35 L1340.49 143.35 L1340.74 143.35 L1340.98 143.35 L1341.23 143.35 L1341.48 143.35 L1341.73 143.35 L1341.97 143.35 L1342.22 143.35 L1342.47 143.35 L1342.72 143.35 L1342.97 143.35 L1343.21 143.35 L1343.46 143.35 L1343.71 143.35 L1343.96 143.35 L1344.2 143.35 L1344.45 143.35 L1344.7 143.35 L1344.95 143.35 L1345.19 143.35 L1345.44 143.35 L1345.69 143.35 L1345.94 143.35 L1346.19 143.35 L1346.43 143.35 L1346.68 143.35 L1346.93 143.35 L1347.18 143.35 L1347.42 143.35 L1347.67 143.35 L1347.92 143.35 L1348.17 143.35 L1348.41 143.35 L1348.66 143.35 L1348.91 143.35 L1349.16 143.35 L1349.41 143.35 L1349.65 143.35 L1349.9 143.35 L1350.15 143.35 L1350.4 143.35 L1350.64 143.35 L1350.89 143.35 L1351.14 143.35 L1351.39 143.35 L1351.63 143.35 L1351.88 143.35 L1352.13 143.35 L1352.38 143.35 L1352.62 143.35 L1352.87 143.35 L1353.12 143.35 L1353.37 143.35 L1353.62 143.35 L1353.86 143.35 L1354.11 143.35 L1354.36 143.35 L1354.61 143.35 L1354.85 143.35 L1355.1 143.35 L1355.35 143.35 L1355.6 143.35 L1355.84 143.35 L1356.09 143.35 L1356.34 143.35 L1356.59 143.35 L1356.84 143.35 L1357.08 143.35 L1357.33 143.35 L1357.58 143.35 L1357.83 143.35 L1358.07 143.35 L1358.32 143.35 L1358.57 143.35 L1358.82 143.35 L1359.06 143.35 L1359.31 143.35 L1359.56 143.35 L1359.81 143.35 L1360.06 143.35 L1360.3 143.35 L1360.55 143.35 L1360.8 143.35 L1361.05 143.35 L1361.29 143.35 L1361.54 143.35 L1361.79 143.35 L1362.04 143.35 L1362.28 143.35 L1362.53 143.35 L1362.78 143.35 L1363.03 143.35 L1363.27 143.35 L1363.52 143.35 L1363.77 143.35 L1364.02 143.35 L1364.27 143.35 L1364.51 143.35 L1364.76 143.35 L1365.01 143.35 L1365.26 143.35 L1365.5 143.35 L1365.75 143.35 L1366 143.35 L1366.25 143.35 L1366.49 143.35 L1366.74 143.35 L1366.99 143.35 L1367.24 143.35 L1367.49 143.35 L1367.73 143.35 L1367.98 143.35 L1368.23 143.35 L1368.48 143.35 L1368.72 143.35 L1368.97 143.35 L1369.22 143.35 L1369.47 143.35 L1369.71 143.35 L1369.96 143.35 L1370.21 143.35 L1370.46 143.35 L1370.71 143.35 L1370.95 143.35 L1371.2 143.35 L1371.45 143.35 L1371.7 143.35 L1371.94 143.35 L1372.19 143.35 L1372.44 143.35 L1372.69 143.35 L1372.93 143.35 L1373.18 143.35 L1373.43 143.35 L1373.68 143.35 L1373.93 143.35 L1374.17 143.35 L1374.42 143.35 L1374.67 143.35 L1374.92 143.35 L1375.16 143.35 L1375.41 143.35 L1375.66 143.35 L1375.91 143.35 L1376.15 143.35 L1376.4 143.35 L1376.65 143.35 L1376.9 143.35 L1377.14 143.35 L1377.39 143.35 L1377.64 143.35 L1377.89 143.35 L1378.14 143.35 L1378.38 143.35 L1378.63 143.35 L1378.88 143.35 L1379.13 143.35 L1379.37 143.35 L1379.62 143.35 L1379.87 143.35 L1380.12 143.35 L1380.36 143.35 L1380.61 143.35 L1380.86 143.35 L1381.11 143.35 L1381.36 143.35 L1381.6 143.35 L1381.85 143.35 L1382.1 143.35 L1382.35 143.35 L1382.59 143.35 L1382.84 143.35 L1383.09 143.35 L1383.34 143.35 L1383.58 143.35 L1383.83 143.35 L1384.08 143.35 L1384.33 143.35 L1384.58 143.35 L1384.82 143.35 L1385.07 143.35 L1385.32 143.35 L1385.57 143.35 L1385.81 143.35 L1386.06 143.35 L1386.31 143.35 L1386.56 143.35 L1386.8 143.35 L1387.05 143.35 L1387.3 143.35 L1387.55 143.35 L1387.79 143.35 L1388.04 143.35 L1388.29 143.35 L1388.54 143.35 L1388.79 143.35 L1389.03 143.35 L1389.28 143.35 L1389.53 143.35 L1389.78 143.35 L1390.02 143.35 L1390.27 143.35 L1390.52 143.35 L1390.77 143.35 L1391.01 143.35 L1391.26 143.35 L1391.51 143.35 L1391.76 143.35 L1392.01 143.35 L1392.25 143.35 L1392.5 143.35 L1392.75 143.35 L1393 143.35 L1393.24 143.35 L1393.49 143.35 L1393.74 143.35 L1393.99 143.35 L1394.23 143.35 L1394.48 143.35 L1394.73 143.35 L1394.98 143.35 L1395.23 143.35 L1395.47 143.35 L1395.72 143.35 L1395.97 143.35 L1396.22 143.35 L1396.46 143.35 L1396.71 143.35 L1396.96 143.35 L1397.21 143.35 L1397.45 143.35 L1397.7 143.35 L1397.95 143.35 L1398.2 143.35 L1398.45 143.35 L1398.69 143.35 L1398.94 143.35 L1399.19 143.35 L1399.44 143.35 L1399.68 143.35 L1399.93 143.35 L1400.18 143.35 L1400.43 143.35 L1400.67 143.35 L1400.92 143.35 L1401.17 143.35 L1401.42 143.35 L1401.66 143.35 L1401.91 143.35 L1402.16 143.35 L1402.41 143.35 L1402.66 143.35 L1402.9 143.35 L1403.15 143.35 L1403.4 143.35 L1403.65 143.35 L1403.89 143.35 L1404.14 143.35 L1404.39 143.35 L1404.64 143.35 L1404.88 143.35 L1405.13 143.35 L1405.38 143.35 L1405.63 143.35 L1405.88 143.35 L1406.12 143.35 L1406.37 143.35 L1406.62 143.35 L1406.87 143.35 L1407.11 143.35 L1407.36 143.35 L1407.61 143.35 L1407.86 143.35 L1408.1 143.35 L1408.35 143.35 L1408.6 143.35 L1408.85 143.35 L1409.1 143.35 L1409.34 143.35 L1409.59 143.35 L1409.84 143.35 L1410.09 143.35 L1410.33 143.35 L1410.58 143.35 L1410.83 143.35 L1411.08 143.35 L1411.32 143.35 L1411.57 143.35 L1411.82 143.35 L1412.07 143.35 L1412.31 143.35 L1412.56 143.35 L1412.81 143.35 L1413.06 143.35 L1413.31 143.35 L1413.55 143.35 L1413.8 143.35 L1414.05 143.35 L1414.3 143.35 L1414.54 143.35 L1414.79 143.35 L1415.04 143.35 L1415.29 143.35 L1415.53 143.35 L1415.78 143.35 L1416.03 143.35 L1416.28 143.35 L1416.53 143.35 L1416.77 143.35 L1417.02 143.35 L1417.27 143.35 L1417.52 143.35 L1417.76 143.35 L1418.01 143.35 L1418.26 143.35 L1418.51 143.35 L1418.75 143.35 L1419 143.35 L1419.25 143.35 L1419.5 143.35 L1419.75 143.35 L1419.99 143.35 L1420.24 143.35 L1420.49 143.35 L1420.74 143.35 L1420.98 143.35 L1421.23 143.35 L1421.48 143.35 L1421.73 143.35 L1421.97 143.35 L1422.22 143.35 L1422.47 143.35 L1422.72 143.35 L1422.97 143.35 L1423.21 143.35 L1423.46 143.35 L1423.71 143.35 L1423.96 143.35 L1424.2 143.35 L1424.45 143.35 L1424.7 143.35 L1424.95 143.35 L1425.19 143.35 L1425.44 143.35 L1425.69 143.35 L1425.94 143.35 L1426.18 143.35 L1426.43 143.35 L1426.68 143.35 L1426.93 143.35 L1427.18 143.35 L1427.42 143.35 L1427.67 143.35 L1427.92 143.35 L1428.17 143.35 L1428.41 143.35 L1428.66 143.35 L1428.91 143.35 L1429.16 143.35 L1429.4 143.35 L1429.65 143.35 L1429.9 143.35" fill="none" stroke="#ff0000" stroke-width="2.0" stroke-linejoin="round" clip-path="url(#ct2)"/>
<path d="M313.7 33.8H346.3" stroke="#0000ff" stroke-width="2"/>
<text x="348.9" y="37.4" font-size="16" text-anchor="start" font-family="'Liberation Sans', Arial, Helvetica, sans-serif" fill="#262626">T<tspan font-size="12.5" dy="7.3">1</tspan></text>
<path d="M372.3 33.8H405.1" stroke="#ff0000" stroke-width="2"/>
<text x="407.4" y="37.4" font-size="16" text-anchor="start" font-family="'Liberation Sans', Arial, Helvetica, sans-serif" fill="#262626">T<tspan font-size="12.5" dy="7.3">2</tspan></text>
<path d="M800.7 33.8H833.3" stroke="#0000ff" stroke-width="2"/>
<text x="835.9" y="37.4" font-size="16" text-anchor="start" font-family="'Liberation Sans', Arial, Helvetica, sans-serif" fill="#262626">T<tspan font-size="12.5" dy="7.3">1</tspan></text>
<path d="M859.3 33.8H892.1" stroke="#ff0000" stroke-width="2"/>
<text x="894.4" y="37.4" font-size="16" text-anchor="start" font-family="'Liberation Sans', Arial, Helvetica, sans-serif" fill="#262626">T<tspan font-size="12.5" dy="7.3">2</tspan></text>
<path d="M1287.7 33.8H1320.3" stroke="#0000ff" stroke-width="2"/>
<text x="1322.9" y="37.4" font-size="16" text-anchor="start" font-family="'Liberation Sans', Arial, Helvetica, sans-serif" fill="#262626">T<tspan font-size="12.5" dy="7.3">1</tspan></text>
<path d="M1346.3 33.8H1379.1" stroke="#ff0000" stroke-width="2"/>
<text x="1381.4" y="37.4" font-size="16" text-anchor="start" font-family="'Liberation Sans', Arial, Helvetica, sans-serif" fill="#262626">T<tspan font-size="12.5" dy="7.3">2</tspan></text>
<path d="M119 585.3C119.48 585.53 120.98 586.67 121.9 586.7C122.82 586.73 123.67 585.83 124.5 585.5C125.33 585.17 126.12 584.67 126.9 584.7C127.68 584.73 128.22 586 129.2 585.7C130.18 585.4 131.7 583.33 132.8 582.9C133.9 582.47 134.82 583.72 135.8 583.1C136.78 582.48 137.72 579.98 138.7 579.2C139.68 578.42 140.53 579.45 141.7 578.4C142.87 577.35 144.48 573.95 145.7 572.9C146.92 571.85 147.85 573.3 149 572.1C150.15 570.9 151.45 567.02 152.6 565.7C153.75 564.38 154.85 565.65 155.9 564.2C156.95 562.75 158.13 558.68 158.9 557C159.67 555.32 159.8 554.75 160.5 554.1C161.2 553.45 162.28 554.75 163.1 553.1C163.92 551.45 164.68 546.52 165.4 544.2C166.12 541.88 166.73 540.2 167.4 539.2C168.07 538.2 168.73 540.17 169.4 538.2C170.07 536.23 170.73 531.52 171.4 527.4C172.07 523.28 172.75 517.63 173.4 513.5C174.05 509.37 174.55 505.9 175.3 502.6C176.05 499.3 176.9 496.23 177.9 493.7C178.9 491.17 179.92 488.88 181.3 487.4C182.68 485.92 184.65 484.9 186.2 484.8C187.75 484.7 189.28 485.48 190.6 486.8C191.92 488.12 193.02 490.23 194.1 492.7C195.18 495.17 196.27 498.13 197.1 501.6C197.93 505.07 198.45 509.2 199.1 513.5C199.75 517.8 200.45 523.43 201 527.4C201.55 531.37 201.9 535.4 202.4 537.3C202.9 539.2 203.42 537.65 204 538.8C204.58 539.95 205.08 541.82 205.9 544.2C206.72 546.58 207.9 551.28 208.9 553.1C209.9 554.92 210.92 553.45 211.9 555.1C212.88 556.75 213.82 561.13 214.8 563C215.78 564.87 216.97 565.32 217.8 566.3C218.63 567.28 219.07 567.15 219.8 568.9C220.53 570.65 221.38 574.98 222.2 576.8C223.02 578.62 223.78 578.15 224.7 579.8C225.62 581.45 226.87 585.15 227.7 586.7C228.53 588.25 229.1 589.43 229.7 589.1C230.3 588.77 230.65 588.07 231.3 584.7C231.95 581.33 232.88 572.58 233.6 568.9C234.32 565.22 234.93 563.92 235.6 562.6C236.27 561.28 236.93 563.58 237.6 561C238.27 558.42 238.95 552.05 239.6 547.1C240.25 542.15 240.68 535.92 241.5 531.3C242.32 526.68 243.33 522.87 244.5 519.4C245.67 515.93 247.02 512.63 248.5 510.5C249.98 508.37 251.75 506.75 253.4 506.6C255.05 506.45 256.92 507.78 258.4 509.6C259.88 511.42 261.15 514.22 262.3 517.5C263.45 520.78 264.32 524.03 265.3 529.3C266.28 534.57 267.38 544.15 268.2 549.1C269.02 554.05 269.43 557.02 270.2 559C270.97 560.98 271.97 559.68 272.8 561C273.63 562.32 274.48 564.77 275.2 566.9C275.92 569.03 276.28 572.32 277.1 573.8C277.92 575.28 279.15 574.12 280.1 575.8C281.05 577.48 281.75 582.3 282.8 583.9C283.85 585.5 285.2 584.07 286.4 585.4C287.6 586.73 288.78 590.62 290 591.9C291.22 593.18 292.48 592.02 293.7 593.1C294.92 594.18 296.22 597.38 297.3 598.4C298.38 599.42 299.12 598.35 300.2 599.2C301.28 600.05 302.72 602.67 303.8 603.5C304.88 604.33 305.48 603.47 306.7 604.2C307.92 604.93 309.88 607.22 311.1 607.9C312.32 608.58 312.8 607.7 314 608.3C315.2 608.9 317.1 610.85 318.3 611.5C319.5 612.15 320.1 611.65 321.2 612.2C322.3 612.75 323.93 614.27 324.9 614.8C325.87 615.33 325.92 614.87 327 615.4C328.08 615.93 330.18 617.43 331.4 618C332.62 618.57 333.08 618.32 334.3 618.8C335.52 619.28 337.48 620.47 338.7 620.9C339.92 621.33 340.4 620.92 341.6 621.4C342.8 621.88 344.7 623.32 345.9 623.8C347.1 624.28 347.72 623.93 348.8 624.3C349.88 624.67 351.32 625.6 352.4 626C353.48 626.4 354.08 626.33 355.3 626.7C356.52 627.07 358.48 627.9 359.7 628.2C360.92 628.5 361.4 628.13 362.6 628.5C363.8 628.87 365.7 629.97 366.9 630.4C368.1 630.83 368.7 630.75 369.8 631.1C370.9 631.45 372.53 632.27 373.5 632.5C374.47 632.73 374.77 632.17 375.6 632.5C376.43 632.83 377.58 634.28 378.5 634.5C379.42 634.72 379.97 633.48 381.1 633.8C382.23 634.12 384.15 636.08 385.3 636.4C386.45 636.72 386.95 635.43 388 635.7C389.05 635.97 390.47 637.7 391.6 638C392.73 638.3 393.65 637.2 394.8 637.5C395.95 637.8 397.35 639.53 398.5 639.8C399.65 640.07 400.55 638.83 401.7 639.1C402.85 639.37 404.27 641.12 405.4 641.4C406.53 641.68 407.37 640.53 408.5 640.8C409.63 641.07 411.13 642.77 412.2 643C413.27 643.23 413.85 641.95 414.9 642.2C415.95 642.45 417.37 644.23 418.5 644.5C419.63 644.77 420.55 643.57 421.7 643.8C422.85 644.03 424.25 645.68 425.4 645.9C426.55 646.12 427.37 644.83 428.6 645.1C429.83 645.37 431.67 647.22 432.8 647.5C433.93 647.78 434.35 646.57 435.4 646.8C436.45 647.03 437.95 648.7 439.1 648.9C440.25 649.1 441.15 647.8 442.3 648C443.45 648.2 444.87 649.83 446 650.1C447.13 650.37 447.97 649.38 449.1 649.6C450.23 649.82 451.73 651.22 452.8 651.4C453.87 651.58 455.05 650.82 455.5 650.7" fill="none" stroke="#0000ff" stroke-width="2.0" stroke-linejoin="round" clip-path="url(#cb0)"/>
<path d="M119 587.1C119.65 587.53 121.75 589.03 122.9 589.7C124.05 590.37 124.92 590.45 125.9 591.1C126.88 591.75 127.98 593.6 128.8 593.6C129.62 593.6 129.97 591.98 130.8 591.1C131.63 590.22 132.87 588.83 133.8 588.3C134.73 587.77 135.42 588.88 136.4 587.9C137.38 586.92 138.65 583.52 139.7 582.4C140.75 581.28 141.55 582.13 142.7 581.2C143.85 580.27 145.45 577.53 146.6 576.8C147.75 576.07 148.43 577.58 149.6 576.8C150.77 576.02 152.45 573.02 153.6 572.1C154.75 571.18 155.52 572.82 156.5 571.3C157.48 569.78 158.67 565.05 159.5 563C160.33 560.95 160.83 559.8 161.5 559C162.17 558.2 162.75 560.33 163.5 558.2C164.25 556.07 165.25 549.2 166 546.2C166.75 543.2 167.27 541.37 168 540.2C168.73 539.03 169.67 541.5 170.4 539.2C171.13 536.9 171.75 530.52 172.4 526.4C173.05 522.28 173.48 518.47 174.3 514.5C175.12 510.53 176.13 505.9 177.3 502.6C178.47 499.3 179.98 496.67 181.3 494.7C182.62 492.73 183.98 491.62 185.2 490.8C186.42 489.98 187.45 489.57 188.6 489.8C189.75 490.03 191.02 490.72 192.1 492.2C193.18 493.68 194.1 495.48 195.1 498.7C196.1 501.92 197.27 506.72 198.1 511.5C198.93 516.28 199.45 521.47 200.1 527.4C200.75 533.33 201.2 543.42 202 547.1C202.8 550.78 203.92 547.68 204.9 549.5C205.88 551.32 206.9 556.15 207.9 558C208.9 559.85 209.97 559.93 210.9 560.6C211.83 561.27 212.68 560.28 213.5 562C214.32 563.72 214.92 568.93 215.8 570.9C216.68 572.87 217.97 572.15 218.8 573.8C219.63 575.45 220.15 577.5 220.8 580.8C221.45 584.1 221.88 590.97 222.7 593.6C223.52 596.23 224.6 595.5 225.7 596.6C226.8 597.7 228.15 600.13 229.3 600.2C230.45 600.27 231.48 597.33 232.6 597C233.72 596.67 235.1 598.93 236 598.2C236.9 597.47 237.25 595.18 238 592.6C238.75 590.02 239.68 584.98 240.5 582.7C241.32 580.42 242.02 580.5 242.9 578.9C243.78 577.3 244.83 575.28 245.8 573.1C246.77 570.92 247.62 567.7 248.7 565.8C249.78 563.9 251.08 561.93 252.3 561.7C253.52 561.47 254.9 562.75 256 564.4C257.1 566.05 258.07 568.47 258.9 571.6C259.73 574.73 260.17 579.93 261 583.2C261.83 586.47 263.05 588.53 263.9 591.2C264.75 593.87 265.37 595.7 266.1 599.2C266.83 602.7 267.7 608.87 268.3 612.2C268.9 615.53 269.15 617.75 269.7 619.2C270.25 620.65 271.03 619.65 271.6 620.9C272.17 622.15 272.57 624.95 273.1 626.7C273.63 628.45 273.78 630.6 274.8 631.4C275.82 632.2 277.75 631.32 279.2 631.5C280.65 631.68 282.53 632.57 283.5 632.5C284.47 632.43 284.47 633.38 285 631.1C285.53 628.82 285.98 620.93 286.7 618.8C287.42 616.67 288.25 618.3 289.3 618.3C290.35 618.3 292.15 617.88 293 618.8C293.85 619.72 294.05 621.03 294.4 623.8C294.75 626.57 294.5 632.98 295.1 635.4C295.7 637.82 296.78 637.45 298 638.3C299.22 639.15 300.7 639.77 302.4 640.5C304.1 641.23 305.07 641.97 308.2 642.7C311.33 643.43 316.85 644.22 321.2 644.9C325.55 645.58 329.7 646.2 334.3 646.8C338.9 647.4 343.97 647.97 348.8 648.5C353.63 649.03 359.15 649.63 363.3 650C367.45 650.37 371 650.65 373.7 650.7C376.4 650.75 378.35 651.02 379.5 650.3C380.65 649.58 379.98 647.27 380.6 646.4C381.22 645.53 382.15 645.32 383.2 645.1C384.25 644.88 386.02 644.62 386.9 645.1C387.78 645.58 387.72 647.2 388.5 648C389.28 648.8 390.63 649.9 391.6 649.9C392.57 649.9 393.5 649.2 394.3 648C395.1 646.8 395.52 643.67 396.4 642.7C397.28 641.73 398.63 642.25 399.6 642.2C400.57 642.15 401.5 641.52 402.2 642.4C402.9 643.28 403.1 646.48 403.8 647.5C404.5 648.52 405.08 647.97 406.4 648.5C407.72 649.03 410.12 650.48 411.7 650.7C413.28 650.92 414.67 649.98 415.9 649.8C417.13 649.62 418.05 650.25 419.1 649.6C420.15 648.95 421.15 646.55 422.2 645.9C423.25 645.25 424.33 645.52 425.4 645.7C426.47 645.88 427.72 646.08 428.6 647C429.48 647.92 429.65 650.37 430.7 651.2C431.75 652.03 433.5 651.73 434.9 652C436.3 652.27 437.7 652.85 439.1 652.8C440.5 652.75 441.88 652 443.3 651.7C444.72 651.4 446.45 651.27 447.6 651C448.75 650.73 449.33 650.1 450.2 650.1C451.07 650.1 451.92 650.73 452.8 651C453.68 651.27 455.05 651.58 455.5 651.7" fill="none" stroke="#ff0000" stroke-width="2.0" stroke-linejoin="round" clip-path="url(#cb0)"/>
<path d="M606 585.3C606.48 585.53 607.98 586.67 608.9 586.7C609.82 586.73 610.67 585.83 611.5 585.5C612.33 585.17 613.12 584.67 613.9 584.7C614.68 584.73 615.22 586 616.2 585.7C617.18 585.4 618.7 583.33 619.8 582.9C620.9 582.47 621.82 583.72 622.8 583.1C623.78 582.48 624.72 579.98 625.7 579.2C626.68 578.42 627.53 579.45 628.7 578.4C629.87 577.35 631.48 573.95 632.7 572.9C633.92 571.85 634.85 573.3 636 572.1C637.15 570.9 638.45 567.02 639.6 565.7C640.75 564.38 641.85 565.65 642.9 564.2C643.95 562.75 645.13 558.68 645.9 557C646.67 555.32 646.8 554.75 647.5 554.1C648.2 553.45 649.28 554.75 650.1 553.1C650.92 551.45 651.68 546.52 652.4 544.2C653.12 541.88 653.73 540.2 654.4 539.2C655.07 538.2 655.73 540.17 656.4 538.2C657.07 536.23 657.73 531.52 658.4 527.4C659.07 523.28 659.75 517.63 660.4 513.5C661.05 509.37 661.55 505.9 662.3 502.6C663.05 499.3 663.9 496.23 664.9 493.7C665.9 491.17 666.92 488.88 668.3 487.4C669.68 485.92 671.65 484.9 673.2 484.8C674.75 484.7 676.28 485.48 677.6 486.8C678.92 488.12 680.02 490.23 681.1 492.7C682.18 495.17 683.27 498.13 684.1 501.6C684.93 505.07 685.45 509.2 686.1 513.5C686.75 517.8 687.45 523.43 688 527.4C688.55 531.37 688.9 535.4 689.4 537.3C689.9 539.2 690.42 537.65 691 538.8C691.58 539.95 692.08 541.82 692.9 544.2C693.72 546.58 694.9 551.28 695.9 553.1C696.9 554.92 697.92 553.45 698.9 555.1C699.88 556.75 700.82 561.13 701.8 563C702.78 564.87 703.97 565.32 704.8 566.3C705.63 567.28 706.07 567.15 706.8 568.9C707.53 570.65 708.38 574.98 709.2 576.8C710.02 578.62 710.78 578.15 711.7 579.8C712.62 581.45 713.87 585.15 714.7 586.7C715.53 588.25 716.1 589.43 716.7 589.1C717.3 588.77 717.65 588.07 718.3 584.7C718.95 581.33 719.88 572.58 720.6 568.9C721.32 565.22 721.93 563.92 722.6 562.6C723.27 561.28 723.93 563.58 724.6 561C725.27 558.42 725.95 552.05 726.6 547.1C727.25 542.15 727.68 535.92 728.5 531.3C729.32 526.68 730.33 522.87 731.5 519.4C732.67 515.93 734.02 512.63 735.5 510.5C736.98 508.37 738.75 506.75 740.4 506.6C742.05 506.45 743.92 507.78 745.4 509.6C746.88 511.42 748.15 514.22 749.3 517.5C750.45 520.78 751.32 524.03 752.3 529.3C753.28 534.57 754.38 544.15 755.2 549.1C756.02 554.05 756.43 557.02 757.2 559C757.97 560.98 758.97 559.68 759.8 561C760.63 562.32 761.48 564.77 762.2 566.9C762.92 569.03 763.28 572.32 764.1 573.8C764.92 575.28 766.15 574.12 767.1 575.8C768.05 577.48 768.75 582.3 769.8 583.9C770.85 585.5 772.2 584.07 773.4 585.4C774.6 586.73 775.78 590.62 777 591.9C778.22 593.18 779.48 592.02 780.7 593.1C781.92 594.18 783.22 597.38 784.3 598.4C785.38 599.42 786.12 598.35 787.2 599.2C788.28 600.05 789.72 602.67 790.8 603.5C791.88 604.33 792.48 603.47 793.7 604.2C794.92 604.93 796.88 607.22 798.1 607.9C799.32 608.58 799.8 607.7 801 608.3C802.2 608.9 804.1 610.85 805.3 611.5C806.5 612.15 807.1 611.65 808.2 612.2C809.3 612.75 810.93 614.27 811.9 614.8C812.87 615.33 812.92 614.87 814 615.4C815.08 615.93 817.18 617.43 818.4 618C819.62 618.57 820.08 618.32 821.3 618.8C822.52 619.28 824.48 620.47 825.7 620.9C826.92 621.33 827.4 620.92 828.6 621.4C829.8 621.88 831.7 623.32 832.9 623.8C834.1 624.28 834.72 623.93 835.8 624.3C836.88 624.67 838.32 625.6 839.4 626C840.48 626.4 841.08 626.33 842.3 626.7C843.52 627.07 845.48 627.9 846.7 628.2C847.92 628.5 848.4 628.13 849.6 628.5C850.8 628.87 852.7 629.97 853.9 630.4C855.1 630.83 855.7 630.75 856.8 631.1C857.9 631.45 859.53 632.27 860.5 632.5C861.47 632.73 861.77 632.17 862.6 632.5C863.43 632.83 864.58 634.28 865.5 634.5C866.42 634.72 866.97 633.48 868.1 633.8C869.23 634.12 871.15 636.08 872.3 636.4C873.45 636.72 873.95 635.43 875 635.7C876.05 635.97 877.47 637.7 878.6 638C879.73 638.3 880.65 637.2 881.8 637.5C882.95 637.8 884.35 639.53 885.5 639.8C886.65 640.07 887.55 638.83 888.7 639.1C889.85 639.37 891.27 641.12 892.4 641.4C893.53 641.68 894.37 640.53 895.5 640.8C896.63 641.07 898.13 642.77 899.2 643C900.27 643.23 900.85 641.95 901.9 642.2C902.95 642.45 904.37 644.23 905.5 644.5C906.63 644.77 907.55 643.57 908.7 643.8C909.85 644.03 911.25 645.68 912.4 645.9C913.55 646.12 914.37 644.83 915.6 645.1C916.83 645.37 918.67 647.22 919.8 647.5C920.93 647.78 921.35 646.57 922.4 646.8C923.45 647.03 924.95 648.7 926.1 648.9C927.25 649.1 928.15 647.8 929.3 648C930.45 648.2 931.87 649.83 933 650.1C934.13 650.37 934.97 649.38 936.1 649.6C937.23 649.82 938.73 651.22 939.8 651.4C940.87 651.58 942.05 650.82 942.5 650.7" fill="none" stroke="#0000ff" stroke-width="2.0" stroke-linejoin="round" clip-path="url(#cb1)"/>
<path d="M606 567.9C606.65 568.57 608.58 570.25 609.9 571.9C611.22 573.55 612.58 575.33 613.9 577.8C615.22 580.27 616.32 584.78 617.8 586.7C619.28 588.62 621.48 589.9 622.8 589.3C624.12 588.7 624.55 584.35 625.7 583.1C626.85 581.85 628.38 582.85 629.7 581.8C631.02 580.75 632.45 577.63 633.6 576.8C634.75 575.97 635.43 577.58 636.6 576.8C637.77 576.02 639.45 573.02 640.6 572.1C641.75 571.18 642.52 572.82 643.5 571.3C644.48 569.78 645.67 565.05 646.5 563C647.33 560.95 647.83 559.8 648.5 559C649.17 558.2 649.75 560.33 650.5 558.2C651.25 556.07 652.25 549.2 653 546.2C653.75 543.2 654.27 541.37 655 540.2C655.73 539.03 656.67 541.5 657.4 539.2C658.13 536.9 658.75 530.52 659.4 526.4C660.05 522.28 660.48 518.47 661.3 514.5C662.12 510.53 663.13 505.9 664.3 502.6C665.47 499.3 666.98 496.67 668.3 494.7C669.62 492.73 670.98 491.62 672.2 490.8C673.42 489.98 674.45 489.57 675.6 489.8C676.75 490.03 678.02 490.72 679.1 492.2C680.18 493.68 681.1 495.48 682.1 498.7C683.1 501.92 684.27 506.72 685.1 511.5C685.93 516.28 686.45 521.3 687.1 527.4C687.75 533.5 688.2 544.42 689 548.1C689.8 551.78 690.92 547.85 691.9 549.5C692.88 551.15 693.9 556.25 694.9 558C695.9 559.75 696.92 559.17 697.9 560C698.88 560.83 699.82 560.85 700.8 563C701.78 565.15 702.8 570.6 703.8 572.9C704.8 575.2 705.82 573.52 706.8 576.8C707.78 580.08 708.72 589.57 709.7 592.6C710.68 595.63 711.87 593.68 712.7 595C713.53 596.32 714.03 598.58 714.7 600.5C715.37 602.42 715.88 606.17 716.7 606.5C717.52 606.83 718.62 603.5 719.6 602.5C720.58 601.5 721.6 601.48 722.6 600.5C723.6 599.52 724.62 599.57 725.6 596.6C726.58 593.63 727.53 586.98 728.5 582.7C729.47 578.42 730.43 573.43 731.4 570.9C732.37 568.37 733.3 568.15 734.3 567.5C735.3 566.85 736.32 566.75 737.4 567C738.48 567.25 739.75 568.52 740.8 569C741.85 569.48 742.62 568.73 743.7 569.9C744.78 571.07 746.33 572.82 747.3 576C748.27 579.18 748.77 585.62 749.5 589C750.23 592.38 750.98 593.63 751.7 596.3C752.42 598.97 753.08 602.72 753.8 605C754.52 607.28 755.33 607.7 756 610C756.67 612.3 756.95 616.98 757.8 618.8C758.65 620.62 760.07 620.07 761.1 620.9C762.13 621.73 763.1 623.32 764 623.8C764.9 624.28 765.78 624.63 766.5 623.8C767.22 622.97 767.15 619.63 768.3 618.8C769.45 617.97 772.18 617.48 773.4 618.8C774.62 620.12 775 625.02 775.6 626.7C776.2 628.38 776.15 628.37 777 628.9C777.85 629.43 779.9 629.05 780.7 629.9C781.5 630.75 780.6 633.08 781.8 634C783 634.92 785.43 634.73 787.9 635.4C790.37 636.07 793.22 637.22 796.6 638C799.98 638.78 804.8 639.57 808.2 640.1C811.6 640.63 814.1 640.65 817 641.2C819.9 641.75 822.47 642.78 825.6 643.4C828.73 644.02 832.17 644.53 835.8 644.9C839.43 645.27 844.62 645.48 847.4 645.6C850.18 645.72 851.32 646.43 852.5 645.6C853.68 644.77 853.22 641.43 854.5 640.6C855.78 639.77 858.85 640.03 860.2 640.6C861.55 641.17 861.82 643.82 862.6 644C863.38 644.18 864.17 643.5 864.9 641.7C865.63 639.9 866.28 635.83 867 633.2C867.72 630.57 868.4 627.73 869.2 625.9C870 624.07 870.93 622.92 871.8 622.2C872.67 621.48 873.43 621.17 874.4 621.6C875.37 622.03 876.18 623.57 877.6 624.8C879.02 626.03 881.32 627.6 882.9 629C884.48 630.4 885.7 631.97 887.1 633.2C888.5 634.43 890.17 635.33 891.3 636.4C892.43 637.47 893.2 637.83 893.9 639.6C894.6 641.37 894.88 645.15 895.5 647C896.12 648.85 896.53 649.92 897.6 650.7C898.67 651.48 900.48 651.7 901.9 651.7C903.32 651.7 905.05 651.83 906.1 650.7C907.15 649.57 907.42 646.23 908.2 644.9C908.98 643.57 909.83 643.02 910.8 642.7C911.77 642.38 913.03 642.47 914 643C914.97 643.53 915.82 644.8 916.6 645.9C917.38 647 917.63 648.9 918.7 649.6C919.77 650.3 921.42 649.83 923 650.1C924.58 650.37 926.8 650.67 928.2 651.2C929.6 651.73 930.33 652.87 931.4 653.3C932.47 653.73 932.75 653.72 934.6 653.8C936.45 653.88 941.18 653.8 942.5 653.8" fill="none" stroke="#ff0000" stroke-width="2.0" stroke-linejoin="round" clip-path="url(#cb1)"/>
<path d="M1093.3 615.51 L1093.66 615.7 L1094.12 616.05 L1094.66 616.52 L1095.27 616.99 L1095.93 617.26 L1096.62 617.19 L1097.32 616.79 L1098.01 616.21 L1098.68 615.7 L1099.3 615.42 L1099.89 615.39 L1100.49 615.59 L1101.08 615.93 L1101.67 616.28 L1102.26 616.51 L1102.84 616.52 L1103.43 616.25 L1104.02 615.77 L1104.61 615.17 L1105.2 614.59 L1105.79 614.18 L1106.38 614.01 L1106.97 614.1 L1107.56 614.4 L1108.14 614.8 L1108.73 615.15 L1109.32 615.31 L1109.91 615.23 L1110.51 614.88 L1111.1 614.36 L1111.7 613.8 L1112.3 613.33 L1112.9 613.09 L1113.5 613.13 L1114.1 613.42 L1114.7 613.84 L1115.3 614.25 L1115.9 614.49 L1116.5 614.48 L1117.1 614.19 L1117.69 613.68 L1118.28 613.08 L1118.87 612.54 L1119.46 612.18 L1120.05 612.07 L1120.64 612.21 L1121.23 612.53 L1121.82 612.88 L1122.41 613.15 L1123 613.2 L1123.6 612.99 L1124.2 612.54 L1124.8 611.96 L1125.4 611.38 L1126 610.96 L1126.6 610.77 L1127.2 610.86 L1127.8 611.14 L1128.4 611.48 L1129 611.74 L1129.59 611.79 L1130.19 611.55 L1130.78 611.04 L1131.37 610.35 L1131.96 609.62 L1132.54 608.98 L1133.13 608.56 L1133.72 608.4 L1134.31 608.49 L1134.9 608.71 L1135.49 608.94 L1136.08 609.03 L1136.67 608.88 L1137.26 608.46 L1137.84 607.84 L1138.43 607.11 L1139.02 606.43 L1139.61 605.92 L1140.21 605.67 L1140.8 605.67 L1141.4 605.87 L1142 606.14 L1142.6 606.32 L1143.2 606.29 L1143.8 605.98 L1144.4 605.41 L1145 604.69 L1145.6 603.97 L1146.2 603.37 L1146.8 603.01 L1147.39 602.89 L1147.98 602.96 L1148.57 603.11 L1149.16 603.19 L1149.75 603.09 L1150.34 602.73 L1150.93 602.11 L1151.52 601.31 L1152.11 600.45 L1152.7 599.7 L1153.3 599.15 L1153.9 598.87 L1154.5 598.84 L1155.1 598.96 L1155.7 599.07 L1156.3 599.05 L1156.9 598.77 L1157.5 598.22 L1158.1 597.46 L1158.7 596.61 L1159.29 595.83 L1159.89 595.24 L1160.48 594.92 L1161.07 594.86 L1161.66 594.97 L1162.24 595.12 L1162.83 595.16 L1163.42 594.98 L1164.01 594.51 L1164.6 593.79 L1165.19 592.89 L1165.78 591.95 L1166.37 591.13 L1166.96 590.52 L1167.54 590.16 L1168.13 590.03 L1168.72 590.01 L1169.31 589.97 L1169.91 589.79 L1170.5 589.38 L1171.1 588.74 L1171.7 587.93 L1172.3 587.07 L1172.9 586.31 L1173.5 585.77 L1174.1 585.51 L1174.7 585.49 L1175.3 585.62 L1175.9 585.74 L1176.5 585.7 L1177.09 585.41 L1177.68 584.84 L1178.27 584.06 L1178.86 583.18 L1179.45 582.32 L1180.04 581.63 L1180.63 581.18 L1181.22 580.98 L1181.81 580.95 L1182.4 580.98 L1183.02 580.89 L1183.66 580.54 L1184.33 579.83 L1185 578.81 L1185.67 577.67 L1186.31 576.62 L1186.92 575.84 L1187.48 575.37 L1187.98 575.14 L1188.4 575.07 L1188.73 575.08 L1188.97 575.13 L1189.14 575.2 L1189.26 575.28 L1189.35 575.35 L1189.43 575.4 L1189.51 575.42 L1189.62 575.37 L1189.78 575.25 L1190 575.01 L1190.28 574.59 L1190.59 573.98 L1190.94 573.18 L1191.3 572.21 L1191.68 571.12 L1192.07 569.97 L1192.46 568.83 L1192.85 567.78 L1193.24 566.89 L1193.6 566.23 L1193.95 565.8 L1194.3 565.58 L1194.65 565.54 L1195 565.62 L1195.35 565.78 L1195.7 565.95 L1196.05 566.07 L1196.4 566.09 L1196.75 565.95 L1197.1 565.59 L1197.46 565.01 L1197.82 564.21 L1198.19 563.24 L1198.57 562.15 L1198.94 560.97 L1199.31 559.79 L1199.67 558.66 L1200.02 557.63 L1200.37 556.73 L1200.7 556 L1201.02 555.44 L1201.32 555.01 L1201.61 554.67 L1201.89 554.39 L1202.17 554.15 L1202.44 553.9 L1202.72 553.61 L1203.01 553.27 L1203.3 552.82 L1203.6 552.25 L1203.92 551.49 L1204.25 550.53 L1204.59 549.39 L1204.94 548.13 L1205.29 546.8 L1205.63 545.45 L1205.97 544.17 L1206.3 542.62 L1206.61 541.83 L1206.9 541.2 L1207.18 540.75 L1207.44 540.44 L1207.7 540.24 L1207.95 540.13 L1208.19 540.09 L1208.42 540.07 L1208.64 540.07 L1208.84 540.04 L1209.03 539.96 L1209.2 539.8 L1209.35 539.62 L1209.48 539.48 L1209.59 539.35 L1209.68 539.22 L1209.76 539.06 L1209.84 538.85 L1209.92 538.57 L1210 538.2 L1210.09 537.72 L1210.2 537.1 L1210.32 536.32 L1210.44 535.39 L1210.56 534.33 L1210.69 533.17 L1210.83 531.96 L1210.96 530.71 L1211.09 529.45 L1211.23 528.23 L1211.36 527.07 L1211.5 526 L1211.63 525 L1211.77 524.02 L1211.9 523.07 L1212.03 522.14 L1212.16 521.22 L1212.3 520.32 L1212.44 519.43 L1212.59 518.55 L1212.74 517.67 L1212.9 516.8 L1213.07 515.93 L1213.24 515.08 L1213.42 514.23 L1213.6 513.4 L1213.79 512.57 L1213.99 511.75 L1214.18 510.93 L1214.39 510.12 L1214.59 509.31 L1214.8 508.5 L1215.01 507.69 L1215.23 506.87 L1215.45 506.05 L1215.67 505.24 L1215.9 504.43 L1216.13 503.63 L1216.37 502.85 L1216.61 502.08 L1216.85 501.33 L1217.1 500.6 L1217.35 499.9 L1217.6 499.21 L1217.86 498.54 L1218.12 497.89 L1218.39 497.26 L1218.66 496.63 L1218.93 496.01 L1219.22 495.4 L1219.5 494.8 L1219.8 494.2 L1220.1 493.6 L1220.4 492.98 L1220.7 492.37 L1221.01 491.77 L1221.33 491.18 L1221.66 490.6 L1222 490.05 L1222.35 489.53 L1222.71 489.04 L1223.1 488.6 L1223.51 488.19 L1223.94 487.79 L1224.4 487.41 L1224.87 487.05 L1225.35 486.73 L1225.83 486.45 L1226.32 486.21 L1226.79 486.01 L1227.25 485.88 L1227.7 485.8 L1228.13 485.79 L1228.56 485.84 L1228.99 485.96 L1229.41 486.12 L1229.83 486.32 L1230.24 486.56 L1230.64 486.82 L1231.04 487.1 L1231.42 487.4 L1231.8 487.7 L1232.17 488.01 L1232.52 488.35 L1232.87 488.71 L1233.21 489.09 L1233.54 489.49 L1233.86 489.92 L1234.18 490.36 L1234.49 490.82 L1234.8 491.3 L1235.1 491.8 L1235.39 492.31 L1235.68 492.82 L1235.95 493.34 L1236.22 493.89 L1236.48 494.45 L1236.74 495.04 L1237 495.67 L1237.26 496.33 L1237.53 497.04 L1237.8 497.8 L1238.08 498.61 L1238.36 499.48 L1238.65 500.39 L1238.94 501.35 L1239.23 502.33 L1239.51 503.34 L1239.79 504.37 L1240.07 505.41 L1240.34 506.46 L1240.6 507.5 L1240.85 508.55 L1241.1 509.6 L1241.34 510.67 L1241.58 511.75 L1241.81 512.85 L1242.03 513.96 L1242.26 515.09 L1242.47 516.24 L1242.69 517.41 L1242.9 518.6 L1243.11 519.84 L1243.32 521.14 L1243.53 522.5 L1243.74 523.87 L1243.94 525.25 L1244.13 526.61 L1244.32 527.94 L1244.49 529.21 L1244.65 530.4 L1244.8 531.5 L1244.93 532.52 L1245.03 533.5 L1245.12 534.44 L1245.19 535.33 L1245.26 536.17 L1245.32 536.95 L1245.4 537.67 L1245.48 538.32 L1245.58 538.9 L1245.7 539.4 L1245.85 539.8 L1246.01 540.09 L1246.19 540.29 L1246.37 540.41 L1246.57 540.48 L1246.77 540.52 L1246.96 540.56 L1247.15 540.75 L1247.33 540.75 L1247.5 540.83 L1247.65 540.93 L1247.78 540.99 L1247.9 541.04 L1248.02 541.09 L1248.13 541.17 L1248.25 541.31 L1248.38 541.54 L1248.53 541.88 L1248.7 542.37 L1248.9 543.05 L1249.13 543.96 L1249.37 545.09 L1249.64 546.4 L1249.92 547.82 L1250.22 549.28 L1250.52 550.7 L1250.84 552.03 L1251.16 553.19 L1251.48 554.15 L1251.8 554.84 L1252.13 555.27 L1252.46 555.49 L1252.8 555.55 L1253.15 555.52 L1253.51 555.47 L1253.86 555.46 L1254.22 555.55 L1254.58 555.81 L1254.94 556.26 L1255.3 556.93 L1255.66 557.82 L1256.01 558.89 L1256.37 560.06 L1256.73 561.28 L1257.09 562.48 L1257.46 563.6 L1257.82 564.59 L1258.18 565.41 L1258.54 566.03 L1258.9 566.43 L1259.26 566.62 L1259.62 566.66 L1259.98 566.61 L1260.34 566.52 L1260.71 566.47 L1261.07 566.49 L1261.43 566.62 L1261.79 566.9 L1262.14 567.33 L1262.5 567.94 L1262.85 568.69 L1263.2 569.53 L1263.55 570.41 L1263.9 571.28 L1264.25 572.09 L1264.6 572.82 L1264.95 573.44 L1265.3 573.92 L1265.65 574.26 L1266 574.46 L1266.36 574.54 L1266.71 574.54 L1267.07 574.52 L1267.43 574.52 L1267.79 574.59 L1268.16 574.74 L1268.52 575.02 L1268.88 575.41 L1269.24 575.92 L1269.6 576.53 L1269.96 577.22 L1270.32 577.95 L1270.68 578.66 L1271.04 579.32 L1271.41 579.9 L1271.77 580.38 L1272.13 580.75 L1272.49 581.01 L1272.84 581.18 L1273.2 581.28 L1273.55 581.33 L1273.9 581.38 L1274.25 581.45 L1274.6 581.59 L1274.95 581.8 L1275.3 582.09 L1275.65 582.48 L1276 582.94 L1276.35 583.46 L1276.7 584.03 L1277.06 584.61 L1277.42 585.16 L1277.78 585.66 L1278.14 586.07 L1278.5 586.39 L1278.86 586.61 L1279.22 586.75 L1279.58 586.83 L1279.94 586.87 L1280.3 586.89 L1280.65 586.94 L1281 587.03 L1281.35 587.19 L1281.7 587.44 L1282.05 587.77 L1282.4 588.17 L1282.75 588.64 L1283.1 589.15 L1283.45 589.68 L1283.8 590.2 L1284.16 590.68 L1284.51 591.1 L1284.87 591.42 L1285.23 591.65 L1285.59 591.79 L1285.96 591.85 L1286.32 591.86 L1286.68 591.84 L1287.04 591.83 L1287.4 591.85 L1287.76 591.94 L1288.12 592.12 L1288.48 592.39 L1288.84 592.76 L1289.21 593.21 L1289.57 593.72 L1289.93 594.25 L1290.29 594.77 L1290.64 595.25 L1291 595.67 L1291.35 595.98 L1291.7 596.18 L1292.05 596.27 L1292.4 596.27 L1292.75 596.2 L1293.1 596.09 L1293.45 595.98 L1293.8 595.9 L1294.15 595.89 L1294.5 595.98 L1294.86 596.21 L1295.21 596.57 L1295.57 597.07 L1295.93 597.68 L1296.29 598.35 L1296.66 599.06 L1297.02 599.75 L1297.38 600.37 L1297.74 600.9 L1298.1 601.28 L1298.46 601.5 L1298.82 601.57 L1299.19 601.51 L1299.55 601.35 L1299.92 601.13 L1300.28 600.9 L1300.64 600.7 L1301 600.58 L1301.35 600.57 L1301.7 600.7 L1302.03 600.96 L1302.35 601.34 L1302.66 601.8 L1302.96 602.32 L1303.26 602.88 L1303.57 603.45 L1303.89 604.02 L1304.24 604.54 L1304.6 604.98 L1305 605.3 L1305.45 605.45 L1305.97 605.41 L1306.53 605.18 L1307.12 604.87 L1307.71 604.63 L1308.28 604.58 L1308.81 604.76 L1309.29 605.09 L1309.69 605.47 L1310 605.8" fill="none" stroke="#0000ff" stroke-width="2.0" stroke-linejoin="round" clip-path="url(#cb2)"/>
<path d="M1093.3 613.7C1094.1 613.98 1096.52 614.6 1098.1 615.4C1099.68 616.2 1101.22 618.27 1102.8 618.5C1104.38 618.73 1106.02 617.4 1107.6 616.8C1109.18 616.2 1110.52 615.28 1112.3 614.9C1114.08 614.52 1116.32 614.7 1118.3 614.5C1120.28 614.3 1122.42 613.63 1124.2 613.7C1125.98 613.77 1127.22 615.17 1129 614.9C1130.78 614.63 1132.93 613.28 1134.9 612.1C1136.87 610.92 1138.82 608.6 1140.8 607.8C1142.78 607 1144.82 607.7 1146.8 607.3C1148.78 606.9 1150.72 606.7 1152.7 605.4C1154.68 604.1 1156.72 601.08 1158.7 599.5C1160.68 597.92 1162.63 596.7 1164.6 595.9C1166.57 595.1 1168.52 594.9 1170.5 594.7C1172.48 594.5 1174.72 596.48 1176.5 594.7C1178.28 592.92 1179.42 586.37 1181.2 584C1182.98 581.63 1185.73 580.88 1187.2 580.5C1188.67 580.12 1188.73 582.1 1190 581.7C1191.27 581.3 1193.62 579.68 1194.8 578.1C1195.98 576.52 1196.32 574.38 1197.1 572.2C1197.88 570.02 1197.72 566.2 1199.5 565C1201.28 563.8 1205.9 563.62 1207.8 565C1209.7 566.38 1209.9 573.88 1210.9 573.3C1211.9 572.72 1212.73 564.47 1213.8 561.5C1214.87 558.53 1215.92 558.08 1217.3 555.5C1218.68 552.92 1220.52 547.65 1222.1 546C1223.68 544.35 1225.42 545.2 1226.8 545.6C1228.18 546 1229.22 546.75 1230.4 548.4C1231.58 550.05 1232.72 553.72 1233.9 555.5C1235.08 557.28 1236.3 556.72 1237.5 559.1C1238.7 561.48 1240.23 565.65 1241.1 569.8C1241.97 573.95 1242.18 579.05 1242.7 584C1243.22 588.95 1243.48 596.33 1244.2 599.5C1244.92 602.67 1246.05 602.02 1247 603C1247.95 603.98 1249.1 604 1249.9 605.4C1250.7 606.8 1251.1 611.08 1251.8 611.4C1252.5 611.72 1252.92 607.7 1254.1 607.3C1255.28 606.9 1257.3 608.43 1258.9 609C1260.5 609.57 1262.52 608.52 1263.7 610.7C1264.88 612.88 1265.02 619.62 1266 622.1C1266.98 624.58 1267.22 624.73 1269.6 625.6C1271.98 626.47 1276.53 626.62 1280.3 627.3C1284.07 627.98 1288.08 628.8 1292.2 629.7C1296.32 630.6 1302.03 632.07 1305 632.7C1307.97 633.33 1309.17 633.37 1310 633.5" fill="none" stroke="#ff0000" stroke-width="2.0" stroke-linejoin="round" clip-path="url(#cb2)"/>
<path d="M315.7 459.6H348.3" stroke="#0000ff" stroke-width="2"/>
<text x="350.9" y="463.2" font-size="16" text-anchor="start" font-family="'Liberation Sans', Arial, Helvetica, sans-serif" fill="#262626">T<tspan font-size="12.5" dy="7.3">1</tspan></text>
<path d="M374.3 459.6H407.1" stroke="#ff0000" stroke-width="2"/>
<text x="409.4" y="463.2" font-size="16" text-anchor="start" font-family="'Liberation Sans', Arial, Helvetica, sans-serif" fill="#262626">T<tspan font-size="12.5" dy="7.3">2</tspan></text>
<path d="M802.7 459.6H835.3" stroke="#0000ff" stroke-width="2"/>
<text x="837.9" y="463.2" font-size="16" text-anchor="start" font-family="'Liberation Sans', Arial, Helvetica, sans-serif" fill="#262626">T<tspan font-size="12.5" dy="7.3">1</tspan></text>
<path d="M861.3 459.6H894.1" stroke="#ff0000" stroke-width="2"/>
<text x="896.4" y="463.2" font-size="16" text-anchor="start" font-family="'Liberation Sans', Arial, Helvetica, sans-serif" fill="#262626">T<tspan font-size="12.5" dy="7.3">2</tspan></text>
<path d="M1289.7 459.6H1322.3" stroke="#0000ff" stroke-width="2"/>
<text x="1324.9" y="463.2" font-size="16" text-anchor="start" font-family="'Liberation Sans', Arial, Helvetica, sans-serif" fill="#262626">T<tspan font-size="12.5" dy="7.3">1</tspan></text>
<path d="M1348.3 459.6H1381.1" stroke="#ff0000" stroke-width="2"/>
<text x="1383.4" y="463.2" font-size="16" text-anchor="start" font-family="'Liberation Sans', Arial, Helvetica, sans-serif" fill="#262626">T<tspan font-size="12.5" dy="7.3">2</tspan></text>
</svg>
</body></html>
